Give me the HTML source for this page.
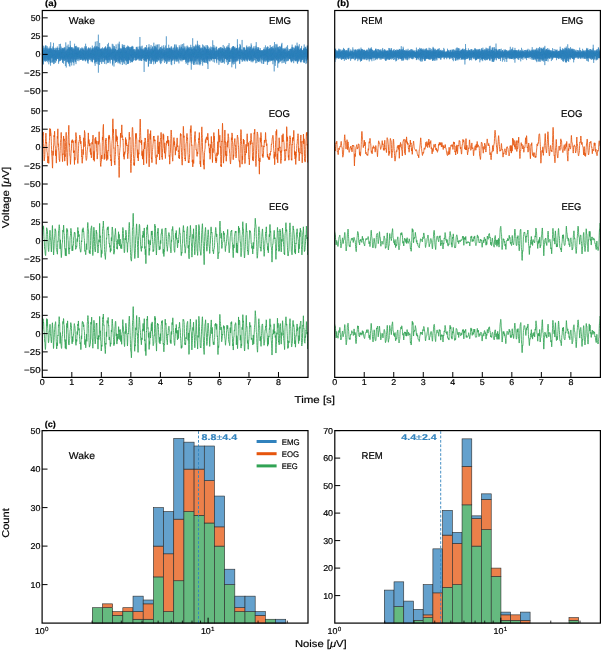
<!DOCTYPE html>
<html><head><meta charset="utf-8"><style>
html,body{margin:0;padding:0;background:#fff;}
svg{display:block;}
text{font-family:"Liberation Sans", sans-serif;stroke-width:0.18px;}
svg{text-rendering:geometricPrecision;}
</style></head><body>
<div style="will-change:transform"><svg width="602" height="650" viewBox="0 0 602 650">
<defs>
<clipPath id="clipA"><rect x="42.3" y="10.5" width="265.7" height="366.9"/></clipPath>
<clipPath id="clipB"><rect x="334.7" y="10.5" width="265.7" height="366.9"/></clipPath>
</defs>
<rect width="602" height="650" fill="#fff"/>
<g clip-path="url(#clipA)">
<path transform="translate(42.30 54.40) scale(0.02883 0.07312)" d="M0-57l1 38 1-39 1 51 1 91 1-10 1-8 1-29 1 37 1 43 1-112 1-59 1 15 1 15 1 47 1-84 1-65 1 164 1 100 1-51 1-16 1-64 1-82 1 64 1 28 1-52 1 37 1 9 1-43 1 6 1 0 1-15 1-23 1 26 1 51 1-24 1 71 1 75 1-124 1-53 1 31 1-48 1 39 1 96 1-25 1-41 1 32 1-40 1-56 1 64 1-32 1-91 1 97 1 45 1-115 1 7 1 132 1 18 1-125 1-30 1 83 1-5 1 2 1 100 1-34 1-104 1 83 1 27 1-125 1 62 1 82 1-68 1-3 1-25 1-35 1 17 1-33 1 27 1 6 1-34 1 96 1 19 1-67 1-4 1 1 1 43 1 30 1-9 1-41 1-70 1 74 1 59 1-45 1 54 1-4 1-58 1 23 1-52 1-79 1-9 1 30 1 39 1 12 1 53 1 62 1-19 1-52 1-82 1-63 1 98 1 118 1-84 1-48 1 104 1-42 1-61 1 36 1-35 1 38 1 3 1-92 1 50 1 18 1-4 1-103 1 115 1 28 1-47 1-89 1 113 1-16 1-66 1 132 1-14 1-94 1 58 1 51 1-10 1 15 1-13 1-70 1 23 1 30 1-48 1 84 1 30 1-124 1 41 1 83 1-35 1-12 1-2 1-22 1-15 1-2 1-2 1 5 1 18 1-27 1-18 1-5 1 2 1 61 1-40 1-64 1 79 1-18 1-81 1 33 1 29 1 50 1 46 1-118 1-61 1 184 1 34 1-167 1 46 1 52 1-98 1 38 1 30 1-8 1 15 1-34 1 42 1 45 1-42 1-47 1-50 1 96 1 50 1-124 1 21 1 9 1-28 1 64 1-79 1 25 1 128 1-88 1-15 1 67 1-33 1 11 1 6 1-33 1-47 1-35 1 36 1 3 1 18 1 72 1 27 1-76 1-6 1 46 1 32 1-83 1-39 1 39 1 1 1 10 1 4 1 52 1 75 1-103 1-82 1 43 1-72 1-2 1 120 1-63 1-70 1 116 1 51 1-77 1-33 1-2 1 24 1 98 1-41 1-117 1 104 1 39 1-91 1 53 1-36 1-33 1 101 1-85 1-54 1 75 1 2 1 26 1-60 1-14 1 104 1-105 1-24 1 121 1-92 1-31 1 146 1 35 1-112 1-57 1 70 1-7 1-15 1 4 1-101 1 76 1 111 1-111 1 7 1 71 1-41 1 16 1 65 1-34 1-103 1 71 1 71 1-173 1 111 1 129 1-70 1 32 1-68 1-214 1 36 1 126 1 39 1 36 1-22 1-84 1-19 1 26 1-37 1 68 1 106 1-118 1-37 1 7 1-20 1 83 1 16 1-77 1 30 1-42 1-19 1 95 1 18 1-18 1-24 1 16 1 29 1-98 1-29 1 39 1-34 1 53 1 47 1-30 1 33 1 13 1 14 1-4 1-113 1 3 1 95 1-10 1-26 1-54 1-34 1 102 1 18 1-64 1 29 1 11 1 27 1 74 1-30 1 4 1 28 1-63 1-108 1 23 1 61 1-28 1-25 1 13 1-20 1 2 1-13 1-20 1 101 1 17 1-81 1 49 1-42 1-86 1 110 1 26 1-33 1 99 1-2 1-111 1-40 1 17 1 27 1 39 1 29 1-68 1-31 1 58 1-74 1-6 1 114 1-47 1-14 1 24 1-16 1 88 1-30 1-31 1 50 1-174 1-54 1 106 1-36 1 44 1 32 1 29 1 76 1-141 1 24 1 157 1-125 1-18 1 68 1-15 1 62 1-80 1-27 1 131 1-87 1-72 1 33 1-73 1-18 1 125 1 1 1 34 1-106 1-1 1 67 1-25 1 41 1-7 1-94 1-6 1-3 1 18 1 39 1-49 1 21 1 50 1-53 1-21 1-2 1 25 1 71 1-29 1 6 1 97 1-36 1-73 1 35 1 19 1-21 1 4 1-40 1-61 1 43 1 17 1-49 1 42 1 5 1-70 1 5 1 76 1 68 1-60 1-34 1 90 1-47 1-22 1 62 1-106 1 20 1 136 1-66 1-82 1-20 1 7 1 66 1-17 1-94 1 40 1 128 1-47 1-68 1 66 1-43 1-5 1 70 1-79 1-5 1 29 1-21 1 53 1-60 1-23 1 122 1-152 1 37 1 83 1-12 1 59 1-22 1-26 1 60 1-65 1-77 1 31 1 66 1-22 1-72 1-4 1 60 1 4 1-21 1 7 1 19 1-55 1-12 1 78 1-29 1-15 1 56 1-29 1 1 1 45 1-12 1-9 1-2 1-11 1-10 1-57 1-57 1-7 1 114 1-16 1 35 1-50 1-58 1 92 1-29 1-66 1 49 1 16 1 66 1 14 1-60 1 22 1-57 1-5 1 96 1-38 1-1 1 37 1-41 1-13 1 65 1-120 1 10 1 34 1 14 1-60 1 33 1 83 1-19 1-15 1-33 1-39 1 19 1 37 1 26 1-49 1 14 1 54 1-74 1 52 1 96 1-101 1-50 1 17 1 7 1 21 1-52 1 23 1 112 1-34 1-71 1 23 1-45 1-37 1 93 1-25 1-66 1 106 1-27 1-111 1 50 1 36 1 5 1-57 1-87 1 116 1 70 1-118 1-17 1 85 1 39 1-13 1-10 1-17 1-15 1 29 1-35 1 10 1 106 1-70 1-71 1 90 1-11 1-48 1 16 1 7 1 18 1-11 1 24 1 57 1-66 1-64 1 53 1 44 1-23 1-37 1 40 1 52 1-88 1-28 1 99 1-54 1-65 1 73 1-3 1-33 1-48 1-86 1 103 1 106 1-106 1-33 1 68 1-29 1-30 1 86 1 52 1-64 1-30 1 38 1 41 1-8 1-51 1 29 1 25 1-56 1-25 1-65 1-12 1 137 1 14 1-45 1 58 1-25 1-68 1 8 1 5 1 29 1 37 1-52 1-45 1-6 1-22 1 70 1 56 1-50 1 26 1 30 1 15 1 13 1-102 1 9 1 50 1-89 1 35 1 24 1-61 1 46 1 37 1 31 1-95 1 19 1 1 1-32 1 77 1 39 1-150 1 57 1 68 1-67 1 26 1-61 1 9 1 97 1-54 1 45 1 79 1-94 1-75 1 79 1 75 1-106 1-5 1 63 1-138 1 18 1 138 1-30 1-72 1-60 1 68 1 37 1-81 1 65 1-23 1-47 1 112 1-14 1 9 1-16 1-106 1 110 1 25 1-120 1 36 1 14 1-12 1 21 1-55 1 60 1 65 1-29 1-35 1 133 1-99 1 13 1 41 1-58 1-89 1 65 1 70 1-23 1-18 1 16 1-30 1-39 1 56 1-13 1-72 1 24 1 3 1 13 1-21 1-60 1 101 1 30 1-40 1 61 1-51 1-10 1 92 1-15 1-59 1-65 1 4 1 24 1 3 1 85 1-23 1-32 1 32 1-120 1-8 1 46 1-42 1 93 1-23 1-91 1 56 1 9 1 34 1-13 1-47 1 130 1 20 1-78 1 3 1-27 1 29 1 27 1-11 1 13 1-69 1 18 1 80 1-48 1 23 1 112 1-190 1 8 1 64 1-7 1-44 1-31 1 51 1 20 1-14 1 60 1-83 1-157 1 74 1 70 1-3 1 96 1-24 1-91 1 19 1-18 1 7 1 29 1-28 1 19 1-20 1-19 1 73 1 5 1 154 1-158 1-63 1 58 1-53 1 91 1-30 1 6 1 7 1-16 1-51 1-26 1 22 1 84 1 58 1-66 1-76 1 2 1 55 1 29 1-70 1-60 1 28 1 43 1 12 1-28 1-51 1-44 1 36 1 126 1 24 1-36 1 35 1-40 1-31 1 26 1-74 1 8 1 64 1-38 1 16 1 5 1 28 1 70 1-125 1-41 1 101 1-25 1 43 1 3 1-89 1 29 1-42 1-30 1 42 1-20 1 63 1-20 1-51 1 110 1-24 1-18 1 52 1-32 1 72 1-87 1-147 1 155 1 3 1-56 1 148 1-56 1-89 1 67 1-58 1-80 1 164 1 65 1-136 1-66 1 58 1-47 1-21 1 85 1 25 1-32 1-53 1 15 1 53 1-33 1 1 1 11 1-32 1-2 1-22 1 65 1 107 1-28 1-28 1-77 1-61 1 116 1-2 1-44 1 81 1-40 1 15 1 120 1-68 1-95 1 61 1-49 1 28 1-42 1-22 1 13 1-79 1 23 1 115 1-8 1-11 1-17 1-98 1 7 1 67 1 24 1 162 1-120 1-126 1 73 1 23 1-113 1 97 1 24 1-82 1 170 1-54 1-244 1 154 1 140 1-87 1-18 1-42 1 31 1 83 1-196 1 66 1 83 1 21 1 38 1 2 1-118 1-30 1 90 1-51 1-59 1 125 1-5 1-62 1 113 1-37 1-145 1 23 1 64 1 16 1-6 1 15 1-20 1-64 1 19 1-24 1 8 1 118 1-76 1-64 1 81 1-12 1 29 1-1 1-28 1 71 1-20 1 9 1-34 1-114 1 117 1 11 1-30 1 152 1-155 1-87 1 203 1-57 1-121 1-27 1 34 1 84 1-103 1-6 1 109 1-17 1 51 1-42 1-67 1 91 1-59 1-39 1 85 1-21 1-17 1 5 1 40 1 45 1-54 1-22 1-22 1-6 1 53 1-8 1 29 1-14 1-61 1 99 1 28 1-125 1-49 1 58 1 15 1-100 1 55 1 107 1-101 1 4 1 38 1-42 1 56 1-39 1 23 1 103 1-139 1-42 1 78 1-29 1 25 1-39 1-28 1 96 1-17 1-58 1-14 1 54 1 79 1-69 1 29 1 86 1-133 1 3 1 95 1-121 1-45 1 42 1-2 1 94 1-7 1-102 1 121 1 89 1-116 1-18 1 1 1-73 1 32 1 32 1-28 1 12 1-5 1 40 1-26 1-38 1 34 1 10 1-3 1 9 1-6 1 50 1-19 1-49 1 71 1-78 1-129 1 131 1 86 1-83 1-2 1 30 1-28 1-43 1-22 1 23 1 34 1-16 1-31 1 73 1 89 1-74 1-85 1 48 1 63 1-12 1-94 1-52 1 108 1 104 1-161 1 83 1-52 1 14 1 37 1 4 1 8 1-63 1-84 1 98 1 99 1-69 1 17 1 75 1-79 1-58 1 50 1 22 1-12 1-42 1-40 1 54 1 59 1-79 1-83 1 134 1 100 1-158 1-56 1 104 1-19 1-56 1 2 1 42 1 30 1-49 1-24 1 41 1 64 1-2 1-86 1 31 1 17 1-49 1 60 1-73 1-69 1 96 1-27 1 57 1 63 1-118 1 64 1 52 1-53 1 35 1-45 1 4 1 1 1-84 1 61 1 33 1 8 1 1 1-70 1 93 1-24 1-121 1 108 1-23 1-19 1 113 1-92 1-53 1 43 1-6 1 49 1-5 1-34 1 31 1 40 1-24 1-59 1 45 1-41 1-81 1 92 1-8 1-17 1 76 1-21 1 40 1-35 1-105 1 87 1 14 1-35 1 45 1-28 1-9 1-5 1-7 1 10 1-18 1 51 1-45 1-66 1 118 1-14 1-92 1 50 1 51 1 23 1-59 1-75 1 36 1 33 1 20 1-5 1-8 1 67 1 9 1-90 1-80 1 63 1 129 1-48 1-47 1 40 1-45 1 15 1 58 1-35 1-34 1-32 1 0 1 23 1-27 1 19 1 31 1-21 1 13 1 33 1-8 1-40 1-24 1 20 1 25 1 22 1 3 1-57 1-19 1 52 1 1 1-13 1-7 1-38 1 66 1 24 1-99 1 64 1 33 1-76 1 80 1-1 1-28 1 59 1-133 1-4 1 121 1-121 1 11 1 101 1-93 1-16 1 75 1 58 1-29 1-128 1 39 1 101 1-42 1-24 1 12 1-21 1-8 1 1 1-5 1 37 1 35 1-64 1 5 1 87 1-75 1-72 1 46 1 7 1 41 1 47 1-25 1 1 1-2 1-23 1 5 1-8 1-53 1-5 1 62 1 21 1-12 1-26 1-41 1 88 1 29 1-148 1 9 1 105 1 8 1-28 1-91 1-23 1 64 1 6 1 47 1 35 1-61 1-7 1 18 1-32 1 41 1-18 1-1 1-23 1-7 1-9 1 58 1 39 1-93 1 1 1 83 1 0 1-5 1-36 1-1 1 63 1-37 1-49 1-44 1-16 1 118 1 5 1-71 1 30 1-45 1-13 1 64 1-7 1 58 1 19 1-145 1-29 1 138 1 43 1-106 1-9 1 91 1-79 1-57 1 145 1-4 1-151 1 30 1 63 1-76 1 11 1 84 1-26 1-10 1 8 1-33 1 62 1 50 1-34 1 1 1-55 1-55 1 66 1 28 1-39 1-23 1 2 1 33 1 3 1-3 1-8 1-44 1 13 1-1 1-25 1 77 1 39 1-25 1-2 1-60 1-7 1 54 1-45 1 14 1 74 1-49 1-9 1 69 1-25 1-37 1-11 1-46 1 49 1 67 1-123 1 17 1 107 1-39 1-13 1-8 1-27 1 78 1-43 1-126 1 29 1 30 1 29 1 54 1-75 1-42 1 98 1 11 1-70 1 68 1 43 1-110 1 28 1 59 1-87 1 50 1 85 1-66 1-34 1 25 1 38 1-41 1-64 1 94 1 54 1-38 1-41 1-57 1 49 1-43 1-112 1 121 1 42 1-89 1 6 1-12 1 55 1 94 1-1 1-103 1 38 1 43 1 33 1-85 1 33 1-9 1-122 1 63 1 82 1-68 1 4 1 87 1-63 1-116 1 96 1 84 1-73 1-19 1 14 1 28 1 32 1-6 1 22 1-47 1-58 1 42 1-16 1-32 1 12 1 22 1 55 1-2 1-38 1-29 1 5 1 60 1-49 1-53 1 86 1 14 1-39 1-9 1-48 1-12 1 54 1 28 1-32 1-31 1-2 1 44 1 101 1-13 1-93 1-9 1-26 1 48 1 79 1-79 1 30 1 85 1-72 1-27 1-21 1-44 1 40 1 14 1 1 1 23 1-10 1-21 1-30 1-9 1 12 1 30 1 27 1-53 1 38 1 116 1-94 1-112 1 39 1-45 1 87 1 87 1-76 1-4 1 42 1-130 1 15 1 87 1-119 1 40 1 115 1-104 1-2 1 84 1-8 1 6 1-53 1-36 1 90 1 30 1-50 1-17 1-8 1-9 1 26 1 23 1-11 1-1 1-21 1 2 1 13 1-83 1 38 1 87 1-123 1 17 1 117 1-83 1-5 1 13 1-76 1 65 1 67 1-41 1 29 1 38 1-3 1-36 1-25 1-5 1-8 1 15 1-16 1-5 1 52 1-16 1-18 1 41 1-1 1-36 1-56 1-24 1 46 1 38 1 36 1-22 1-103 1-7 1 46 1-29 1-32 1-1 1 58 1 80 1-46 1-48 1 74 1 12 1-18 1 61 1-34 1-67 1 41 1-6 1-39 1 48 1 39 1-12 1-10 1-9 1-31 1-20 1 11 1 4 1 49 1 56 1-76 1-78 1-2 1 0 1 64 1 26 1-50 1 32 1-29 1-66 1 70 1 2 1-24 1 91 1-6 1-51 1 24 1-34 1-24 1 39 1-2 1 17 1 21 1-82 1-8 1 139 1-4 1-123 1 42 1 63 1-81 1-42 1 21 1-26 1-4 1 54 1 17 1-47 1-27 1 81 1 92 1-59 1-52 1 42 1-78 1-79 1 103 1 46 1-101 1 21 1 158 1-45 1-143 1 111 1 62 1-84 1 47 1-61 1-72 1 135 1 1 1-70 1 35 1 3 1 5 1 13 1-3 1-69 1-51 1 133 1 20 1-132 1-4 1 9 1-9 1 8 1 29 1 53 1-29 1 34 1 11 1-97 1 61 1-3 1-69 1 67 1-20 1 33 1 13 1-122 1 69 1 49 1-13 1 55 1-79 1 4 1 35 1-75 1 39 1 5 1-7 1 41 1-11 1 53 1-42 1-52 1 66 1-59 1 4 1 61 1-44 1 11 1-19 1 26 1 31 1-150 1 18 1 153 1-14 1-59 1-27 1-16 1-36 1 31 1 88 1-28 1-20 1-15 1 21 1 122 1-112 1-127 1 87 1-9 1 22 1 49 1-33 1 9 1-110 1 124 1 87 1-149 1-10 1 205 1-162 1-35 1 25 1 55 1-99 1-114 1 180 1 53 1-143 1 20 1 88 1 77 1-32 1-52 1 56 1-64 1 14 1 81 1-155 1-2 1 135 1-48 1-16 1 10 1-7 1 6 1-53 1 34 1 43 1-54 1-33 1-29 1 49 1 25 1-97 1 46 1 38 1-78 1 84 1 62 1-84 1-29 1 52 1 98 1-40 1-166 1 41 1 128 1-52 1-91 1 53 1 97 1-80 1-98 1 135 1 72 1-107 1-4 1 34 1 26 1 79 1-93 1-102 1 118 1-67 1-165 1 125 1 45 1-101 1 86 1 61 1-40 1 67 1 32 1-95 1-21 1 71 1-19 1-68 1-2 1 48 1 62 1-33 1-51 1 69 1-10 1-66 1-4 1-47 1 39 1 83 1-35 1 31 1 36 1-71 1-20 1 17 1-9 1-14 1 10 1 4 1-71 1-24 1 113 1 119 1-41 1-166 1-30 1 43 1-19 1 92 1-285 1 520 1-301 1 38 1-44 1 91 1 45 1-117 1 3 1 104 1-47 1-62 1 85 1 28 1-85 1-42 1 7 1 3 1 20 1 65 1 48 1-28 1-67 1-42 1 48 1 8 1-55 1 111 1 36 1-196 1 44 1 157 1-112 1-52 1 94 1-16 1-23 1 22 1 43 1 83 1-41 1-92 1-10 1-100 1-58 1 87 1 60 1 80 1-41 1-104 1 99 1-37 1-69 1 159 1-46 1-107 1 41 1-29 1 69 1 34 1-91 1 50 1-1 1-59 1 65 1 30 1-17 1 11 1 6 1-57 1-34 1 74 1-3 1 6 1 83 1-71 1-41 1 63 1-41 1-37 1 72 1-85 1-33 1 9 1 63 1-8 1-5 1 44 1-1 1 25 1-58 1-69 1 98 1 8 1 1 1 73 1-80 1-3 1 39 1-134 1-10 1 101 1-15 1-27 1-8 1-37 1 14 1 75 1-12 1-60 1 19 1-21 1-27 1 105 1 103 1-15 1-75 1-15 1 1 1-71 1 8 1 45 1-45 1 45 1 62 1-100 1-54 1 86 1 21 1-76 1 16 1 85 1-34 1-46 1 62 1-21 1-78 1 63 1 29 1-68 1 79 1 26 1-158 1 3 1 83 1-30 1 7 1 7 1 26 1 87 1-29 1-49 1 59 1 35 1-73 1-82 1 50 1 19 1-81 1 35 1 38 1-15 1 48 1-26 1-2 1 93 1-29 1-76 1-38 1 17 1 64 1-56 1-31 1 70 1-35 1-11 1 25 1-45 1 26 1-11 1-55 1 83 1 20 1-59 1 51 1 35 1-32 1 14 1 0 1-76 1-4 1 76 1-41 1-55 1 18 1-2 1 67 1-8 1-93 1 129 1 54 1-164 1-11 1 37 1 17 1 69 1-57 1-42 1 109 1 16 1-86 1 51 1 92 1-118 1-50 1 125 1-83 1-96 1 78 1 29 1 67 1-13 1-101 1 85 1-23 1-92 1 108 1-19 1-83 1 52 1-39 1-53 1 62 1 74 1-9 1-61 1 61 1-58 1 37 1-81 1 26 1 70 1 13 1-61 1 7 1 36 1 32 1 28 1-124 1-67 1 93 1-25 1 8 1 91 1-81 1-72 1 47 1 51 1 61 1-41 1-65 1 59 1 1 1-43 1 59 1 13 1-54 1 42 1 13 1-123 1 48 1 164 1-79 1-72 1 52 1-60 1-33 1-9 1-5 1 32 1 120 1-55 1 6 1-68 1 4 1 89 1-9 1-3 1 28 1-36 1-99 1-6 1 106 1-27 1-48 1 29 1-32 1-8 1-36 1 11 1 155 1-7 1-87 1-22 1-24 1 76 1 10 1-29 1 58 1-47 1 20 1 9 1-134 1 115 1 78 1-235 1 106 1 151 1-145 1-32 1 94 1-23 1 11 1 15 1-132 1 5 1 159 1-31 1-77 1 21 1 9 1 17 1 28 1 27 1-46 1-85 1 56 1 71 1-34 1-74 1 1 1 95 1-45 1-47 1 69 1-34 1 72 1 52 1-134 1 24 1-61 1-103 1 151 1 8 1-12 1 87 1-52 1-63 1 35 1-100 1 104 1 10 1-35 1 55 1-49 1 0 1 52 1-49 1-55 1 44 1 131 1 3 1-104 1 27 1 35 1-79 1-46 1 27 1-16 1-22 1 86 1 22 1-88 1 37 1 92 1-31 1-83 1 21 1 61 1-40 1-1 1 14 1-72 1 44 1 13 1-110 1 66 1 44 1-101 1 67 1 117 1-30 1 16 1-20 1 10 1-6 1-40 1-75 1 31 1 62 1-75 1 36 1 127 1-117 1-96 1 104 1 12 1-16 1 24 1-59 1 12 1 47 1-85 1-22 1 50 1-31 1 12 1 66 1-23 1-56 1 11 1 53 1 26 1 10 1-8 1-68 1-27 1 60 1 26 1 2 1 42 1-5 1-58 1 12 1 28 1-47 1-43 1-26 1-10 1 87 1 48 1-78 1 9 1 69 1-50 1-23 1 25 1-40 1 47 1 55 1-93 1 4 1 76 1-43 1-20 1 12 1-20 1-10 1-10 1 0 1-30 1 11 1 68 1-51 1-2 1 111 1-30 1-53 1 14 1-45 1-29 1 44 1-121 1 134 1-20 1-15 1-33 1 63 1 41 1-33 1 159 1-142 1 12 1 101 1-52 1-12 1 70 1-88 1-95 1 35 1 95 1 9 1-60 1 4 1-48 1-23 1 58 1-40 1 0 1-17 1-94 1 72 1 63 1-6 1 53 1-9 1-33 1-52 1-32 1 52 1-19 1 20 1 50 1-66 1 19 1 41 1-16 1 48 1 17 1-7 1-44 1-79 1 40 1 24 1 11 1 48 1-74 1-8 1 27 1-118 1 95 1 185 1-85 1-46 1 51 1-76 1-88 1 12 1 102 1 38 1-105 1-14 1 90 1-9 1-94 1-53 1 45 1 44 1 15 1 51 1-30 1-50 1 72 1 30 1-38 1-30 1-32 1-19 1 92 1-24 1-80 1 32 1 78 1 28 1-30 1-63 1-7 1-12 1-41 1 79 1 32 1-24 1 81 1-60 1-58 1 90 1-50 1 0 1 21 1-106 1 48 1-8 1-19 1 172 1-74 1-114 1 88 1-56 1-26 1 66 1-6 1 59 1 48 1-38 1-64 1-44 1 46 1 40 1-51 1-49 1 63 1 63 1-97 1-69 1 8 1-47 1 8 1 81 1 90 1 40 1-49 1-23 1-21 1 26 1 83 1-83 1-18 1 107 1-85 1-45 1 46 1-76 1 1 1 80 1 34 1-12 1-82 1 6 1 55 1-56 1-16 1 27 1 12 1 35 1-45 1 10 1 105 1-90 1-66 1 128 1-17 1-54 1 65 1-39 1-64 1 17 1-1 1 20 1 24 1-25 1-18 1 0 1-24 1-6 1 21 1 0 1 36 1 22 1-79 1-8 1 60 1-13 1-7 1 43 1 32 1-65 1-27 1-1 1-21 1 108 1 71 1-148 1 4 1 4 1-129 1 111 1 133 1-27 1-85 1-59 1 110 1-17 1-67 1 133 1-11 1-13 1 32 1-124 1 27 1 33 1-38 1 60 1-56 1-8 1 57 1-33 1 12 1-65 1-38 1 44 1-18 1 79 1 13 1-53 1 40 1-51 1 30 1 94 1-34 1-79 1-121 1 115 1 143 1-146 1 78 1 39 1-266 1 30 1 144 1 7 1 10 1-60 1-28 1 30 1 75 1 21 1-135 1 79 1 111 1-151 1 32 1 79 1-108 1-9 1-13 1-31 1 76 1 11 1 12 1 35 1-65 1 12 1 79 1 1 1 44 1 20 1-111 1-43 1 18 1-15 1 59 1 21 1-113 1 6 1 115 1-45 1-51 1 96 1-13 1-82 1 8 1-19 1 20 1 24 1-90 1 7 1 89 1 23 1 7 1-55 1-62 1 8 1 35 1 28 1-52 1-24 1 69 1 16 1-35 1 8 1 96 1 30 1-133 1-36 1 35 1-8 1 42 1-36 1-32 1 99 1 46 1-42 1-73 1 32 1 77 1-119 1-39 1 129 1 12 1-24 1-42 1-52 1 67 1 65 1-24 1-60 1 20 1 44 1-95 1-5 1 79 1-12 1-17 1 100 1-84 1-53 1-18 1-30 1 133 1 4 1-197 1 94 1 191 1-76 1-92 1-86 1-9 1 144 1-39 1-31 1 88 1-45 1 60 1 23 1-125 1 65 1-3 1-76 1 38 1-27 1 91 1 31 1-175 1 80 1 97 1-71 1 42 1-47 1-85 1 82 1 25 1-38 1 35 1 8 1-50 1 52 1 74 1-121 1-114 1 64 1 69 1 45 1-18 1-118 1 31 1 119 1-88 1-67 1 82 1 0 1 54 1 52 1-137 1-19 1 27 1-59 1 100 1 22 1-65 1 124 1 33 1-92 1 11 1 19 1-63 1-43 1 91 1 89 1-19 1-51 1-49 1 0 1-63 1-47 1 117 1-25 1-43 1 97 1-63 1-38 1 14 1-93 1 49 1 123 1 1 1-102 1-29 1 108 1-39 1-42 1 67 1-28 1 40 1-4 1-49 1 70 1-63 1 12 1 95 1-77 1-5 1 8 1-62 1 145 1-37 1 17 1-1 1-154 1 85 1 53 1-36 1 44 1-101 1 12 1 99 1-67 1-18 1-3 1-47 1-1 1 78 1 67 1-68 1-7 1 18 1-34 1 74 1-55 1-45 1 99 1-137 1-6 1 229 1-59 1-132 1 29 1 40 1-32 1-88 1 48 1 95 1-40 1-27 1-11 1-27 1 76 1 79 1-37 1-56 1-32 1 1 1 41 1-57 1-62 1 55 1 9 1 47 1 55 1-89 1-20 1 7 1 26 1 109 1-63 1-16 1 74 1-127 1 15 1 88 1-110 1 14 1 67 1-41 1-30 1-34 1 33 1 92 1 63 1 12 1-98 1-64 1 43 1-4 1 1 1 46 1-87 1-89 1 78 1-17 1-30 1 167 1 5 1-103 1 46 1-30 1-8 1 18 1-106 1 97 1 134 1-105 1 12 1 33 1-118 1 72 1 107 1-147 1-80 1 48 1-48 1-3 1 19 1-33 1 110 1 120 1-21 1-43 1-58 1-55 1-27 1 55 1 111 1-23 1-71 1-26 1 2 1 95 1-10 1-90 1 56 1 13 1-64 1 12 1 54 1 26 1-35 1-7 1 12 1 4 1 50 1-75 1-75 1 122 1 16 1-72 1 46 1 33 1-16 1-53 1-75 1-31 1 23 1 83 1 1 1-88 1 38 1 50 1-40 1 12 1 25 1-28 1 48 1-43 1-35 1 74 1 54 1-75 1-63 1 55 1 45 1 22 1 37 1-93 1-78 1 83 1-33 1-20 1 165 1-11 1-161 1-46 1 32 1 91 1 71 1-8 1-44 1-55 1 25 1 8 1-51 1 33 1-17 1-55 1 69 1 42 1-52 1 2 1 59 1-20 1-25 1 41 1-88 1-51 1 127 1-20 1-69 1 61 1 12 1-6 1 20 1-6 1-24 1-14 1 25 1-5 1 4 1 7 1-106 1-8 1 161 1 34 1-137 1-66 1 94 1 17 1-49 1 53 1-6 1-7 1 30 1-48 1 44 1 15 1-80 1 21 1 6 1 54 1 64 1-104 1 34 1 76 1-157 1-55 1 118 1-33 1-99 1 124 1 88 1-111 1 62 1 8 1-158 1 137 1 69 1-138 1 91 1 16 1-122 1 32 1 28 1-6 1-26 1-37 1 61 1 28 1-43 1-23 1 22 1 42 1-44 1-9 1 64 1-39 1-25 1-21 1-59 1 103 1 63 1-57 1 54 1-15 1-97 1 27 1 56 1 29 1-52 1-73 1 49 1 22 1-21 1-16 1-33 1 102 1 56 1-100 1 9 1 2 1-29 1 59 1-22 1-6 1 71 1-31 1-60 1-13 1 14 1 10 1 13 1 69 1-1 1-55 1-22 1-68 1 19 1 48 1-69 1 36 1 73 1-33 1 35 1 3 1-80 1 15 1 20 1-31 1 28 1 24 1-15 1-7 1-44 1-4 1 72 1 4 1-17 1-7 1-42 1 43 1 38 1-43 1 33 1 18 1-41 1 1 1-23 1-12 1 29 1-22 1-6 1 45 1 1 1-49 1-34 1 25 1 76 1 14 1-69 1-17 1 14 1-7 1 35 1 11 1 21 1 44 1-69 1-27 1 39 1-45 1 2 1 10 1-5 1 23 1-48 1 55 1 63 1-132 1 11 1 79 1-64 1-52 1 64 1 82 1-38 1-34 1 82 1-112 1-71 1 177 1-27 1-75 1 51 1-42 1 22 1 40 1-54 1-13 1-4 1 17 1-33 1-58 1 90 1 61 1-11 1-18 1-67 1 18 1 21 1-13 1 48 1-19 1 3 1 5 1-68 1 62 1-2 1-99 1 86 1 72 1-18 1-15 1-57 1 26 1 65 1 0 1-14 1-50 1-18 1 16 1-17 1 16 1-3 1-66 1 19 1 84 1-33 1-56 1 56 1 11 1-18 1 33 1-23 1-4 1-23 1-84 1 65 1 103 1-13 1-52 1-5 1 61 1-37 1-35 1 65 1-61 1-15 1 37 1-74 1 79 1 35 1-117 1 62 1 49 1-47 1 3 1-13 1 39 1 46 1-32 1-13 1 11 1-22 1-65 1-2 1 38 1-3 1 25 1-29 1-8 1 74 1-62 1-33 1 43 1-27 1 69 1 54 1-31 1-28 1-77 1 51 1 44 1-96 1 56 1 42 1-67 1-28 1-63 1 66 1 111 1-86 1-10 1 76 1-54 1-24 1 77 1-2 1-62 1 31 1 22 1-42 1-8 1-39 1-10 1-174 1 247 1 7 1 29 1 25 1 13 1-74 1-38 1 7 1-41 1 31 1 49 1 4 1 2 1-8 1 63 1-26 1-127 1 67 1 45 1-78 1 28 1 12 1 13 1 39 1-60 1 1 1-2 1-69 1 63 1 6 1-86 1 75 1 80 1-35 1-1 1 11 1-81 1-65 1 107 1 91 1-58 1-19 1-7 1-66 1 5 1 42 1-10 1-17 1 49 1 48 1-44 1 8 1 74 1-11 1-32 1-57 1-61 1 78 1 53 1-77 1-4 1 71 1-22 1-100 1-5 1 120 1 42 1-62 1-24 1-32 1-26 1 75 1 22 1-44 1 49 1 18 1-68 1-70 1-43 1 85 1 82 1-39 1 3 1-12 1-56 1 27 1 66 1 16 1-87 1-31 1 106 1 5 1-35 1 12 1-62 1-29 1 38 1 52 1 32 1-37 1-27 1-27 1 8 1 53 1-52 1-19 1 69 1 14 1-38 1-64 1 48 1 68 1-78 1 26 1 25 1-14 1 40 1-19 1-20 1-11 1 12 1 67 1-89 1-40 1 102 1-23 1-20 1-6 1-13 1 46 1-48 1-14 1 64 1-43 1-57 1 27 1 45 1-21 1 28 1 32 1-134 1 8 1 96 1-34 1 59 1 197 1-311 1 105 1-29 1-34 1 35 1-42 1 32 1 2 1 29 1 61 1-110 1-28 1 42 1 1 1 49 1-23 1 2 1 36 1-17 1-10 1-90 1 18 1 112 1-59 1-45 1 14 1-22 1-54 1 9 1 172 1-12 1-132 1 97 1 42 1-56 1-29 1-25 1 57 1-8 1-31 1-7 1-70 1 91 1 36 1-138 1 94 1 104 1-121 1-33 1 97 1 21 1-24 1 32 1-57 1-90 1 88 1 41 1-107 1-35 1 45 1 36 1 18 1-8 1-37 1 40 1 77 1-69 1-45 1 41 1 6 1 32 1-34 1-26 1 34 1-37 1 51 1-19 1-86 1 130 1-46 1-100 1 188 1 2 1-170 1-61 1 38 1 118 1-4 1-11 1 73 1-79 1-53 1 48 1-38 1-14 1 66 1-2 1-36 1 43 1-22 1-75 1 83 1 50 1-68 1-13 1 27 1 32 1-38 1-23 1 61 1-25 1 8 1 48 1-56 1-39 1 4 1 74 1 7 1-113 1 49 1 13 1-63 1 67 1-30 1-8 1 66 1-24 1 40 1-30 1-54 1 82 1-16 1-49 1 64 1-72 1 12 1-79 1 34 1 62 1-63 1 34 1-11 1 9 1 40 1-118 1 140 1 131 1-183 1 27 1 2 1-45 1 190 1-46 1-98 1 60 1-101 1-2 1 46 1-41 1 105 1-34 1-138 1 43 1-6 1-25 1 54 1 29 1-23 1-122 1 0 1 131 1-36 1 23 1 106 1-62 1-19 1 26 1-5 1 41 1-62 1-52 1 80 1-70 1 48 1 30 1-27 1 72 1-17 1-56 1 20 1-28 1 12 1-27 1-64 1 87 1 45 1-21 1-8 1-74 1-40 1-11 1-7 1 155 1-45 1 50 1 74 1-114 1 1 1 28 1-76 1 6 1 69 1-99 1 68 1-19 1 38 1 5 1-93 1 30 1 31 1-17 1-12 1-47 1 48 1 49 1-54 1 19 1 23 1-39 1-5 1 11 1 50 1 66 1-30 1-57 1 3 1-23 1-25 1 59 1-46 1-105 1 67 1 28 1 11 1 145 1-47 1-161 1 22 1 107 1 84 1-53 1-91 1 9 1-26 1 19 1 26 1-55 1 53 1 32 1-25 1 22 1-59 1-25 1 42 1 30 1 61 1-55 1-42 1-7 1-55 1 76 1 20 1-101 1 2 1 27 1 83 1 9 1-107 1 92 1 68 1-76 1-43 1-35 1 55 1 4 1-12 1 85 1-137 1-43 1 144 1-133 1-16 1 182 1-7 1-24 1-1 1-3 1 12 1-42 1-38 1-34 1 68 1 48 1-108 1 28 1 42 1-32 1 65 1-20 1-31 1-8 1-52 1 136 1-106 1-24 1 117 1-89 1-54 1 77 1-41 1 64 1 78 1-81 1-53 1 18 1 51 1-3 1-26 1 24 1 46 1 65 1-75 1-91 1 70 1-99 1-101 1 179 1 67 1-88 1 15 1 74 1-22 1-102 1 33 1 88 1-54 1-70 1 8 1-8 1-24 1 45 1 28 1-125 1 15 1 135 1-58 1-45 1 43 1-5 1 7 1 33 1 72 1-49 1-139 1 75 1 85 1-26 1 30 1-34 1-46 1-18 1-52 1 58 1 68 1 9 1 63 1-9 1-61 1 6 1 7 1-34 1-76 1 10 1 102 1-42 1-61 1 67 1-10 1-62 1 5 1 48 1 118 1 15 1-162 1 6 1 147 1-93 1-126 1 123 1 16 1-152 1 21 1 93 1-5 1 72 1-71 1-5 1 114 1-65 1-65 1-55 1-55 1 178 1 51 1-153 1-21 1 33 1 74 1 3 1-85 1 71 1 34 1-69 1-21 1 2 1 53 1-21 1-20 1 67 1-66 1-70 1 102 1-36 1 66 1 58 1-56 1-32 1-39 1 34 1 62 1-25 1-44 1-47 1 18 1 44 1 21 1 49 1-62 1-88 1 100 1 12 1-95 1-78 1 113 1 93 1-1 1 30 1-116 1-44 1 111 1-101 1 3 1 101 1-113 1 33 1 82 1-64 1 31 1 9 1-102 1-71 1 80 1 112 1-62 1-26 1 8 1-40 1 82 1 13 1-19 1 80 1-102 1 1 1 82 1-46 1-75 1 3 1 26 1-20 1-25 1 76 1 35 1 4 1-50 1 30 1-17 1-56 1 25 1 40 1-60 1 42 1 70 1-105 1-32 1 101 1-7 1-48 1 62 1 27 1-72 1-37 1 18 1 43 1 0 1-48 1 32 1-40 1-108 1 105 1 120 1-25 1 7 1-10 1-79 1-39 1 54 1 24 1-39 1 50 1 9 1-107 1 21 1 65 1 4 1 14 1-55 1-61 1 84 1 52 1-97 1-32 1 28 1-11 1 87 1 24 1-82 1 49 1-32 1-49 1 148 1 24 1-49 1-1 1-75 1 20 1 18 1-65 1 40 1-21 1-79 1 51 1 61 1-2 1-41 1-5 1 87 1 29 1-71 1-42 1 2 1 47 1 117 1-77 1-43 1 6 1-30 1 22 1 8 1-79 1 45 1 1 1-84 1 76 1 30 1-26 1-4 1-72 1 47 1 23 1-28 1 112 1-45 1-47 1 152 1-35 1-116 1 17 1 37 1-17 1-73 1 29 1 85 1 5 1-16 1-10 1 29 1-41 1-20 1 45 1-41 1-38 1 126 1 4 1-51 1-63 1-94 1 156 1-42 1-41 1 51 1-36 1 23 1-31 1-37 1 131 1-15 1-87 1 36 1 17 1-29 1-57 1 33 1 46 1-39 1 47 1-12 1-35 1 89 1-48 1-53 1 80 1-21 1-86 1 6 1 105 1 10 1-69 1 45 1 6 1 14 1 57 1-69 1 22 1 23 1-99 1 12 1-33 1-22 1 110 1-16 1-14 1 24 1-49 1 11 1-8 1-3 1 77 1 5 1-46 1-28 1 5 1 16 1-6 1 26 1-28 1 3 1-24 1-110 1 70 1 86 1-57 1 37 1 1 1-26 1 41 1-46 1-12 1-25 1-39 1 92 1-45 1-44 1 139 1-25 1-72 1 42 1 20 1 37 1 1 1 10 1 15 1-95 1 20 1 53 1-116 1 45 1 87 1-105 1 58 1 96 1-150 1-24 1 122 1-34 1-69 1-2 1 75 1-59 1-27 1 28 1 24 1-25 1 22 1 17 1 1 1 12 1 14 1 9 1-82 1 4 1 117 1-67 1-41 1 59 1-57 1 8 1 36 1-29 1 18 1-61 1-78 1 31 1 58 1 40 1-41 1 30 1 96 1-85 1-62 1 61 1 32 1 60 1-33 1-131 1-10 1 28 1 29 1 82 1-9 1-56 1 57 1-3 1-129 1 3 1 72 1-29 1-7 1 42 1 30 1-21 1-261 1 231 1 5 1-20 1 34 1 4 1 5 1 120 1-124 1 13 1 15 1 7 1-25 1-40 1 39 1-4 1-70 1-33 1 20 1 130 1 17 1-102 1 35 1-7 1-22 1 107 1 34 1-73 1-90 1 61 1-28 1-67 1 55 1 28 1-89 1 75 1 36 1-21 1 31 1-81 1 53 1 83 1-144 1 9 1 93 1-71 1-12 1 43 1-34 1-21 1 62 1-48 1-56 1 87 1 65 1-95 1 6 1 45 1 16 1-17 1-103 1 13 1 50 1-26 1 102 1 24 1-133 1 27 1 73 1-31 1-8 1 9 1 7 1 1 1-47 1 4 1 56 1-8 1 40 1 27 1-172 1-60 1 139 1-27 1-57 1 89 1 28 1-30 1-13 1-26 1-19 1 17 1 82 1 19 1-85 1 2 1 34 1-50 1 7 1 54 1-19 1 27 1 38 1-124 1-37 1 94 1-81 1-18 1 136 1-7 1-17 1-42 1-67 1 137 1 47 1-108 1-26 1-8 1 81 1 41 1-89 1 25 1 1 1-30 1 64 1-10 1-24 1-54 1-55 1 122 1 16 1-134 1 23 1 101 1 1 1-75 1-8 1 14 1-36 1 52 1 38 1-15 1 62 1-29 1-73 1 48 1 34 1-26 1 5 1 37 1-45 1-62 1 41 1-27 1-40 1 59 1 11 1 17 1 18 1-2 1 0 1-102 1 13 1 74 1-61 1 125 1 54 1-245 1 15 1 111 1-77 1 92 1 61 1-124 1 60 1 74 1-113 1-51 1-7 1 9 1 64 1-29 1 14 1 11 1-109 1 127 1 127 1-115 1 52 1-9 1-165 1 76 1 69 1-62 1-10 1-36 1 8 1 66 1-8 1-19 1 42 1-19 1-96 1 55 1 106 1-65 1-67 1-7 1 19 1 57 1-16 1-45 1-4 1-2 1 6 1 33 1 56 1 0 1-37 1-40 1-26 1 112 1 12 1-122 1 74 1 65 1-3 1-6 1-143 1 34 1 111 1-82 1 37 1 15 1-90 1 46 1-12 1-45 1 35 1-18 1-1 1 57 1 39 1-16 1-30 1 17 1-9 1-47 1-6 1 38 1-11 1-83 1 14 1 78 1 2 1 17 1 15 1-42 1-47 1-8 1 77 1 45 1-66 1-42 1 21 1-2 1-13 1 48 1-29 1-84 1 83 1 72 1-24 1 6 1-51 1 8 1 92 1-16 1-43 1 45 1 65 1-76 1-75 1 58 1-77 1-5 1 79 1-168 1 42 1 151 1-120 1 30 1 62 1-16 1 39 1-195 1 1 1 202 1-19 1-36 1 20 1-71 1-6 1 73 1 59 1-21 1-33 1 17 1-42 1-40 1 7 1-16 1 1 1 27 1 29 1 26 1-22 1-45 1 5 1 2 1-31 1 57 1 63 1-20 1-26 1-81 1-9 1 75 1-28 1 45 1 12 1-128 1 35 1 29 1-36 1 70 1 30 1 11 1-19 1 0 1 70 1-65 1 13 1 16 1-197 1 69 1 161 1-86 1-17 1-51 1-51 1 137 1 18 1-68 1 46 1 42 1-14 1-60 1-45 1 26 1 12 1-3 1 24 1-11 1 16 1 58 1-75 1-72 1 41 1 2 1 53 1 21 1-76 1 67 1 37 1-52 1 24 1-25 1 17 1 23 1-71 1-79 1 33 1 67 1 60 1-58 1-35 1-16 1 45 1 96 1-77 1-30 1 26 1-74 1 52 1 2 1-58 1 119 1 10 1-52 1 20 1-95 1-33 1 70 1-3 1 20 1 42 1-36 1-50 1 3 1 24 1 8 1-5 1 6 1 53 1 55 1 3 1-30 1-62 1-14 1 56 1 0 1-53 1-30 1 3 1 26 1 16 1-9 1-43 1-4 1 72 1 15 1-72 1-36 1 90 1 102 1-81 1-83 1 76 1-2 1-78 1 27 1 41 1-3 1-10 1-41 1 26 1 75 1-103 1-91 1 116 1 24 1-88 1 22 1 67 1 3 1-35 1 48 1 6 1-137 1 39 1 103 1-38 1 43 1 13 1-93 1 61 1-112 1 54 1 48 1-16 1-48 1 33 1 89 1-41 1-104 1 52 1-10 1-38 1 112 1-2 1-55 1 37 1-5 1-13 1-11 1 10 1 20 1-58 1 6 1 73 1-25 1-40 1 23 1-32 1-58 1 94 1 65 1-85 1-1 1 6 1-3 1 98 1-76 1-25 1 35 1-134 1 63 1 99 1-103 1 76 1 18 1-180 1 20 1 110 1 26 1-8 1-26 1 22 1 30 1-28 1-42 1 18 1 40 1-61 1-66 1 65 1 78 1-11 1-11 1 31 1-35 1-41 1 26 1 15 1 30 1-65 1-75 1 150 1 12 1-100 1 97 1-31 1-43 1 102 1-62 1-49 1 16 1-24 1 29 1-39 1 36 1 70 1-115 1 35 1 20 1-154 1 46 1 128 1-32 1 4 1 17 1-44 1-60 1 34 1 80 1-74 1-23 1 127 1-8 1-77 1 22 1 30 1-17 1-11 1 13 1 6 1 26 1 31 1-46 1-82 1-18 1 57 1 48 1 32 1 13 1-95 1-47 1 81 1 22 1-17 1-49 1-49 1 78 1 21 1-42 1 54 1-27 1-81 1 72 1 64 1-150 1-65 1 214 1 12 1-163 1 91 1 49 1-101 1-18 1 22 1 89 1-112 1 97 1 7 1-44 1 44 1 39 1-187 1 1 1 166 1-14 1-25 1 2 1-7 1 14 1-29 1 18 1 52 1-45 1-57 1 35 1-4 1-80 1 40 1 64 1-8 1 46 1-51 1-65 1 80 1-42 1-76 1 44 1 21 1 48 1 46 1-54 1-63 1 38 1 73 1-74 1-27 1 84 1-60 1-17 1 56 1-44 1 42 1 62 1-41 1-24 1 22 1 31 1-67 1-19 1 121 1-48 1-94 1 48 1-28 1-30 1 55 1 8 1-24 1-15 1 4 1 3 1-58 1 1 1 132 1-19 1-147 1 116 1 122 1-123 1-38 1-11 1-12 1 63 1-59 1 24 1 99 1-66 1-12 1-21 1-11 1 88 1-96 1-11 1 138 1-72 1 11 1 96 1-85 1-22 1 69 1 8 1-71 1-96 1 6 1 33 1-7 1 40 1 62 1 9 1-58 1 1 1 44 1-58 1-7 1 65 1-45 1-25 1-99 1 95 1 20 1 21 1-68 1-18 1 45 1 47 1 20 1-86 1-53 1 46 1-4 1 23 1 43 1 12 1 83 1-40 1-104 1 117 1 68 1-96 1-62 1-37 1 26 1 21 1-69 1 22 1 73 1-54 1-76 1 103 1 79 1-19 1 57 1-51 1-148 1 29 1 19 1-24 1 84 1 7 1-71 1-25 1 56 1 107 1-65 1-123 1 89 1 71 1-95 1-19 1 80 1 9 1 10 1 43 1-67 1-80 1 15 1 50 1 55 1-49 1-104 1 35 1 89 1-1 1-57 1-28 1 1 1-30 1 15 1 80 1 30 1-33 1-31 1 11 1 0 1-13 1 46 1-11 1-98 1 26 1 106 1-34 1-56 1 50 1-17 1-2 1 51 1-97 1-50 1 156 1-77 1 41 1 76 1-91 1 4 1-21 1 3 1 120 1-89 1-91 1 92 1 30 1-52 1-87 1-7 1 66 1 31 1 45 1-37 1-1 1 79 1-90 1-33 1 68 1-51 1 20 1 26 1-58 1 3 1-52 1-53 1 84 1 73 1 29 1 23 1-28 1-71 1-50 1 55 1 100 1-29 1-54 1 74 1 6 1-102 1-39 1-15 1 30 1 45 1 209 1-233 1 4 1-17 1 73 1 59 1-36 1-78 1 17 1 31 1-112 1 32 1 129 1-55 1-66 1-58 1 52 1 135 1-123 1 13 1 153 1-162 1-46 1 87 1-57 1 73 1 84 1-26 1-42 1-87 1 53 1 75 1-83 1-31 1-20 1-16 1 93 1-9 1-55 1 62 1-16 1-10 1 91 1-70 1-79 1 77 1-2 1-48 1-186 1 146 1 82 1 31 1-10 1-31 1-63 1 76 1 14 1-67 1 97 1 14 1-42 1 11 1-86 1 26 1 53 1-103 1 4 1 78 1 34 1 8 1-63 1-16 1 19 1-41 1 34 1 51 1-66 1 35 1 133 1-95 1-131 1 69 1 48 1 1 1-38 1 9 1 145 1-91 1-171 1 107 1 37 1-47 1 6 1-26 1 39 1 34 1-4 1-25 1-104 1-6 1 44 1-13 1 71 1 120 1 3 1-139 1-8 1 107 1-74 1-15 1 37 1-106 1 39 1 79 1-46 1-11 1 51 1-3 1-122 1 28 1 155 1-101 1 6 1 58 1-153 1 133 1 107 1-141 1 36 1-32 1 1 1 85 1-124 1 33 1 41 1-102 1 91 1-52 1-94 1 135 1-22 1-57 1 15 1-32 1 71 1 8 1-66 1 127 1 19 1-51 1-89 1-75 1 128 1 107 1-52 1-37 1-11 1-7 1-1 1 27 1 25 1-60 1 17 1 72 1-63 1-57 1-17 1 6 1 93 1-8 1-48 1 56 1-54 1-39 1 153 1 40 1-107 1-42 1-33 1-21 1 65 1 59 1-11 1-72 1-38 1 37 1 0 1 32 1 41 1-132 1-28 1 145 1-2 1-9 1 36 1-73 1 29 1 75 1-109 1-109 1 48 1 100 1 15 1-26 1 62 1-95 1-29 1-46 1 118 1-16 1 10 1 128 1-157 1-167 1 163 1 79 1-52 1 4 1 24 1 20 1-38 1 19 1 17 1-71 1 55 1-16 1-70 1 113 1-61 1-136 1 115 1 19 1 27 1 4 1 12 1 4 1-86 1 34 1 53 1-51 1-34 1 74 1 18 1-7 1-93 1-69 1 17 1 45 1 48 1-21 1 29 1 43 1-35 1-47 1 27 1 108 1-83 1-120 1 110 1 25 1-11 1-3 1-91 1 72 1 2 1-41 1 183 1-38 1-98 1 70 1-115 1-26 1 93 1-129 1-28 1 117 1-4 1 53 1 90 1-121 1-44 1 8 1-32 1 96 1 57 1-135 1-4 1 81 1 23 1-37 1-119 1 32 1 76 1-14 1 67 1-62 1-122 1 115 1 135 1-6 1-21 1 50 1-71 1-137 1 92 1 9 1-118 1 40 1-20 1 25 1 65 1-106 1-3 1 31 1-7 1 44 1-79 1 9 1 103 1-25 1-14 1-29 1 46 1 59 1-136 1 52 1 153 1-111 1-36 1 74 1-52 1-79 1-5 1 97 1 59 1-79 1-11 1 80 1-19 1-54 1-12 1-17 1 73 1 61 1-82 1-1 1 25 1-104 1-34 1 69 1 50 1-27 1-24 1 64 1-16 1-29 1 47 1-39 1-20 1 27 1 18 1 44 1-76 1-44 1 83 1-34 1-19 1 54 1-63 1-48 1 65 1 22 1-23 1 25 1-26 1-27 1 80 1-38 1-80 1 23 1-31 1 65 1 99 1-82 1-36 1 49 1 82 1-15 1-156 1 64 1 40 1-158 1 118 1 172 1-35 1-64 1-90 1 44 1 69 1-125 1-31 1 94 1 19 1-25 1 0 1 8 1-49 1-6 1 58 1-37 1-43 1 67 1 101 1-20 1-140 1-2 1 80 1-22 1 1 1 10 1-22 1 14 1-13 1-19 1-14 1-23 1 61 1 59 1-72 1-110 1 41 1 158 1-3 1-59 1 90 1-60 1-101 1-1 1-18 1 21 1 130 1-8 1-86 1 19 1 33 1-31 1-51 1-10 1-21 1-16 1 109 1 82 1-96 1-103 1 63 1 154 1-24 1-132 1 24 1 22 1-4 1 61 1-82 1-86 1 119 1 93 1-49 1-84 1 0 1 83 1 2 1-62 1-9 1 10 1 5 1 7 1 36 1 70 1-19 1-100 1 1 1 10 1-86 1 54 1 90 1-108 1-52 1 31 1-19 1 65 1 34 1-43 1 32 1 1 1 1 1 69 1-10 1-58 1-6 1-24 1-25 1 68 1 11 1-97 1 27 1 26 1-47 1 76 1-3 1-18 1 120 1-101 1-140 1 97 1 58 1 10 1 1 1-40 1-38 1-21 1 136 1 38 1-192 1 20 1 72 1-35 1 84 1-58 1-78 1 162 1-5 1-128 1 34 1 34 1-19 1 11 1 55 1-3 1-62 1 17 1-18 1-78 1 3 1 34 1 73 1 15 1-84 1 20 1 8 1-39 1 20 1-24 1 24 1 48 1 21 1 5 1-159 1 46 1 179 1-223 1-21 1 203 1-145 1 39 1 163 1-114 1-33 1 36 1 40 1-24 1-111 1 94 1-4 1-115 1 134 1 11 1-81 1 61 1 173 1-160 1-55 1-95 1 93 1 77 1-16 1-47 1-31 1 75 1-6 1-62 1 62 1 17 1-96 1-30 1 111 1 48 1-58 1 1 1-65 1-36 1 84 1-46 1-20 1 40 1-40 1 82 1 34 1-78 1 32 1-30 1-30 1 95 1-11 1-64 1 43 1 38 1-50 1-28 1 38 1-33 1-48 1 24 1 20 1 16 1 33 1 40 1-40 1-120 1 11 1 84 1 1 1-36 1-11 1 84 1 53 1-56 1-21 1-13 1 4 1 8 1-37 1 50 1 21 1-68 1-2 1-24 1-2 1 73 1 18 1-31 1-22 1 74 1 29 1-129 1 22 1 71 1-116 1-15 1 79 1-43 1-45 1 59 1 58 1-32 1-23 1 39 1-28 1 11 1 52 1-59 1-52 1 49 1-15 1-85 1 71 1 100 1-90 1-42 1 97 1 42 1-24 1-18 1 29 1-13 1-84 1 7 1 33 1-25 1 5 1 25 1 29 1 20 1-21 1-66 1-28 1 109 1 25 1-97 1 55 1 37 1-74 1-20 1-8 1 62 1 55 1-91 1-38 1 23 1-3 1 19 1 9 1 8 1-42 1-71 1 59 1 62 1-34 1-4 1 1 1-35 1-6 1 59 1 61 1-61 1-87 1 70 1 66 1-35 1 37 1-5 1-94 1 46 1 51 1-48 1 34 1 20 1-57 1-12 1 13 1 6 1 12 1 22 1-16 1-216 1 222 1 16 1-63 1-33 1 0 1 21 1 23 1 14 1-30 1-77 1 54 1 119 1 27 1-14 1-110 1-49 1 112 1 17 1-11 1 19 1-18 1 11 1-83 1-62 1 99 1-19 1-82 1 52 1 52 1-23 1-36 1-18 1 26 1 71 1-11 1-49 1 38 1-90 1-51 1 188 1 3 1-71 1 38 1-106 1 8 1 116 1-44 1-11 1 15 1 7 1 37 1-35 1-27 1 14 1 41 1 18 1-39 1 54 1 35 1-70 1-44 1-17 1 33 1-35 1-60 1 93 1-6 1-59 1 47 1-25 1 6 1 61 1 18 1-17 1-123 1-21 1 105 1 20 1 35 1-20 1-88 1 46 1 66 1-61 1-83 1 53 1 61 1-48 1 35 1 17 1-57 1 39 1-29 1-20 1 99 1-31 1-75 1 30 1 25 1-12 1 16 1 29 1-63 1 0 1 69 1-93 1 3 1 91 1-81 1 17 1 45 1-79 1 6 1 6 1 4 1 77 1 20 1-30 1-26 1 34 1 0 1-90 1 46 1 51 1-108 1-48 1 70 1 111 1 20 1-73 1-19 1-49 1 11 1 72 1-112 1-31 1 89 1-49 1 64 1 120 1-68 1-51 1-21 1-27 1 71 1 47 1-37 1-13 1-1 1-39 1 4 1 27 1-49 1-2 1 32 1-35 1 46 1 24 1-68 1 55 1 53 1-28 1-9 1-33 1 9 1-14 1-58 1 68 1 11 1-57 1 54 1-8 1-34 1 34 1-38 1-27 1 42 1 29 1 8 1-8 1 14 1 9 1-29 1-22 1-23 1 16 1 56 1-8 1-14 1 31 1-16 1-36 1 16 1-1 1-53 1-26 1 52 1 87 1 2 1-27 1 43 1-36 1-87 1 2 1 22 1 64 1-7 1-96 1 57 1 42 1-43 1-12 1-74 1 98 1 132 1-173 1-22 1 121 1-105 1-46 1 82 1 16 1-12 1 4 1-21 1-56 1 53 1 48 1-78 1 65 1 72 1-122 1-44 1 62 1 42 1 17 1-14 1-21 1-22 1 22 1-7 1-40 1 78 1 11 1-100 1 17 1 76 1 48 1-57 1-123 1 27 1 57 1-24 1-26 1-44 1 31 1 71 1-11 1-24 1-9 1 58 1 91 1-45 1-74 1 29 1 44 1 4 1-23 1-38 1-21 1 1 1 24 1 37 1-14 1-18 1 5 1-95 1-21 1 140 1-1 1-14 1 56 1-106 1-14 1 56 1-83 1 59 1 29 1-129 1 63 1 42 1-75 1 47 1-7 1-8 1 108 1-14 1-44 1 12 1-67 1-11 1 32 1-16 1 64 1-14 1-89 1 110 1 39 1-26 1-64 1 49 1-53 1 86 1 56 1-85 1-22 1-21 1-26 1 64 1-19 1-93 1 20 1 72 1 41 1-24 1-37 1 45 1 15 1-25 1-9 1-52 1 25 1 34 1-87 1 41 1 136 1-31 1-108 1 21 1 103 1-72 1-112 1 79 1-1 1-68 1 55 1 27 1 6 1 2 1-34 1-22 1-34 1 82 1 103 1-64 1-31 1-28 1-62 1 71 1 36 1-51 1-18 1-89 1 85 1 52 1 12 1-38 1-13 1 109 1 30 1-146 1-33 1 81 1-14 1-17 1 49 1 3 1-8 1 21 1-11 1-5 1-30 1-37 1 89 1 2 1-124 1 40 1 68 1-23 1 3 1-37 1-20 1 36 1-26 1 6 1 67 1-23 1-47 1 34 1 7 1-24 1 17 1-9 1-15 1-8 1 34 1 118 1-72 1-162 1 82 1 22 1-26 1 113 1-77 1-92 1 117 1 29 1-72 1-43 1 49 1 55 1-68 1-6 1 20 1-47 1 34 1 10 1-16 1 17 1-23 1 51 1 35 1-56 1 25 1 18 1-40 1-22 1 0 1-7 1-41 1 42 1 61 1-32 1 35 1 14 1-39 1 48 1-25 1-45 1 49 1-9 1-19 1 4 1-53 1-26 1 51 1-8 1-62 1 59 1 0 1-65 1 136 1 13 1-102 1 84 1-46 1-58 1 89 1-38 1-2 1 23 1 19 1 76 1-151 1-62 1 178 1-59 1-68 1 109 1 6 1-75 1-26 1 51 1 16 1-25 1 1 1-59 1 10 1 55 1-54 1 35 1 72 1-28 1 11 1 11 1-58 1-18 1 31 1-62 1-8 1 139 1-50 1-60 1 101 1-102 1-75 1 104 1 53 1 28 1-99 1-70 1 58 1-9 1 74 1 27 1-69 1 41 1-53 1-27 1 195 1-111 1-12 1-66 1 25 1 51 1-116 1 69 1 63 1-84 1 73 1 8 1-33 1-40 1-100 1 112 1 9 1-63 1 122 1-11 1 0 1-143 1 114 1 44 1-63 1-62 1 105 1-65 1-52 1 149 1 61 1-99 1-37 1 60 1-41 1-34 1-6 1-56 1 82 1 39 1-1 1 66 1-149 1-45 1 146 1-40 1-80 1-89 1 34 1 153 1-79 1 16 1 133 1-64 1-52 1-26 1 28 1 30 1-109 1 55 1 125 1-60 1-48 1 29 1 1 1-28 1 69 1 1 1-122 1 112 1 52 1-136 1 108 1 36 1-129 1 17 1-19 1-23 1 47 1-21 1 35 1 51 1-45 1-100 1 17 1 76 1-55 1-1 1 55 1-34 1 5 1 36 1 42 1-30 1-85 1 69 1 20 1-67 1 70 1 14 1-38 1 45 1-2 1-54 1-44 1 5 1 36 1-16 1-20 1 28 1 12 1-34 1 49 1 82 1-59 1-35 1 12 1-37 1 62 1 21 1-111 1-18 1 27 1-12 1 31 1 65 1-10 1-43 1 1 1-75 1-12 1 116 1-17 1 7 1 45 1-70 1-9 1-42 1-8 1 97 1-47 1 71 1 128 1-158 1-45 1 76 1-86 1-1 1 76 1-22 1-9 1 23 1-13 1-21 1-43 1 9 1 108 1-36 1-102 1 38 1 36 1 62 1-44 1-112 1 212 1-58 1-131 1 131 1-89 1-88 1 206 1-27 1-123 1-25 1-14 1 74 1 44 1 37 1-4 1-66 1 31 1 27 1-9 1-85 1-51 1 98 1-71 1 27 1 140 1-167 1 56 1 152 1-164 1 11 1 45 1-74 1-20 1-44 1 96 1 49 1-153 1 215 1-132 1-79 1 159 1 2 1-29 1 7 1-28 1 11 1 28 1 19 1-89 1 1 1 96 1-151 1 8 1 47 1-60 1 81 1 63 1-21 1-31 1-103 1 65 1 139 1 29 1-52 1-140 1 67 1 100 1-151 1-1 1 117 1-15 1-70 1-50 1 78 1 10 1-99 1 62 1 47 1-69 1-17 1 11 1 15 1 40 1 38 1-52 1-45 1 99 1 33 1-96 1-97 1 5 1 168 1 18 1-167 1 27 1 90 1-61 1-56 1 65 1 87 1-39 1-71 1-23 1-7 1 40 1 14 1 24 1 38 1-44 1 53 1 138 1-133 1-90 1 32 1-13 1-65 1 44 1 49 1-79 1 49 1 117 1-60 1-32 1 4 1-42 1 20 1-3 1 18 1 30 1-49 1 45 1 56 1-68 1-17 1 13 1-57 1-21 1 90 1 46 1-60 1-12 1-27 1-66 1 31 1 11 1-31 1-5 1-1 1 65 1 33 1-46 1 30 1 26 1-73 1-29 1 92 1 53 1-48 1 4 1 1 1-4 1 72 1-47 1-92 1 51 1 64 1 10 1-88 1-82 1 82 1 50 1-29 1 2 1-222 1 231 1-106 1-49 1 143 1 41 1-65 1-12 1-13 1 40 1 28 1-43 1 17 1-8 1-56 1 71 1 64 1-88 1 6 1 98 1-54 1-39 1 60 1-23 1-49 1-28 1-9 1 34 1-5 1-13 1 0 1 1 1 46 1 11 1-10 1-27 1-53 1 54 1 52 1-22 1-14 1 5 1-15 1 27 1 0 1 39 1-37 1-10 1-2 1-53 1 104 1-25 1-128 1 119 1 13 1-70 1 18 1-41 1 56 1 12 1-50 1 50 1-54 1 13 1 40 1-96 1 69 1 30 1-80 1-3 1-33 1 94 1 66 1-51 1 57 1-81 1-4 1 147 1-101 1 0 1 96 1-77 1-14 1-7 1-12 1-48 1-110 1 113 1 90 1-81 1 35 1 33 1-55 1-27 1 27 1 0 1-14 1 83 1-42 1-92 1 93 1-6 1-9 1 56 1-95 1-14 1-12 1-70 1 123 1 73 1-179 1 140 1 13 1-23 1-50 1 26 1 22 1-28 1 84 1-14 1-128 1 4 1 35 1 9 1-26 1 12 1 76 1-65 1-29 1 84 1-14 1 8 1-4 1-51 1 43 1 11 1-29 1 23 1 15 1-17 1-18 1 31 1 19 1 1 1 5 1-76 1-38 1 65 1 55 1 17 1-50 1-22 1 9 1-43 1 31 1-5 1-64 1 77 1 32 1-61 1 67 1 53 1-162 1-135 1 138 1 128 1-58 1-35 1-23 1 1 1 69 1-14 1-29 1 16 1-21 1-9 1 13 1 15 1 3 1-5 1 65 1 40 1-95 1-58 1 69 1 12 1-39 1 51 1 10 1-50 1 4 1-30 1-33 1 61 1 66 1-6 1-53 1 20 1 18 1-75 1 12 1 35 1-53 1 24 1 67 1-10 1-37 1-14 1 2 1-22 1 0 1 32 1-3 1-4 1 54 1 22 1-120 1-46 1 134 1-6 1-120 1-9 1 50 1 36 1-18 1 27 1 70 1-49 1-53 1 5 1 52 1 53 1-72 1-35 1-10 1 6 1 115 1-99 1-83 1 191 1-48 1-131 1 103 1 53 1-40 1-27 1 29 1 3 1-51 1 11 1-30 1-3 1 44 1-45 1 51 1 46 1-61 1-6 1-55 1-18 1 92 1 48 1-15 1-43 1 79 1 19 1-146 1 56 1 47 1-85 1 22 1-49 1-1 1 64 1-33 1 27 1 10 1-4 1 36 1-83 1 0 1 70 1-25 1 17 1-40 1-43 1 71 1-22 1-39 1 42 1-6 1 31 1 32 1-98 1 6 1 120 1-60 1-72 1 66 1 24 1 0 1-23 1-27 1 64 1 29 1-43 1-29 1 43 1 15 1-77 1 70 1 6 1-166 1 91 1 74 1-65 1 65 1-70 1-51 1 65 1-35 1 13 1-83 1-20 1 214 1-39 1-100 1 41 1-36 1 62 1 11 1-84 1 48 1-4 1-64 1-13 1 46 1 93 1-53 1-64 1 75 1 9 1-4 1 57 1-48 1-83 1 71 1 84 1-31 1-9 1-2 1-62 1-33 1 56 1 69 1-108 1-79 1 134 1-19 1-59 1 100 1-22 1-41 1-3 1-33 1 60 1 1 1-29 1 41 1-18 1 1 1-34 1-67 1 72 1 46 1-20 1-5 1-68 1 13 1 106 1-25 1-57 1 64 1 23 1-49 1 16 1-11 1-59 1-32 1-31 1 56 1 61 1-27 1 40 1 14 1-36 1 74 1 0 1-114 1 13 1 58 1-45 1-15 1 17 1-36 1 61 1 43 1-134 1-7 1 110 1 28 1 28 1-46 1-48 1 37 1-45 1 4 1 103 1-26 1-97 1-21 1 19 1 34 1 60 1-64 1-101 1 142 1 52 1-165 1 41 1 102 1 5 1 9 1-109 1-42 1 96 1 8 1-23 1-23 1 11 1 28 1-60 1 44 1 59 1-98 1 6 1 14 1-91 1 53 1 51 1-35 1 83 1 12 1-127 1-10 1 30 1 12 1 91 1-24 1-127 1 70 1 107 1-30 1 10 1-15 1-72 1 8 1-3 1 15 1 78 1-8 1-41 1-48 1-13 1 70 1-104 1-80 1 210 1 46 1-138 1 29 1 73 1 19 1-54 1-77 1 36 1 55 1 16 1-13 1-68 1-85 1-23 1 106 1 40 1-67 1 68 1 8 1-86 1 38 1-17 1-20 1 82 1-38 1-51 1 82 1 9 1-80 1 46 1 68 1-67 1-27 1-19 1-25 1 120 1 6 1-89 1 67 1 40 1-15 1-17 1-24 1 10 1-19 1 64 1 23 1-164 1-8 1 75 1-45 1-11 1 27 1 54 1-5 1-6 1 99 1-43 1-74 1 14 1-37 1 34 1-11 1-19 1 109 1-70 1-107 1 38 1 10 1 55 1-10 1-78 1 48 1 3 1-37 1 63 1 62 1 7 1-7 1 19 1 15 1-17 1-76 1-76 1 73 1 21 1-62 1 73 1-8 1-43 1 23 1-80 1 55 1 69 1-98 1 100 1 27 1-186 1 24 1 54 1-5 1 78 1-15 1-20 1 49 1-31 1-46 1 2 1 19 1 13 1 3 1 19 1-10 1-14 1 13 1-15 1 11 1 25 1-29 1-29 1-16 1 39 1 71 1-37 1-34 1 19 1-67 1-33 1 54 1 4 1-8 1 42 1-2 1-67 1 39 1 98 1-49 1-26 1 3 1-104 1 41 1 79 1-68 1 34 1 9 1-57 1 94 1-2 1-93 1 58 1 40 1-53 1-26 1 47 1 32 1-50 1 62 1 65 1-147 1-31 1 83 1-104 1-40 1 109 1 13 1-51 1-27 1 29 1 64 1 13 1-1 1 10 1 10 1-9 1-69 1-141 1 227 1 3 1-22 1-16 1-42 1 9 1 6 1 0 1 67 1-9 1-98 1 31 1 75 1-76 1-46 1 46 1-25 1 45 1 108 1-51 1-55 1-11 1-77 1-11 1 64 1 20 1-39 1 3 1 75 1-63 1-71 1 120 1 20 1-84 1-7 1-1 1 67 1 69 1-28 1-20 1-38 1-18 1 3 1-50 1 71 1 86 1-121 1-42 1 90 1-37 1-7 1 102 1-17 1-38 1 38 1-40 1-33 1 25 1-34 1-19 1 13 1 27 1 65 1-23 1-42 1 66 1 35 1-26 1-79 1-61 1 110 1 61 1-131 1-68 1 45 1 46 1 7 1-7 1 28 1-55 1-49 1 94 1-21 1-42 1 82 1-79 1-46 1 134 1-33 1-64 1 93 1 63 1-47 1-113 1 3 1 108 1-11 1-42 1 19 1 2 1-23 1-48 1-8 1 31 1 2 1-1 1-18 1 131 1-60 1 15 1-16 1-2 1 2 1 11 1-6 1-17 1-2 1-22 1-42 1 60 1 78 1-89 1-31 1 59 1-38 1 65 1 37 1-133 1 37 1 74 1-14 1 57 1-34 1-85 1-26 1 8 1 74 1-27 1-77 1 2 1-28 1 38 1 46 1-39 1 12 1 8 1 20 1 12 1-51 1 65 1 18 1-91 1 56 1 18 1-54 1 65 1 7 1-94 1-3 1 88 1-2 1-81 1 2 1-4 1 12 1 70 1-58 1-8 1 76 1-72 1 9 1 61 1-73 1 14 1 48 1-9 1 16 1-14 1 38 1 9 1-88 1 68 1 74 1-121 1-58 1 88 1 35 1-63 1-14 1 20 1-42 1-3 1 1 1-17 1 76 1 29 1-29 1-2 1-34 1 0 1-6 1-25 1 51 1-10 1-39 1 12 1-23 1 30 1 34 1-32 1 1 1-26 1 2 1 89 1-18 1-86 1 23 1 39 1-25 1 43 1 59 1-68 1-48 1 43 1 18 1-7 1-37 1-36 1 38 1 41 1-33 1-30 1 75 1 31 1-82 1-11 1 21 1 50 1 84 1-76 1-80 1 19 1-9 1 30 1-8 1-36 1 45 1-21 1-30 1 17 1-28 1-19 1-3 1 43 1 53 1-18 1-13 1 134 1-92 1 18 1-73 1-4 1 39 1 48 1 39 1-120 1-54 1 48 1-44 1 62 1 59 1-101 1 39 1 92 1-114 1-69 1 139 1 14 1-126 1 66 1 78 1-58 1-7 1-29 1-20 1 46 1-31 1-31 1 27 1 29 1 4 1-46 1 21 1 64 1-46 1-55 1 64 1 87 1-51 1-91 1 52 1 50 1-53 1-32 1 25 1 24 1-8 1-14 1 1 1 8 1-8 1 13 1 69 1-25 1-99 1 46 1 48 1-92 1-80 1 21 1 85 1 40 1-2 1-34 1-52 1 94 1 71 1-83 1-13 1 42 1-67 1 19 1 26 1 3 1 9 1-48 1 7 1-32 1-28 1 38 1 60 1 41 1-79 1-59 1 55 1 6 1 44 1 52 1-79 1-23 1 14 1-54 1 35 1 41 1-79 1-5 1 77 1 5 1 5 1-1 1-34 1-17 1-76 1 6 1 110 1-28 1 8 1 17 1-93 1 84 1 73 1-56 1 52 1-64 1-99 1 103 1 43 1-65 1 41 1-62 1 106 1-40 1-59 1 11 1-35 1 81 1 107 1-124 1-127 1 74 1 92 1-2 1-46 1-81 1 36 1 133 1-68 1-105 1 39 1 35 1 101 1-24 1-181 1 95 1 120 1-120 1-81 1-8 1 75 1 61 1-89 1-10 1 67 1 24 1-17 1-49 1 99 1 42 1-173 1 23 1 104 1-71 1-32 1 0 1 50 1 52 1-79 1 46 1 55 1-16 1-95 1 67 1-15 1 20 1-38 1-19 1 48 1-34 1-21 1 16 1-63 1 93 1-44 1-42 1 38 1 40 1-6 1-58 1-18 1 46 1 0 1 1 1 62 1 42 1-50 1-47 1 68 1 13 1-57 1 24 1-45 1-60 1 70 1 12 1-22 1 5 1-24 1 68 1 41 1-73 1-39 1-53 1 42 1 145 1-82 1-105 1 98 1 28 1-34 1 10 1 3 1 62 1 7 1-149 1-66 1 75 1 13 1-25 1 78 1 59 1-59 1-27 1 34 1 3 1-17 1-5 1 22 1 11 1-28 1-17 1-3 1-13 1-21 1 3 1-16 1-12 1 99 1 4 1-82 1 89 1-48 1-82 1 172 1-42 1-79 1 125 1-71 1-27 1 38 1-59 1 119 1-27 1-160 1 61 1 44 1 66 1-19 1-112 1 127 1-30 1-103 1 121 1-62 1-89 1 183 1-130 1 51 1 64 1-110 1 58 1 32 1-73 1-40 1 13 1 107 1-43 1-87 1 102 1 16 1-68 1-21 1-25 1 41 1 46 1 13 1 47 1-17 1-107 1-11 1 80 1-32 1 9 1 85 1-134 1-30 1 160 1-100 1-90 1 53 1-31 1 76 1 72 1-60 1-35 1-16 1 115 1 70 1-168 1-36 1 74 1-20 1 36 1 25 1-33 1 23 1-8 1-60 1 27 1 79 1-40 1-43 1 77 1-15 1-74 1 26 1-11 1-18 1 28 1-2 1 67 1 14 1-154 1 50 1 18 1-86 1 43 1 54 1-57 1 89 1 16 1-50 1 29 1-113 1 37 1 116 1-181 1-14 1 112 1-34 1 90 1-3 1-43 1 232 1-185 1-102 1 23 1-28 1 79 1 75 1-40 1-69 1-105 1-50 1 196 1-43 1 24 1-21 1 17 1-29 1-27 1-11 1 25 1 47 1 43 1-22 1-35 1-11 1-6 1 12 1 9 1 18 1 29 1 4 1-18 1-48 1-37 1 59 1 77 1 74 1-135 1 1 1-34 1 35 1 86 1-13 1-64 1-79 1-46 1 42 1 51 1 46 1-38 1-130 1-18 1 114 1 86 1-47 1-58 1 99 1-55 1-72 1 117 1-34 1-63 1 74 1-49 1-20 1 83 1-54 1-74 1 64 1 46 1-29 1 31 1 22 1-34 1 16 1 16 1 29 1 8 1-68 1 2 1-24 1-22 1 79 1-59 1-12 1 105 1-61 1-28 1 26 1 42 1-54 1-130 1 28 1 62 1-107 1 18 1 76 1 44 1 92 1-14 1-44 1-21 1-22 1 38 1-34 1-5 1 74 1-44 1 12 1 65 1-92 1-30 1 98 1-8 1-47 1 39 1-24 1-90 1-30 1 10 1 130 1 135 1-107 1-97 1 45 1-47 1-65 1 96 1-15 1-47 1 33 1 21 1 17 1 44 1-70 1-91 1 59 1 38 1-34 1 25 1-11 1-81 1 41 1 102 1-36 1-21 1 27 1-61 1 46 1 89 1-66 1-55 1-14 1 62 1 110 1-70 1-115 1-15 1 86 1 118 1-71 1-82 1 42 1-35 1-47 1 47 1 109 1 13 1-52 1 57 1-87 1-92 1 113 1-55 1-31 1 93 1-31 1 42 1-33 1-72 1 93 1-26 1-23 1-29 1-77 1 153 1 17 1-104 1 58 1-53 1-24 1 31 1-12 1 100 1-30 1-64 1 36 1-58 1 67 1 55 1-118 1 7 1 26 1-8 1 39 1 0 1 24 1-8 1 7 1 46 1-105 1-80 1 51 1 29 1 45 1 38 1-54 1-99 1 36 1 162 1-36 1-85 1 100 1-20 1-91 1 76 1 5 1-126 1 33 1 118 1-82 1-50 1 147 1-7 1-85 1 33 1-13 1-44 1 24 1 56 1 26 1-95 1-10 1 59 1-76 1 33 1 59 1-66 1 49 1-37 1-117 1 119 1 22 1-157 1 40 1 121 1-14 1-31 1 36 1 12 1-22 1 10 1-3 1-42 1-34 1 64 1 89 1-114 1-131 1 136 1 143 1-36 1-48 1-21 1-44 1 28 1 76 1-71 1-80 1 68 1 24 1-20 1-6 1-30 1 60 1 34 1-79 1-11 1 56 1 32 1-24 1-37 1-18 1-23 1 67 1 59 1-76 1-46 1 9 1 36 1 33 1-13 1 35 1-49 1-91 1 81 1 32 1-3 1 28 1-96 1 25 1 69 1-132 1 39 1 157 1-81 1-89 1 36 1 21 1 2 1-32 1 0 1 71 1-53 1-32 1 101 1-70 1-49 1 106 1-68 1-34 1 69 1-38 1 1 1-22 1-2 1 102 1-6 1-1 1-31 1-75 1 99 1 0 1-114 1 78 1-47 1 3 1 131 1-32 1-127 1 89 1 70 1-58 1-58 1 51 1-8 1-17 1 40 1-73 1 15 1 128 1-53 1-87 1 14 1 31 1 20 1-53 1-53 1 26 1-18 1-21 1 107 1 62 1-90 1-17 1 80 1-27 1-57 1 37 1-10 1-94 1 3 1 79 1 3 1-41 1-19 1 51 1 72 1-10 1 2 1-6 1-58 1 10 1 14 1 30 1 94 1-145 1 32 1 47 1-105 1 5 1 24 1 3 1 52 1-61 1 13 1 26 1-96 1 92 1 50 1-93 1 2 1 38 1-5 1 27 1-71 1-25 1 47 1-9 1 13 1 37 1 0 1-14 1-17 1-29 1 18 1 33 1-67 1 24 1 117 1-96 1-104 1 89 1 48 1-25 1-15 1-6 1-6 1 9 1 58 1-29 1-43 1 62 1-39 1-39 1 54 1-28 1 39 1 69 1-58 1-35 1-10 1 16 1 30 1-45 1 8 1 12 1-26 1 47 1-3 1-10 1 12 1-106 1-50 1 56 1 58 1 69 1-26 1-43 1 39 1-89 1 52 1 93 1-85 1-81 1 58 1 41 1-32 1-5 1 10 1-10 1 17 1 3 1-1 1 1 1-38 1 66 1 63 1-63 1 18 1-9 1-34 1 72 1-47 1-61 1 53 1-63 1 56 1 28 1-82 1 28 1 20 1-5 1 10 1-52 1 28 1 31 1-65 1 14 1 45 1-25 1-3 1 73 1-9 1-96 1 55 1 30 1-107 1 32 1 40 1-38 1 42 1-3 1-40 1 10 1 16 1 39 1 20 1 11 1-10 1-92 1 1 1 87 1-43 1-73 1 58 1 74 1-28 1-53 1-15 1 8 1 19 1-8 1-4 1 25 1-4 1-15 1 29 1 49 1-32 1-60 1 47 1 17 1-12 1 3 1-35 1 47 1 32 1-135 1 31 1 50 1-55 1 96 1-40 1-89 1 97 1-48 1-49 1 65 1-8 1 10 1-27 1 0 1 31 1-81 1 59 1 73 1-79 1 1 1-22 1 36 1 105 1-98 1-24 1 97 1-47 1-80 1-14 1 106 1 51 1-99 1 8 1 25 1 30 1 55 1-113 1 17 1 103 1-95 1-2 1-6 1-82 1 75 1 3 1-58 1 18 1-11 1 53 1 17 1-40 1 66 1-6 1-34 1 29 1-61 1 13 1 99 1-84 1-107 1 49 1 29 1-13 1-96 1 143 1-33 1 51 1 19 1-37 1-5 1-61 1-40 1 85 1 9 1-82 1 25 1 68 1 6 1 2 1-5 1 12 1 14 1-76 1 10 1 125 1-40 1-60 1 94 1-72 1 1 1 56 1-63 1-51 1 23 1 72 1-36 1-12 1 21 1 26 1-65 1 24 1 49 1-131 1-23 1 129 1-39 1-59 1 51 1 7 1 16 1 26 1-58 1-23 1 69 1 9 1-52 1 135 1-104 1-67 1 58 1 3 1-104 1 5 1 11 1 40 1 80 1-22 1 46 1 11 1-94 1 33 1-33 1-46 1 88 1-26 1 6 1 52 1-65 1 20 1 13 1-41 1 39 1-27 1-18 1 9 1-69 1 38 1 81 1-45 1-34 1 53 1 24 1-54 1-24 1 40 1 42 1 24 1 13 1-26 1 24 1-102 1 60 1 61 1-56 1-65 1-41 1 22 1 35 1-79 1 50 1 130 1-29 1-112 1-57 1 44 1-5 1-53 1 81 1 78 1-2 1 5 1 4 1 25 1-22 1-108 1-42 1 88 1 107 1-8 1-55 1-7 1-9 1-19 1-37 1-7 1 45 1-23 1 10 1 77 1-46 1-42 1 112 1 15 1-156 1 10 1 133 1-57 1-66 1 28 1-42 1 4 1 39 1 1 1 44 1 19 1-40 1-89 1-37 1 70 1 21 1 56 1 48 1-86 1 29 1 46 1-36 1 30 1-74 1-66 1 70 1 8 1-15 1-27 1-12 1-110 1 126 1 28 1 72 1-51 1-103 1 31 1 117 1-24 1-22 1 107 1-55 1-125 1-27 1 56 1 112 1-102 1-32 1 179 1-132 1-107 1 113 1-2 1 83 1-29 1-144 1 96 1-17 1-109 1 120 1-21 1 43 1 80 1-28 1-37 1-122 1-12 1 103 1-54 1 4 1 80 1 9 1 22 1-94 1-79 1 129 1 6 1-94 1 62 1 30 1-25 1-3 1-69 1 24 1 112 1-61 1-80 1 67 1 72 1 31 1-32 1-58 1 58 1 30 1-112 1-6 1 62 1-72 1-2 1 65 1-42 1 8 1 31 1 0 1 44 1-27 1-59 1-77 1-44 1 164 1 44 1-134 1 40 1 46 1-44 1-32 1-2 1 89 1 25 1-34 1-13 1-42 1 39 1-19 1-50 1 106 1-19 1-61 1 75 1 18 1-7 1-59 1-22 1 95 1-56 1-41 1 82 1-43 1-67 1 4 1 52 1 27 1-75 1-5 1 49 1-15 1-3 1 44 1 29 1-69 1-61 1 33 1 65 1 93 1-33 1-85 1 53 1-52 1-59 1 105 1 46 1 23 1-41 1-138 1 4 1 54 1-20 1-33 1 5 1 114 1 58 1-88 1 3 1 60 1-106 1-68 1 139 1 13 1-71 1 89 1-44 1-97 1 62 1-35 1-32 1 27 1-76 1 56 1 75 1-26 1 49 1-6 1-19 1 68 1-51 1-95 1 13 1 25 1 28 1 38 1-7 1-17 1-21 1-35 1 48 1 57 1-69 1-23 1 40 1-51 1-18 1 26 1 0 1 62 1 4 1-73 1 60 1 51 1-79 1-24 1 8 1-26 1 46 1 47 1-37 1-11 1 1 1-56 1 27 1 105 1-32 1-38 1 50 1-70 1-32 1 96 1-9 1-21 1 2 1-16 1 43 1-43 1-8 1 54 1-80 1 9 1 125 1-55 1-23 1-46 1-13 1 79 1-101 1-13 1 97 1-65 1 20 1 11 1-69 1 48 1-12 1-13 1 13 1-45 1 76 1 15 1-38 1 93 1-56 1-25 1 132 1-108 1-94 1 106 1 2 1-18 1-63 1-75 1 181 1 70 1-186 1 41 1 139 1-43 1-40 1-25 1-47 1 25 1 47 1 20 1 5 1-48 1-66 1 37 1 78 1-18 1-5 1 40 1-55 1-21 1 103 1-11 1-110 1 7 1 9 1-27 1 61 1-29 1-64 1 71 1-47 1-61 1 100 1-17 1-50 1 57 1 34 1 12 1-124 1 58 1 18 1 16 1 35 1-49 1-27 1 108 1-18 1-69 1 32 1 18 1-21 1-47 1 29 1 0 1-89 1 82 1 53 1-22 1 118 1-72 1-126 1 86 1-37 1-57 1 20 1-23 1 87 1 23 1-100 1 42 1 70 1 30 1 15 1-91 1-36 1 50 1-38 1-8 1 88 1 23 1-43 1-52 1-56 1 37 1 127 1 25 1-93 1-33 1 12 1-55 1 36 1 69 1 15 1-33 1-95 1-18 1 61 1 8 1 20 1-47 1-83 1 73 1 77 1 35 1 6 1-74 1 7 1 45 1-6 1-34 1-53 1 70 1-2 1-143 1 52 1 79 1-21 1 13 1-34 1-5 1 26 1-5 1 17 1-26 1-2 1 31 1-1 1 20 1-53" fill="none" stroke="#3182bd" stroke-width="0.5" stroke-linejoin="round" vector-effect="non-scaling-stroke"/>
<path transform="translate(42.30 147.47) scale(0.11537 0.07312)" d="M0-76l1-45 1-52 1-27 1 16 1 19 1-19 1-28 1 22 1 72 1 63 1 21 1 13 1 46 1 72 1 59 1 26 1 2 1-8 1-14 1-16 1-19 1-30 1-46 1-52 1-36 1-14 1-6 1-21 1-41 1-48 1-29 1 12 1 50 1 55 1 23 1-10 1-6 1 27 1 49 1 40 1 14 1 3 1 13 1 32 1 45 1 41 1 20 1-9 1-32 1-33 1-16 1 1 1 1 1 40 1 27 1 27 1-73 1-77 1-87 1-36 1-22 1-15 1-39 1-71 1-59 1 4 1 57 1 43 1-19 1-52 1-24 1 17 1 24 1 8 1 6 1 27 1 44 1 49 1 51 1 56 1 48 1 28 1 13 1 16 1 27 1 37 1 44 1 38 1 2 1-46 1-110 1-63 1-18 1 63 1-17 1-53 1-62 1 2 1 0 1-50 1-67 1-28 1 17 1 7 1-32 1-45 1-4 1 51 1 75 1 52 1 16 1 7 1 33 1 59 1 43 1-7 1-41 1-23 1 29 1 69 1 62 1 12 1-51 1-84 1-65 1-15 1 1 1-34 1-71 1-47 1 10 1 17 1-41 1-74 1-15 1 79 1 100 1 38 1-12 1 6 1 44 1 40 1 13 1 12 1 40 1 45 1 19 1-3 1 8 1 18 1 1 1-29 1-40 1-39 1-42 1-54 1-54 1-31 1-6 1-1 1-17 1-38 1-39 1-9 1 27 1 36 1 21 1 15 1 44 1 77 1 69 1 29 1 12 1 31 1 39 1-1 1-52 1-51 1-6 1 15 1-24 1-81 1-95 1-55 1 0 1 33 1 30 1 1 1-22 1-3 1 53 1 92 1 117 1 42 1-3 1-76 1-12 1 12 1 18 1-51 1-85 1-62 1-22 1-9 1-33 1-51 1-20 1 44 1 83 1 73 1 42 1 35 1 48 1 46 1 28 1 21 1 25 1 8 1-35 1-71 1-71 1-56 1-58 1-64 1-46 1-11 1-7 1-44 1-65 1-21 1 60 1 106 1 80 1 20 1-15 1 4 1 48 1 69 1 44 1 4 1-1 1 32 1 54 1 29 1-16 1-34 1-26 1-28 1-43 1-38 1-7 1 2 1-32 1-62 1-39 1 7 1 17 1-12 1-24 1-2 1 13 1-2 1-9 1 13 1 25 1-1 1-23 1 12 1 70 1 71 1 10 1-23 1 12 1-12 1 16 1-24 1 107 1 47 1 37 1-70 1-30 1 15 1 25 1-50 1-125 1-98 1-1 1 41 1-12 1-73 1-59 1 3 1 31 1 15 1-2 1 6 1 25 1 39 1 55 1 70 1 62 1 32 1 11 1 13 1 23 1 21 1 12 1 7 1-5 1-31 1-52 1-48 1-32 1-32 1-44 1-38 1-12 1 4 1-5 1-18 1-7 1 5 1-10 1-35 1-28 1 9 1 25 1 6 1-7 1 15 1 43 1 28 1-14 1-23 1 11 1 35 1 21 1 5 1 30 1 62 1 49 1 2 1-11 1 26 1 53 1 20 1-32 1-38 1-3 1 6 1-32 1-62 1-29 1 30 1 42 1-14 1-76 1-89 1-48 1-4 1 67 1 42 1 13 1-106 1-75 1-40 1 24 1 4 1-2 1 22 1 48 1 42 1 18 1 16 1 44 1 68 1 58 1 29 1 13 1 12 1 12 1 1 1-8 1-7 1-7 1-15 1-28 1-35 1-27 1-12 1-1 1-7 1-23 1-20 1-26 1-15 1-57 1-44 1-44 1 35 1 65 1 45 1-20 1-35 1 17 1 52 1 22 1-19 1-12 1 18 1 8 1-24 1-11 1 45 1 65 1 13 1-35 1-14 1 39 1 43 1-3 1-25 1 5 1 35 1 29 1 5 1-7 1-27 1-63 1-78 1-41 1 11 1 16 1-19 1-33 1-8 1 6 1-21 1-41 1-9 1 102 1 127 1 112 1-15 1-30 1-54 1-21 1 3 1 56 1 69 1 10 1-54 1-59 1-26 1-27 1-64 1-68 1-15 1 38 1 28 1-23 1-46 1-14 1 29 1 42 1 23 1 2 1-39 1-8 1 16 1 88 1 39 1 14 1 2 1 49 1 43 1-10 1-38 1-14 1 3 1-35 1-85 1-68 1 2 1 36 1 9 1-22 1-4 1 15 1-18 1-72 1-70 1-3 1 55 1 56 1 28 1 9 1 9 1 17 1 37 1 61 1 57 1 64 1 27 1 47 1-5 1 13 1-26 1-17 1-20 1-1 1-5 1-32 1-41 1-14 1 24 1 28 1-18 1-86 1-118 1-78 1 2 1 39 1-3 1-69 1-74 1-23 1-17 1-15 1-12 1 91 1 106 1 83 1 27 1 52 1 79 1 43 1-30 1-48 1 4 1 45 1 17 1-29 1-30 1-11 1-32 1-73 1-66 1-13 1 13 1-13 1-28 1 4 1 41 1 30 1 62 1 72 1 99 1-26 1-53 1-45 1 45 1 37 1-9 1-23 1 18 1 40 1-12 1-67 1-47 1 10 1 1 1-69 1-95 1-33 1 26 1 10 1-34 1-24 1 19 1 25 1-8 1-16 1 18 1 40 1 26 1 22 1 53 1 70 1 38 1-5 1 2 1 37 1 35 1-4 1-20 1 12 1 47 1 32 1-17 1-63 1-84 1-83 1-62 1-30 1-12 1-18 1-27 1-63 1-116 1-58 1-11 1 44 1 107 1 42 1-48 1-6 1 87 1 120 1 58 1-8 1 13 1 78 1 85 1 24 1-17 1 6 1 35 1 13 1-32 1-44 1-24 1-16 1-28 1-38 1-100 1-103 1-106 1 36 1 63 1 69 1-20 1-40 1-20 1 19 1 32 1 8 1-22 1-23 1 8 1 46 1 53 1 21 1-12 1-1 1 44 1 64 1 37 1 6 1 17 1 34 1 4 1 6 1 79 1 112 1 40 1-32 1-117 1-150 1-44 1-9 1-18 1-25 1-11 1-11 1-39 1-91 1-48 1-13 1 57 1 6 1 5 1-10 1-4 1-37 1-43 1-44 1-9 1-32 1 28 1 39 1 74 1 28 1-6 1-16 1 13 1 31 1 13 1-10 1 4 1 42 1 67 1 65 1 47 1 13 1-18 1-15 1 23 1 43 1 6 1-49 1-50 1 1 1 28 1 2 1-26 1-11 1 9 1-12 1-93 1-75 1-22 1 80 1 19 1-28 1-45 1 21 1 38 1 5 1-16 1 5 1 25 1 12 1-9 1-6 1 18 1 39 1 47 1 48 1 35 1 2 1-30 1-31 1-9 1 0 1-25 1-54 1-54 1-31 1-15 1-22 1-36 1-39 1-17 1 18 1 46 1 36 1-5 1-27 1 14 1 89 1 121 1 73 1 5 1 3 1 58 1 87 1 35 1-27 1-57 1-39 1-31 1-49 1-53 1-33 1-26 1-64 1-103 1-92 1-40 1-3 1-2 1 0 1 25 1 45 1 36 1 17 1 65 1 88 1 98 1 18 1 34 1 42 1 50 1-8 1-26 1 7 1 31 1-1 1-47 1-50 1-22 1-20 1-48 1-58 1-41 1-36 1-57 1-55 1-3 1 43 1 23 1-29 1-39 1 4 1 34 1 19 1 6 1 29 1 58 1 52 1 29 1 26 1 39 1 39 1-26 1-40 1-46 1 42 1 41 1 57 1 15 1-15 1-55 1-44 1 7 1 14 1-47 1-94 1-55 1 14 1 17 1-33 1-46 1-53 1-49 1-92 1-36 1-7 1 27 1 92 1 61 1 48 1 41 1 55 1 2 1-25 1 25 1 26 1-1 1-63 1 40 1 88 1 85 1-22 1-38 1 22 1 65 1 21 1-45 1-34 1 25 1 28 1-34 1-63 1-11 1 100 1 87 1 26 1-100 1-81 1-71 1-32 1-26 1 9 1 59 1 23 1-21 1-86 1-36 1-7 1 16 1-7 1-1 1 26 1 40 1 30 1 14 1 14 1 31 1 58 1 72 1 52 1 3 1-41 1-51 1-37 1-31 1-43 1-50 1-35 1-21 1-36 1-63 1-54 1-4 1 43 1 43 1 21 1 24 1 52 1 70 1 71 1 76 1 77 1 36 1-40 1-74 1-64 1 0 1-37 1-70 1-124 1-44 1 31 1 46 1-28 1-70 1-22 1 44 1 54 1 38 1 54 1 91 1 81 1 25 1-15 1 0 1 33 1 34 1-3 1-41 1-58 1-50 1-25 1-4 1-5 1-24 1-31 1-17 1-10 1-28 1-43 1-23 1 8 1 11 1-11 1-11 1 22 1 38 1 10 1-18 1 4 1-1 1 14 1-17 1 65 1 64 1 77 1 18 1 11 1 7 1 0 1-4 1 9 1 39 1 43 1 6 1-36 1-34 1-12 1-25 1-6 1-18 1 31 1-48 1-54 1-90 1-34 1-12 1-8 1-25 1-21 1 75 1 97 1 80 1-63 1-39 1-2 1 57 1 15 1-74 1-49 1-11 1 119 1 86 1 42 1-46 1-50 1-40 1-33 1-39 1-49 1-36 1-4 1 8 1-20 1-48 1-17 1-3 1 29 1-1 1 73 1 83 1 110 1 43 1 0 1-10 1 20 1 24 1-27 1-71 1-52 1-5 1-14 1-73 1-88 1-23 1 45 1 32 1-27 1-35 1 26 1 76 1 61 1 19 1 8 1 29 1 32 1-38 1-54 1-50 1 51 1 50 1 60 1 30 1 24 1-12 1-39 1-32 1-12 1-17 1-33 1-25 1-2 1-4 1-30 1-32 1 3 1 27 1 3 1-28 1-12 1 20 1 6 1-41 1-48 1 8 1 47 1 18 1-19 1 14 1 35 1 34 1-55 1-21 1 20 1 105 1 76 1 20 1-17 1 13 1 58 1 49 1-5 1-45 1-46 1-28 1-20 1-22 1-28 1-39 1-54 1-65 1-60 1-41 1-14 1 8 1 24 1 29 1 28 1 35 1 54 1 71 1 67 1 39 1 12 1 10 1 25 1 25 1-5 1-42 1-58 1-46 1-31 1-26 1-27 1-28 1-29 1-26 1-5 1 32 1 50 1 22 1-23 1-28 1 13 1 40 1 21 1-3 1 15 1 53 1 48 1-8 1-49 1-36 1-6 1-2 1-9 1 8 1 29 1 10 1-32 1-43 1-15 1 1 1-25 1-45 1-14 1 40 1 56 1 27 1-4 1-11 1-2 1 8 1 24 1 34 1 19 1-10 1-9 1 28 1 52 1 24 1-19 1-20 1 18 1 33 1-5 1-58 1-73 1-46 1-14 1-13 1-35 1-54 1-43 1-8 1 19 1 10 1-14 1-5 1 43 1 77 1 63 1 33 1 31 1 50 1 50 1 29 1 20 1 23 1 5 1-35 1-52 1-31 1-19 1-52 1-84 1-111 1-73 1-71 1-3 1 20 1 78 1 52 1 4 1-25 1 22 1 86 1 75 1 12 1-8 1 36 1 64 1 30 1-11 1-2 1 26 1 16 1-22 1-36 1-29 1-38 1-60 1-51 1-13 1 1 1-21 1-39 1-26 1-8 1-16 1-20 1 11 1 41 1 25 1-12 1-6 1 52 1 88 1 63 1 23 1 23 1 49 1 42 1 3 1-22 1-4 1 17 1 10 1-18 1-26 1-10 1 0 1-19 1-58 1-75 1-52 1-20 1-24 1-61 1-73 1-29 1 26 1 22 1-31 1-54 1-9 1 48 1 61 1 43 1 44 1 52 1 26 1-10 1 8 1 75 1 104 1 49 1-17 1-11 1 44 1 50 1-7 1-54 1-37 1 7 1 19 1-3 1 20 1 8 1-9 1-107 1-85 1-51 1 1 1-30 1-54 1-41 1-13 1-5 1-19 1-24 1 1 1 40 1 58 1 40 1 10 1 0 1 20 1 41 1 35 1 7 1-6 1 6 1 21 1 16 1 10 1 18 1 22 1 1 1-29 1-31 1-1 1 21 1 8 1-19 1-34 1-37 1-32 1-18 1-2 1-8 1-32 1-33 1 1 1 24 1-7 1-55 1-42 1 31 1 79 1 62 1 38 1 64 1 96 1 62 1-11 1-31 1 17 1 53 1 10 1-61 1-91 1-74 1-54 1-53 1-51 1-49 1-54 1-50 1-11 1 38 1 49 1 18 1 41 1 66 1 102 1 23 1 6 1-1 1 49 1 46 1 35 1 28 1 22 1-3 1-33 1-36 1 43 1 52 1 35 1-91 1-76 1-56 1-8 1-23 1-18 1-4 1-14 1-44 1-51 1-21 1 14 1 23 1 8 1-10 1-22 1-26 1-12 1 9 1 12 1-8 1-20 1-7 1 9 1 5 1-3 1 12 1 23 1-4 1-45 1-44 1 4 1 38 1 20 1-1 1 21 1 52 1 35 1-9 1-17 1 15 1 32 1 15 1 11 1 39 1 16 1-16 1-54 1 29 1 64 1 61 1-10 1-32 1-30 1-38 1-57 1-36 1 17 1 32 1-29 1-82 1-47 1 33 1 52 1 5 1-16 1 31 1 74 1 48 1 43 1 34 1 53 1-51 1-76 1-66 1 25 1 34 1-17 1-61 1-51 1-15 1-46 1-50 1-36 1 62 1 38 1-6 1-44 1 17 1 74 1 74 1 40 1 19 1 13 1 4 1 5 1 28 1 46 1 19 1-23 1-22 1 25 1 45 1 3 1-41 1-23 1 23 1 16 1-40 1-62 1-14 1 32 1 13 1-43 1-59 1-33 1-22 1-39 1 22 1 62 1 91 1-64 1-122 1-135 1-25 1 26 1 38 1 21 1 41 1 28 1 24 1-41 1-20 1-18 1-4 1-12 1 25 1 73 1 63 1 6 1-16 1 36 1 103 1 100 1 32 1-17 1-3 1 25 1 7 1-49 1-122 1-109 1-76 1 12 1-8 1-38 1-92 1-79 1-37 1 24 1 80 1 100 1 83 1 61 1 61 1 74 1 59 1 4 1-43 1-36 1 0 1-1 1-59 1-100 1-61 1 5 1 1 1-69 1-88 1-3 1 92 1 80 1 1 1-14 1 57 1 98 1 36 1-41 1-21 1 62 1 77 1 0 1-61 1-32 1 19 1 3 1-54 1-113 1-22 1 2 1 66 1-52 1-19 1-17 1 27 1-26 1-60 1-37 1 6 1 22 1 10 1 5 1 25 1 52 1 52 1 28 1 2 1 2 1 19 1 27 1 20 1 16 1 25 1 35 1 25 1 12 1 12 1 17 1 1 1-24 1-28 1-16 1-32 1-82 1-110 1-66 1 7 1 25 1-17 1-50 1-31 1 4 1 10 1 6 1 27 1 56 1 51 1 28 1 35 1 68 1 67 1 14 1-37 1-30 1 8 1 14 1-24 1-57 1-55 1-35 1-16 1-5 1-4 1-15 1-26 1-7 1 29 1 45 1 22 1-6 1 1 1 33 1 50 1 41 1 28 1 19 1 3 1-22 1-34 1-26 1-22 1-33 1-45 1-36 1-21 1-20 1-30 1-24 1 2 1 18 1 11 1-1 1 5 1 25 1 36 1 31 1 19 1 20 1 37 1 58 1 57 1 33 1 4 1 1 1 10 1 5 1-22 1 19 1 30 1 43 1-84 1-106 1-104 1-27 1-31 1-60 1-67 1-36 1-1 1 6 1 14 1 50 1 77 1 51 1 8 1 24 1 94 1 115 1 34 1-57 1-55 1 15 1 39 1-17 1-74 1-64 1-29 1-29 1-47 1-26 1 25 1 40 1 2 1-35 1-18 1 29 1 52 1 41 1 20 1 4 1 44 1 53 1 79 1-1 1-24 1-66 1-33 1-8 1 13 1-11 1-51 1-59 1-23 1 47 1 45 1 26 1-51 1-36 1-39 1-27 1-51 1-46 1-12 1 24 1 46 1 44 1 28 1 7 1 3 1 20 1-9 1-10 1-32 1 58 1 68 1 79 1 14 1-6 1 1 1 33 1 46 1 11 1-34 1-44 1-28 1-35 1-69 1-80 1-37 1 19 1 31 1-3 1-36 1-45 1-40 1-28 1-2 1 35 1 47 1 23 1-4 1 1 1 22 1 17 1-8 1-4 1 44 1 90 1 79 1 23 1-23 1-22 1 8 1 31 1 20 1-17 1-53 1-63 1-47 1-36 1-49 1-65 1-51 1-8 1 19 1 1 1-32 1-36 1 4 1 60 1 99 1 106 1 86 1 50 1 19 1 16 1 28 1 31 1 13 1-15 1-36 1-50 1-60 1-61 1-46 1-37 1-42 1-56 1-49 1-21 1 3 1 10 1 7 1 8 1 14 1 22 1 35 1 56 1 68 1 60 1 46 1 37 1 25 1 3 1-9 1 13 1 103 1 67 1 9 1-117 1-81 1-24 1 55 1-103 1-131 1-98 1 24 1 38 1-7 1-54 1-54 1-18 1 10 1 15 1 15 1 32 1 51 1 49 1 20 1-9 1-4 1 33 1 62 1 47 1 5 1-21 1-7 1 21 1 23 1 2 1-12 1-5 1-3 1-24 1-50 1-50 1-18 1 10 1 8 1-21 1-42 1-32 1-1 1 20 1 16 1 0 1-6 1 0 1-6 1-35 1-56 1-37 1 16 1 52 1 38 1 3 1-8 1 16 1 37 1 27 1 1 1-17 1-13 1 8 1 37 1 60 1 56 1 22 1-18 1-22 1 6 1 28 1 15 1-8 1-7 1 16 1 23 1 2 1-20 1-13 1 7 1 10 1-6 1-11 1 7 1 22 1 7 1-27 1-42 1-21 1 10 1 18 1 1 1-19 1-23 1-12 1 2 1 6 1-1 1-21 1-37 1-34 1-16 1 3 1 4 1-7 1-15 1-18 1-21 1-20 1-9 1 3 1 0 1-15 1-20 1-4 1 11 1 10 1 10 1 35 1 63 1 52 1 18 1 11 1 43 1 57 1 8 1-42 1-15 1 64 1 78 1-11 1-95 1-69 1 20 1 44 1-28 1-94 1-76 1-23 1-15 1-49 1-53 1-10 1 28 1 29 1-17 1-62 1 17 1 98 1 207 1 77 1 10 1-74 1-4 1 46 1 68 1 11 1-75 1-93 1-37 1 15 1 7 1-20 1 19 1 21 1 0 1-97 1-67 1-17 1 31 1 6 1 6 1 42 1 50 1 8 1-18 1 12 1 44 1 20 1-21 1 4 1 71 1 81 1 16 1-36 1-18 1 6 1-25 1-64 1-40 1 10 1-8 1-82 1-102 1-28 1 50 1 43 1-8 1-21 1-2 1-9 1-39 1-34 1 19 1 54 1 31 1-4 1-7 1 8 1 11 1 11 1 33 1 52 1 29 1-9 1-6 1 41 1 70 1 41 1-6 1-19 1-2 1 8 1-3 1-25 1-43 1-47 1-26 1 7 1 18 1-14 1-104 1-116 1-98 1 14 1 31 1 64 1 49 1 36 1-17 1-38 1 10 1 66 1 63 1 18 1 8 1 42 1 55 1 19 1-20 1-7 1 31 1 34 1-2 1-38 1-52 1-52 1-47 1-35 1-26 1-29 1-36 1-17 1 15 1 23 1 2 1-7 1 21 1 44 1 27 1 2 1 23 1 70 1 78 1 31 1-10 1-3 1 19 1 1 1-74 1-85 1-62 1 10 1-19 1-39 1-40 1 14 1 30 1-4 1-33 1-16 1 16 1 9 1-37 1-60 1-20 1 46 1 70 1 49 1 38 1 58 1 63 1 15 1-37 1-19 1 46 1 63 1-5 1-63 1-27 1 62 1 86 1 21 1-46 1-44 1-8 1 2 1-19 1-32 1-33 1-38 1-39 1-21 1-1 1-8 1-29 1-26 1-1 1 5 1-20 1-37 1-24 1 0 1 20 1 51 1 89 1 82 1 11 1-46 1-10 1 76 1 89 1 9 1-57 1-40 1 5 1 2 1-23 1-9 1 16 1-12 1-73 1-84 1-32 1-1 1-20 1-27 1 19 1 57 1 28 1-13 1 13 1 72 1 70 1 9 1-9 1 41 1 71 1 23 1-39 1-36 1-7 1-33 1-89 1-83 1-13 1 21 1-26 1-77 1-11 1 51 1 84 1-16 1-28 1-26 1 27 1 43 1 77 1 92 1 55 1 1 1-12 1 15 1 20 1-9 1-24 1-6 1-11 1-63 1-102 1-70 1-12 1-10 1-49 1-44 1 9 1 27 1-14 1-31 1 29 1 88 1 61 1-9 1-5 1 73 1 115 1 62 1-9 1-21" fill="none" stroke="#e6550d" stroke-width="0.85" stroke-linejoin="round" vector-effect="non-scaling-stroke"/>
<path transform="translate(42.30 240.54) scale(0.11537 0.07312)" d="M0-71l1-21 1 4 1-5 1-36 1-49 1-25 1 13 1 28 1 6 1-20 1-17 1 21 1 57 1 57 1 30 1 8 1 15 1 38 1 48 1 32 1 9 1 1 1 12 1 23 1 20 1 11 1 6 1 9 1 2 1-23 1-54 1-71 1-64 1-45 1-35 1-35 1-34 1-20 1 2 1 15 1 12 1 1 1-3 1 8 1 23 1 33 1 34 1 34 1 37 1 39 1 35 1 26 1 16 1 10 1 4 1-6 1-24 1-42 1-47 1-34 1-16 1-6 1-14 1-33 1-42 1-28 1 5 1 36 1 45 1 34 1 15 1 6 1 9 1 19 1 26 1 33 1 35 1 28 1 6 1-27 1-54 1-56 1-40 1-29 1-36 1-54 1-52 1-14 1 40 1 71 1 60 1 24 1 4 1 19 1 53 1 68 1 50 1 14 1-16 1-26 1-30 1-38 1-49 1-49 1-31 1-9 1 0 1-13 1-32 1-40 1-25 1 0 1 16 1 14 1 1 1-6 1 9 1 38 1 64 1 70 1 51 1 26 1 9 1 6 1 9 1 5 1-1 1 1 1 12 1 19 1 5 1-29 1-59 1-60 1-33 1 0 1 5 1-18 1-45 1-50 1-30 1-7 1-3 1-16 1-28 1-23 1-7 1 8 1 17 1 24 1 34 1 91 1 87 1 69 1-46 1-46 1-32 1 33 1 38 1 30 1 25 1 30 1 37 1 34 1 16 1-9 1-25 1-30 1-31 1-32 1-32 1-23 1-9 1-2 1-15 1-42 1-59 1-50 1-17 1 13 1 14 1-10 1-36 1-39 1-10 1 27 1 45 1 34 1 11 1 3 1 22 1 51 1 66 1 51 1 21 1 2 1 9 1 28 1 35 1 12 1-21 1-40 1-31 1-7 1 54 1 39 1 12 1-111 1-107 1-94 1-31 1-24 1-11 1 9 1 20 1 13 1-6 1-16 1 0 1 29 1 45 1 37 1 20 1 17 1 32 1 44 1 39 1 20 1 9 1 13 1 19 1 8 1-19 1-37 1-27 1 0 1 11 1-8 1-44 1-61 1-45 1-14 1 0 1-11 1-30 1-37 1-25 1-6 1 6 1 10 1 10 1 15 1 25 1 39 1 51 1 54 1 64 1 31 1 4 1-49 1-19 1 13 1 42 1 9 1-27 1-35 1-16 1 4 1-1 1-25 1-41 1-32 1-11 1 1 1-8 1-23 1-26 1-12 1 4 1 10 1 2 1-6 1-4 1 11 1 34 1 55 1 61 1 46 1 21 1-3 1-8 1-1 1 2 1-4 1-14 1-11 1 3 1 6 1-13 1-41 1-46 1-17 1 20 1 22 1-22 1-70 1-74 1-28 1 27 1 41 1 12 1-18 1-13 1 17 1 38 1 24 1-7 1-21 1-4 1 26 1 43 1 41 1 31 1 25 1 21 1 12 1 4 1 0 1 8 1 14 1 12 1 5 1 0 1-1 1-11 1-30 1-48 1-45 1-21 1 5 1 12 1-4 1-29 1-41 1-40 1-33 1-21 1-5 1 13 1 19 1 5 1-18 1-29 1-12 1 15 1 28 1 15 1-2 1-3 1 17 1 32 1 29 1 11 1 7 1 24 1 49 1 55 1 37 1 9 1-7 1-7 1 3 1 11 1 17 1 18 1 11 1-6 1-25 1-29 1-44 1-25 1-22 1 20 1 34 1 25 1 3 1-62 1-65 1-74 1-45 1-43 1-37 1-30 1-16 1 6 1 28 1 34 1 20 1 3 1 3 1 22 1 48 1 60 1 57 1 51 1 45 1 32 1 9 1-15 1-19 1-1 1 22 1 24 1 1 1-22 1-27 1-15 1-52 1-70 1-101 1-32 1-24 1 4 1-17 1-9 1-11 1-8 1 7 1 28 1 49 1 60 1 57 1 49 1 39 1 35 1 37 1 31 1 14 1-15 1-41 1-52 1-54 1-57 1-62 1-58 1-38 1-10 1 11 1 15 1 14 1 28 1 55 1 75 1 66 1 37 1 11 1 5 1 11 1 10 1-4 1-21 1-26 1-27 1-38 1-58 1-68 1-48 1-9 1 23 1 21 1 0 1-9 1 10 1 42 1 55 1 38 1 9 1-2 1 13 1 38 1 46 1 30 1-1 1-26 1-33 1-26 1-21 1 5 1-17 1-31 1-33 1 3 1 32 1-42 1-78 1-104 1-33 1 28 1 76 1 70 1 20 1-19 1-6 1 40 1 67 1 49 1 14 1 6 1 34 1 54 1 32 1-18 1-49 1-30 1 14 1 31 1 1 1-50 1-79 1-75 1-58 1-46 1-36 1-18 1 0 1 1 1-21 1-39 1-25 1 16 1 46 1 41 1 14 1 0 1 21 1 52 1 66 1 54 1 40 1 38 1 43 1 33 1 12 1 1 1 10 1 23 1 14 1-18 1-42 1-35 1-9 1 0 1-28 1-62 1-66 1-33 1 3 1 4 1-25 1-48 1-42 1-19 1-6 1-7 1-6 1 7 1 20 1 9 1-17 1-26 1-1 1 39 1 51 1 25 1-8 1-7 1 26 1 54 1 43 1 9 1-8 1 6 1 28 1 23 1-6 1-21 1 2 1 37 1 44 1 12 1-25 1-26 1 6 1 26 1 1 1-49 1-77 1-54 1-3 1 30 1 18 1-22 1-53 1-58 1-41 1-18 1 1 1 13 1 17 1 17 1 19 1 29 1 42 1 45 1 34 1 19 1 20 1 35 1 46 1 33 1 2 1-20 1-15 1 3 1 5 1-51 1-82 1-91 1-17 1-1 1 0 1-40 1-34 1-9 1 21 1 33 1 26 1 22 1 26 1 32 1 20 1 1 1-4 1 15 1 38 1 37 1 11 1-13 1-8 1 12 1 15 1-17 1-54 1-53 1-10 1 34 1 30 1-20 1-67 1-65 1-17 1 33 1 42 1 14 1-21 1-32 1 24 1 52 1 77 1 5 1-2 1-28 1-20 1-31 1-12 1 26 1 49 1 39 1 12 1-7 1-6 1 1 1-6 1-18 1-16 1 7 1 29 1 21 1-19 1-28 1-30 1 0 1-34 1-35 1-59 1-43 1-34 1-9 1 4 1 6 1 7 1 23 1 44 1 50 1 38 1 24 1 26 1 39 1 44 1 31 1 10 1-3 1-5 1-13 1-37 1-59 1-56 1-25 1 9 1 14 1-15 1-45 1-49 1-25 1 3 1 12 1 7 1 9 1 27 1 46 1 45 1 22 1-2 1-1 1 23 1 47 1 47 1 18 1-19 1-42 1-42 1-25 1-7 1-1 1-7 1-21 1-35 1-41 1-38 1-34 1-30 1-30 1-26 1-11 1 11 1 32 1 41 1 43 1 42 1 45 1 47 1 43 1 36 1 33 1 37 1 42 1 37 1 21 1 5 1 0 1 7 1 8 1-4 1-25 1-37 1-36 1-31 1-43 1-70 1-91 1-79 1-42 1-8 1-4 1-26 1-92 1-51 1-15 1 40 1 81 1 60 1 6 1 33 1 71 1 86 1 69 1 41 1 26 1 32 1 39 1 29 1 5 1-14 1-20 1-21 1-31 1-51 1-67 1-61 1-38 1-14 1-6 1-18 1-37 1-45 1-36 1-15 1 8 1 31 1 51 1 67 1 36 1 29 1 6 1 57 1 37 1 40 1 23 1 45 1 36 1-7 1-60 1-91 1-83 1-48 1-21 1-19 1-32 1-44 1-35 1-18 1-2 1 5 1 11 1 23 1 39 1 45 1 38 1 23 1 19 1 28 1 39 1 38 1 22 1 7 1 3 1 12 1 16 1 2 1-20 1-31 1-17 1 8 1 15 1-9 1-50 1-69 1-46 1-2 1 23 1 9 1-26 1-41 1-21 1 15 1 27 1 9 1-9 1-6 1 20 1 31 1-30 1-53 1-47 1 82 1 107 1 91 1-1 1-25 1-2 1 43 1 56 1 16 1-34 1-40 1 44 1 84 1 67 1-80 1-128 1-120 1-32 1-5 1-21 1-51 1-49 1-11 1 20 1 9 1-26 1-36 1-1 1 44 1 55 1 26 1 1 1 12 1 49 1 57 1 20 1-28 1-31 1 23 1 80 1 84 1 26 1-39 1-51 1-10 1 34 1 1 1-40 1-80 1-16 1 14 1 40 1 5 1-16 1-30 1-23 1-9 1-7 1-24 1-40 1-35 1-7 1 24 1 28 1 5 1-23 1-29 1-7 1 23 1 40 1 33 1 23 1 26 1 44 1 52 1 38 1 7 1-14 1-12 1 4 1 9 1-6 1-29 1-35 1-23 1-12 1-21 1-54 1-80 1-72 1-33 1 9 1 24 1 9 1-11 1-4 1 28 1 65 1 77 1 61 1 38 1 30 1 37 1 39 1 20 1-15 1-42 1-46 1-33 1-26 1-38 1-51 1-46 1-19 1 8 1 10 1-13 1-31 1-25 1 7 1 39 1 49 1 40 1 29 1 27 1 31 1 31 1 25 1 15 1 6 1-7 1-19 1-21 1-3 1 19 1 22 1-4 1-42 1-52 1-24 1 16 1 27 1-4 1-44 1-55 1-30 1-1 1 4 1-13 1-28 1-21 1-5 1 1 1-4 1-3 1 13 1 33 1 37 1 26 1 24 1 44 1 70 1 67 1 25 1-22 1-36 1-2 1 38 1 47 1 15 1-22 1-32 1-16 1 4 1 0 1-24 1-52 1-67 1-67 1-57 1-37 1-13 1 5 1 5 1-4 1-11 1 1 1 20 1 33 1 31 1 27 1 31 1 40 1 41 1 25 1 6 1 4 1 17 1 26 1 15 1-13 1-30 1-26 1-11 1-11 1-28 1-44 1-39 1-17 1 0 1-4 1-16 1-17 1 1 1 19 1 22 1 7 1-5 1-4 1 9 1 24 1 31 1 33 1 33 1 27 1 11 1-2 1 3 1 20 1 32 1 16 1-21 1-44 1-65 1-31 1-17 1 23 1-26 1-52 1-66 1-21 1 10 1 4 1-17 1-26 1-11 1 11 1 21 1 22 1 25 1 32 1 36 1 26 1 10 1 7 1 24 1 43 1 45 1 25 1 5 1 1 1 9 1 11 1-6 1-26 1-39 1-38 1-37 1-45 1-45 1-25 1 12 1 35 1 21 1-22 1-50 1-33 1 14 1 51 1 45 1 11 1-14 1-5 1 21 1 38 1 32 1 21 1 22 1-14 1-23 1-56 1-2 1-9 1 18 1 8 1 13 1-10 1-38 1-41 1-21 1-4 1-9 1-29 1-38 1-20 1 12 1 32 1 27 1 9 1-3 1 5 1 28 1 44 1 43 1 32 1 22 1 25 1 36 1 42 1 28 1 1 1-21 1-23 1-6 1 11 1 5 1-19 1-40 1-40 1-22 1-11 1-21 1-43 1-54 1-45 1-28 1-18 1-21 1-16 1 6 1 32 1 36 1 14 1-10 1-6 1 30 1 67 1 72 1 43 1 10 1 1 1 17 1 33 1 27 1 6 1-13 1-18 1-16 1-17 1-20 1-19 1-13 1-10 1-21 1-38 1-46 1-38 1-21 1-12 1-13 1-17 1-15 1-11 1-7 1 1 1 25 1 63 1 90 1 82 1 35 1-14 1-25 1 7 1 51 1 60 1 28 1 28 1 5 1 6 1-74 1-83 1-93 1-42 1-16 1 6 1-4 1-35 1-58 1-47 1-10 1 23 1 34 1 29 1 28 1 35 1 39 1 30 1 16 1 18 1 39 1 62 1 58 1 22 1-21 1-42 1-34 1-18 1-20 1-43 1-65 1-67 1-3 1 22 1 35 1-52 1-47 1-33 1 32 1 46 1 45 1 33 1 21 1 19 1 29 1 42 1 45 1 35 1 9 1-19 1-40 1-46 1-37 1-24 1-19 1-29 1-46 1-60 1-55 1-31 1 2 1 24 1 32 1 32 1 39 1 58 1 70 1 61 1 34 1 8 1 6 1 22 1 26 1-1 1-51 1-55 1-48 1-9 1-36 1-39 1-67 1-57 1-44 1-14 1 8 1 7 1 3 1 14 1 45 1 74 1 78 1 61 1 36 1 20 1 13 1 8 1 2 1 3 1 13 1 20 1 15 1-5 1-28 1-40 1-43 1-45 1-50 1-53 1-47 1-30 1-17 1-16 1-24 1-26 1-8 1 25 1 53 1 65 1 53 1 33 1 19 1 20 1 31 1 43 1 43 1 28 1 9 1 48 1 44 1 46 1-64 1-82 1-105 1-68 1-64 1-42 1-19 1-7 1-11 1-21 1-21 1-5 1 23 1 46 1 50 1 36 1 21 1 17 1 27 1 38 1 38 1 23 1 6 1-2 1-8 1-19 1-36 1-50 1-47 1-30 1-17 1-19 1-29 1-28 1-8 1 17 1 27 1 22 1 17 1 25 1 43 1 46 1 28 1 4 1 3 1 24 1 40 1 28 1-12 1-45 1-44 1-21 1-3 1-15 1-43 1-62 1-56 1-36 1-19 1-8 1 6 1 23 1 32 1 23 1 2 1-11 1-2 1 19 1 29 1 22 1 10 1 17 1 40 1 57 1 47 1 19 1-6 1-5 1 12 1 22 1 13 1-8 1-24 1-24 1-12 1-2 1 0 1-4 1-12 1-26 1-39 1-44 1-34 1-17 1-6 1-10 1-26 1-35 1-28 1-10 1 6 1 13 1 20 1 30 1 34 1 25 1-1 1-21 1-17 1 11 1 39 1 42 1 21 1 2 1 7 1 28 1 42 1 67 1 46 1 36 1-22 1-16 1-23 1-9 1-14 1-3 1 9 1 0 1-36 1-70 1-74 1-51 1-32 1-39 1-57 1-57 1-23 1 25 1 49 1 37 1 11 1 1 1 14 1 33 1 37 1 28 1-30 1-23 1-16 1 86 1 67 1 52 1-3 1 3 1 1 1-13 1-26 1-26 1-14 1-2 1 1 1-4 1-11 1-22 1-34 1-42 1-34 1-8 1 18 1 26 1 8 1-12 1-15 1 9 1 35 1 44 1 28 1 9 1 3 1 14 1 32 1 38 1 31 1 11 1-12 1-26 1-26 1-13 1-1 1 2 1-11 1-24 1-30 1-22 1-14 1-14 1-18 1-15 1-4 1 1 1-10 1-28 1-30 1-7 1 30 1 51 1 45 1 24 1 9 1 9 1 15 1 17 1 15 1 22 1 31 1 34 1 18 1-7 1-21 1-20 1-12 1-16 1-30 1-44 1-40 1-24 1-9 1-5 1-11 1-16 1-17 1-15 1-10 1-2 1 5 1 2 1-8 1-12 1 3 1 33 1 53 1 47 1 21 1 2 1 10 1 32 1 43 1 33 1 22 1 25 1 34 1 20 1-22 1-64 1-67 1-25 1 20 1 27 1-7 1-49 1-57 1-35 1-11 1-6 1-14 1-17 1-10 1-7 1-9 1-10 1 1 1 13 1 9 1-8 1-16 1 8 1 88 1 110 1 88 1-32 1-56 1-42 1 21 1 21 1-2 1-13 1 8 1 43 1 49 1 11 1-42 1-64 1-45 1-14 1-3 1-63 1-72 1-66 1 40 1 34 1 17 1-41 1-26 1 1 1 16 1 9 1 1 1 6 1 28 1 43 1 43 1 30 1 22 1-6 1 1 1 5 1 68 1 65 1 56 1 6 1-15 1-26 1-19 1-9 1-16 1-42 1-66 1-63 1-33 1-7 1-10 1-42 1-65 1-54 1-11 1 30 1 42 1 24 1 2 1-1 1 17 1 42 1 59 1 64 1 61 1 54 1 45 1 34 1 19 1 3 1-14 1-26 1-31 1-28 1-26 1-28 1-33 1-36 1-33 1-29 1-31 1-42 1-52 1-47 1-18 1 20 1 44 1 39 1 13 1-7 1 0 1 35 1 73 1 84 1 60 1 20 1-7 1-5 1 16 1 27 1 19 1 0 1-12 1-12 1-13 1-25 1-43 1-50 1-38 1-21 1-16 1-28 1-40 1-31 1-7 1 13 1 15 1 1 1-11 1-6 1 5 1 10 1 9 1 14 1 29 1 44 1 41 1 22 1 0 1-2 1 13 1 28 1 22 1 1 1-17 1-17 1 1 1 24 1 37 1 33 1 15 1-17 1-47 1-57 1-37 1 3 1 36 1 39 1 9 1-22 1-35 1-25 1-16 1-24 1-46 1-57 1-44 1-17 1-4 1-17 1-40 1-46 1-23 1 15 1 36 1 28 1 7 1 0 1 19 1 45 1 57 1 43 1 23 1 17 1 35 1 60 1 68 1 55 1 29 1 9 1-4 1-11 1-19 1-26 1-27 1-26 1-29 1-41 1-56 1-59 1-52 1-37 1-24 1-16 1-4 1 9 1 18 1 16 1 8 1 6 1 19 1 41 1 58 1 58 1 40 1 15 1-3 1-8 1 0 1 15 1 25 1 19 1-3 1-24 1-33 1-28 1-20 1-23 1-34 1-41 1-33 1-19 1-14 1-17 1-17 1 1 1 28 1 41 1 31 1 12 1 12 1 33 1 53 1 49 1 23 1 2 1 6 1 27 1 37 1 20 1-9 1-28 1-32 1-32 1-37 1-40 1-30 1-13 1-5 1-16 1-34 1-37 1-16 1 6 1 6 1-17 1-38 1-31 1 0 1 35 1 55 1 55 1 44 1 27 1 9 1-2 1 4 1 24 1 39 1 29 1-3 1-28 1-18 1 18 1 42 1 25 1-21 1-53 1-47 1-16 1-1 1-21 1-57 1-32 1-5 1 35 1-22 1-42 1-71 1-34 1-1 1 38 1 49 1 23 1-9 1-13 1 17 1 57 1 71 1 52 1 19 1 2 1 7 1 21 1 22 1 59 1 49 1 51 1-40 1-46 1-67 1-38 1-37 1-16 1 2 1-1 1-19 1-29 1-22 1-6 1 3 1-6 1-20 1-30 1-30 1-23 1-9 1 12 1 34 1 43 1 28 1 0 1-13 1-3 1 22 1 32 1 22 1 8 1 10 1 69 1 73 1 59 1-52 1-53 1-36 1 17 1-4 1-40 1-57 1-41 1-14 1-13 1-39 1-60 1-44 1 0 1 31 1 25 1 0 1-7 1 18 1 52 1 65 1 54 1 37 1 28 1 20 1 4 1-12 1-12 1 3 1 9 1-21 1-72 1-99 1-77 1-21 1 19 1 19 1-4 1-10 1 19 1 57 1 72 1 59 1 39 1 25 1 14 1-12 1-48 1-65 1-45 1-4 1 22 1 9 1-33 1-64 1-61 1-25 1 13 1 31 1 24 1 8 1 2 1 14 1 38 1 51 1 46 1 24 1 7 1 12 1 30 1 36 1 18 1-15 1 8 1 20 1-5 1-87 1-114 1-57 1-27 1-3 1-18 1-8 1-26 1-46 1-41 1-8 1 31 1 46 1 34 1 7 1-13 1-10 1 10 1 36 1 51 1 49 1 37 1 29 1 30 1 38 1 40 1 28 1 12 1 1 1-1 1-2 1-10 1-20 1-20 1-11 1-6 1-19 1-47 1-70 1-68 1-47 1-31 1-30 1-37 1-31 1-4 1 27 1 41 1 33 1 14 1 6 1 13 1 27 1 41 1 51 1 55 1 50 1 34 1 14 1 2 1 4 1 12 1 13 1-2 1-23 1-39 1-43 1-43 1-42 1-40 1-66 1-53 1-44 1 23 1 18 1 15 1-11 1 4 1 16 1 19 1 15 1 14 1 25 1 47 1 68 1 69 1 42 1 0 1-28 1-22 1 10 1 37 1 24 1-18 1-56 1-55 1-21 1 9 1 1 1-35 1-59 1-47 1-10 1 11 1-2 1-29 1-33 1-2 1 35 1 47 1 28 1 4 1-2 1 8 1 15 1 8 1 6 1 26 1 57 1 66 1 32 1-26 1-58 1-35 1 18 1 45 1-28 1-79 1-112 1-3 1 25 1 34 1-34 1-50 1-36 1 3 1 27 1 19 1-7 1-9 1 20 1 59 1 68 1 43 1 15 1 16 1 37 1 48 1 28 1-8 1-31 1-31 1-28 1-42 1-63 1-63 1-38 1-8 1-1 1-21 1-35 1-16 1 23 1 47 1 39 1 19 1 19 1 44 1 67 1 58 1 23 1-6 1-11 1 1 1 2 1-12 1-28 1-25 1-13 1-14 1-34 1-58 1-25 1-2 1 19 1-43 1-51 1-48 1 13 1 47 1 61 1 43 1 11 1-13 1-10 1 13 1 47 1 70 1 70 1 41 1-3 1-29" fill="none" stroke="#31a354" stroke-width="0.85" stroke-linejoin="round" vector-effect="non-scaling-stroke"/>
<path transform="translate(42.30 333.61) scale(0.11537 0.07312)" d="M0-91l1-8 1 28 1 12 1-35 1-64 1-46 1 3 1 34 1 25 1-2 1-9 1 15 1 42 1 44 1 21 1 2 1 11 1 35 1 48 1 36 1 14 1 3 1 12 1 25 1 30 1 22 1 10 1-8 1-29 1-49 1-54 1-41 1-24 1-26 1-49 1-71 1-59 1-12 1 39 1 49 1 15 1-30 1-45 1-18 1 27 1 52 1 46 1 26 1 21 1 33 1 46 1 44 1 24 1 1 1-9 1-11 1-15 1-26 1-39 1-39 1-23 1-1 1 4 1-12 1-33 1-36 1-12 1 25 1 49 1 47 1 27 1 10 1 6 1 12 1 19 1 19 1 19 1 15 1 5 1-12 1-32 1-41 1-40 1-36 1-38 1-40 1-30 1-5 1 23 1 34 1 23 1 11 1 20 1 52 1 80 1 74 1 35 1-11 1-35 1-33 1-21 1-20 1-29 1-36 1-32 1-22 1-18 1-21 1-25 1-19 1-10 1-4 1-8 1-13 1-10 1 11 1 38 1 61 1 65 1 55 1 41 1 35 1 34 1 27 1 6 1-22 1-37 1-25 1 5 1 24 1 11 1-27 1-55 1-47 1-14 1 10 1-2 1-38 1-61 1-46 1-7 1 15 1 0 1-36 1-55 1-35 1 5 1 31 1 31 1 19 1 17 1 81 1 95 1 88 1-32 1-57 1-60 1 7 1 32 1 44 1 40 1 30 1 20 1 15 1 14 1 11 1 4 1-11 1-33 1-48 1-46 1-27 1-3 1 1 1-21 1-54 1-67 1-49 1-11 1 16 1 13 1-12 1-32 1-25 1 5 1 31 1 33 1 16 1 2 1 13 1 42 1 68 1 65 1 36 1 4 1-3 1 18 1 39 1 36 1 1 1-39 1-50 1-29 1 4 1 65 1 47 1 15 1-103 1-101 1-89 1-31 1-23 1-6 1 18 1 30 1 12 1-24 1-44 1-26 1 17 1 53 1 54 1 35 1 20 1 27 1 41 1 42 1 26 1 8 1 2 1 4 1 1 1-14 1-26 1-24 1-14 1-11 1-24 1-38 1-37 1-18 1-2 1-6 1-25 1-35 1-27 1-5 1 7 1 7 1 2 1 6 1 20 1 37 1 46 1 47 1 42 1 52 1 24 1-1 1-60 1-37 1-1 1 42 1 29 1-1 1-22 1-23 1-15 1-12 1-18 1-20 1-17 1-13 1-18 1-29 1-34 1-23 1-4 1 11 1 12 1 7 1 5 1 11 1 22 1 36 1 46 1 48 1 42 1 27 1 14 1 9 1 7 1-4 1-23 1-33 1-20 1 6 1 21 1-1 1-41 1-60 1-34 1 12 1 30 1-1 1-47 1-63 1-32 1 9 1 16 1-12 1-36 1-20 1 25 1 55 1 44 1 5 1-19 1-7 1 23 1 44 1 40 1 26 1 17 1 19 1 22 1 17 1 4 1-8 1-11 1-1 1 21 1 40 1 35 1 1 1-48 1-75 1-57 1-10 1 25 1 17 1-25 1-62 1-68 1-46 1-23 1-11 1-4 1 5 1 14 1 11 1-4 1-11 1 1 1 22 1 27 1 9 1-14 1-15 1 8 1 30 1 28 1 9 1 0 1 20 1 54 1 70 1 49 1 6 1-28 1-32 1-10 1 19 1 38 1 36 1 20 1-3 1-19 1-21 1-45 1-43 1-52 1-5 1 32 1 44 1 24 1-54 1-75 1-84 1-37 1-15 1-7 1-20 1-33 1-27 1 0 1 24 1 28 1 18 1 17 1 35 1 58 1 65 1 53 1 39 1 33 1 33 1 24 1 4 1-10 1-12 1-2 1 3 1-4 1-10 1-9 1-2 1-53 1-81 1-113 1-37 1-12 1 25 1 3 1-7 1-33 1-42 1-14 1 39 1 85 1 95 1 66 1 20 1-4 1 7 1 38 1 52 1 27 1-25 1-65 1-66 1-40 1-21 1-27 1-46 1-53 1-34 1-5 1 15 1 22 1 29 1 45 1 58 1 57 1 38 1 20 1 15 1 17 1 8 1-11 1-29 1-31 1-25 1-26 1-43 1-55 1-46 1-16 1 9 1 7 1-9 1-10 1 17 1 58 1 74 1 53 1 13 1-12 1 0 1 35 1 60 1 50 1 7 1-43 1-68 1-54 1-20 1 33 1 22 1-7 1-31 1-15 1 13 1-53 1-81 1-107 1-36 1 28 1 85 1 85 1 33 1-18 1-17 1 25 1 57 1 46 1 14 1 5 1 32 1 56 1 42 1-7 1-42 1-34 1 2 1 19 1-4 1-47 1-74 1-76 1-67 1-59 1-47 1-21 1 6 1 11 1-11 1-32 1-22 1 20 1 57 1 55 1 21 1-5 1 1 1 34 1 61 1 66 1 55 1 44 1 31 1 20 1 12 1 16 1 28 1 24 1-7 1-48 1-59 1-30 1 9 1 9 1-34 1-73 1-61 1-3 1 41 1 25 1-34 1-83 1-75 1-29 1 11 1 18 1 7 1 0 1-4 1-14 1-30 1-29 1 0 1 40 1 49 1 22 1-7 1 2 1 44 1 78 1 64 1 15 1-23 1-18 1 8 1 22 1 15 1 4 1 15 1 33 1 31 1 2 1-25 1-24 1 3 1 16 1-6 1-52 1-74 1-54 1-10 1 18 1 10 1-19 1-45 1-52 1-41 1-20 1 4 1 25 1 30 1 25 1 18 1 22 1 36 1 41 1 30 1 12 1 9 1 27 1 45 1 36 1 4 1-25 1-22 1 4 1 22 1-22 1-60 1-90 1-37 1-25 1-11 1-32 1-23 1-10 1-3 1 3 1 12 1 36 1 61 1 62 1 29 1-12 1-21 1 16 1 58 1 58 1 10 1-42 1-47 1-8 1 28 1 20 1-21 1-45 1-22 1 22 1 38 1 5 1-47 1-72 1-47 1 1 1 34 1 31 1 3 1-25 1 8 1 28 1 65 1 15 1 16 1-22 1-30 1-55 1-31 1 19 1 56 1 56 1 29 1 6 1-2 1-10 1-25 1-33 1-13 1 30 1 58 1 32 1-38 1-65 1-59 1 1 1-2 1 0 1-46 1-59 1-55 1-14 1 27 1 35 1 20 1 7 1 12 1 27 1 35 1 35 1 33 1 32 1 30 1 25 1 21 1 18 1 11 1-12 1-45 1-69 1-59 1-21 1 14 1 15 1-16 1-48 1-52 1-26 1 4 1 17 1 13 1 13 1 24 1 35 1 33 1 17 1 3 1 9 1 30 1 47 1 46 1 21 1-12 1-39 1-50 1-44 1-27 1-6 1 7 1 3 1-15 1-35 1-45 1-41 1-35 1-29 1-25 1-16 1 5 1 28 1 43 1 43 1 37 1 31 1 35 1 45 1 53 1 57 1 52 1 37 1 17 1 1 1 1 1 18 1 36 1 31 1-6 1-51 1-78 1-67 1-38 1-22 1-35 1-59 1-70 1-54 1-28 1-16 1-22 1-78 1-56 1-20 1 26 1 65 1 68 1 30 1 52 1 68 1 61 1 44 1 34 1 45 1 58 1 49 1 11 1-27 1-37 1-17 1 8 1 2 1-38 1-77 1-84 1-50 1-3 1 22 1 9 1-25 1-56 1-63 1-44 1-9 1 33 1 68 1 87 1 47 1 23 1-11 1 41 1 37 1 58 1 46 1 52 1 23 1-30 1-76 1-88 1-65 1-35 1-24 1-38 1-53 1-49 1-24 1 5 1 16 1 14 1 12 1 22 1 33 1 35 1 22 1 9 1 12 1 30 1 45 1 41 1 19 1 1 1 3 1 21 1 28 1 9 1-23 1-43 1-28 1 3 1 21 1 2 1-37 1-59 1-41 1-5 1 15 1-2 1-34 1-44 1-16 1 24 1 40 1 23 1 2 1-2 1 9 1 10 1-55 1-68 1-48 1 89 1 118 1 96 1 1 1-19 1 12 1 62 1 70 1 17 1-46 1-59 1 29 1 73 1 62 1-79 1-124 1-109 1-18 1 8 1-19 1-63 1-68 1-29 1 11 1 7 1-24 1-33 1 8 1 58 1 70 1 32 1-7 1-3 1 39 1 62 1 32 1-22 1-37 1 9 1 76 1 94 1 44 1-29 1-57 1-22 1 29 1 9 1-32 1-88 1-42 1-11 1 37 1 31 1 18 1-13 1-34 1-36 1-31 1-30 1-31 1-21 1 6 1 37 1 44 1 15 1-30 1-56 1-39 1 8 1 51 1 62 1 47 1 30 1 30 1 39 1 38 1 20 1-3 1-12 1-4 1 0 1-13 1-35 1-44 1-26 1 1 1 3 1-30 1-76 1-94 1-63 1-8 1 29 1 22 1-9 1-19 1 14 1 74 1 111 1 96 1 46 1 4 1 4 1 33 1 49 1 24 1-34 1-80 1-88 1-61 1-33 1-23 1-26 1-25 1-12 1 7 1 12 1 5 1-5 1-6 1 7 1 26 1 41 1 46 1 39 1 28 1 20 1 18 1 19 1 9 1-14 1-33 1-27 1 8 1 43 1 41 1-5 1-56 1-64 1-16 1 42 1 51 1 4 1-58 1-82 1-56 1-17 1-4 1-16 1-23 1-9 1 12 1 12 1-8 1-22 1-6 1 27 1 50 1 48 1 37 1 38 1 50 1 51 1 25 1-5 1-11 1 16 1 47 1 46 1 10 1-31 1-44 1-25 1 0 1 5 1-17 1-51 1-80 1-90 1-75 1-39 1 4 1 33 1 31 1 7 1-13 1-8 1 14 1 35 1 39 1 32 1 30 1 33 1 31 1 18 1 5 1 8 1 22 1 26 1 3 1-34 1-56 1-43 1-11 1 9 1 1 1-23 1-35 1-26 1-12 1-6 1-8 1-9 1 1 1 13 1 18 1 16 1 10 1 8 1 5 1 4 1 10 1 28 1 47 1 46 1 18 1-14 1-23 1 0 1 28 1 24 1-12 1-45 1-72 1-33 1-5 1 42 1-11 1-50 1-75 1-28 1 13 1 17 1-9 1-35 1-35 1-16 1 10 1 30 1 44 1 50 1 42 1 21 1 4 1 4 1 23 1 41 1 42 1 25 1 11 1 8 1 14 1 9 1-10 1-29 1-32 1-25 1-24 1-38 1-47 1-31 1 6 1 34 1 22 1-22 1-53 1-38 1 13 1 52 1 47 1 9 1-21 1-12 1 19 1 40 1 36 1 19 1 9 1-33 1-40 1-61 1 5 1 11 1 43 1 30 1 26 1-11 1-51 1-58 1-31 1 0 1 7 1-12 1-33 1-29 1-5 1 22 1 31 1 21 1 7 1 5 1 19 1 37 1 44 1 38 1 25 1 19 1 25 1 32 1 27 1 6 1-16 1-19 1-2 1 16 1 10 1-19 1-48 1-50 1-26 1-3 1-11 1-45 1-74 1-70 1-37 1-3 1 10 1 3 1-5 1-3 1 6 1 9 1 7 1 13 1 31 1 53 1 66 1 64 1 50 1 30 1 11 1-6 1-13 1-5 1 11 1 17 1 0 1-29 1-45 1-28 1 3 1 17 1-1 1-39 1-61 1-52 1-27 1-10 1-9 1-13 1-9 1-3 1-5 1-10 1 2 1 42 1 84 1 90 1 41 1-27 1-56 1-18 1 55 1 100 1 81 1 57 1-4 1-29 1-102 1-85 1-74 1-26 1-16 1-11 1-19 1-36 1-46 1-34 1 0 1 31 1 44 1 40 1 27 1 15 1 8 1 7 1 17 1 42 1 67 1 72 1 48 1 3 1-33 1-42 1-30 1-21 1-28 1-46 1-56 1-52 1 6 1 15 1 20 1-59 1-39 1-14 1 46 1 45 1 29 1 16 1 13 1 23 1 34 1 43 1 44 1 37 1 20 1-8 1-37 1-55 1-53 1-32 1-10 1-1 1-18 1-43 1-58 1-49 1-21 1 11 1 34 1 45 1 53 1 58 1 51 1 32 1 8 1 3 1 23 1 45 1 39 1-10 1-72 1-68 1-36 1 25 1 1 1-22 1-78 1-86 1-73 1-28 1 12 1 25 1 23 1 30 1 50 1 63 1 52 1 27 1 13 1 22 1 40 1 44 1 24 1 1 1-10 1 0 1 10 1 4 1-18 1-44 1-58 1-58 1-49 1-39 1-28 1-21 1-21 1-26 1-30 1-26 1-6 1 23 1 51 1 63 1 57 1 40 1 22 1 18 1 29 1 47 1 55 1 40 1 7 1 26 1 13 1 24 1-60 1-56 1-76 1-55 1-72 1-62 1-33 1-7 1 0 1-13 1-24 1-16 1 13 1 45 1 55 1 38 1 15 1 6 1 22 1 47 1 55 1 40 1 15 1-4 1-9 1-15 1-28 1-48 1-57 1-51 1-37 1-26 1-21 1-11 1 6 1 22 1 28 1 21 1 15 1 20 1 27 1 25 1 13 1 5 1 18 1 44 1 52 1 24 1-22 1-51 1-43 1-12 1 3 1-13 1-43 1-54 1-39 1-17 1-12 1-26 1-28 1-5 1 38 1 65 1 60 1 26 1-12 1-32 1-30 1-13 1 13 1 38 1 51 1 46 1 28 1 12 1 11 1 17 1 17 1 1 1-16 1-18 1 1 1 20 1 17 1-6 1-28 1-28 1-11 1-4 1-22 1-53 1-68 1-49 1-13 1 11 1 10 1-7 1-17 1-11 1 4 1 14 1 19 1 22 1 20 1 7 1-16 1-33 1-23 1 17 1 55 1 63 1 35 1-1 1-9 1 20 1 54 1 92 1 63 1 26 1-53 1-44 1-23 1 17 1 11 1-5 1-21 1-33 1-41 1-44 1-44 1-50 1-62 1-71 1-60 1-26 1 16 1 40 1 31 1 11 1 5 1 21 1 39 1 36 1 13 1 0 1-36 1-1 1 15 1 100 1 56 1 28 1-21 1-4 1-2 1-19 1-31 1-23 1-2 1 10 1 1 1-18 1-25 1-19 1-11 1-15 1-23 1-19 1 0 1 19 1 18 1 1 1-15 1-12 1 13 1 40 1 49 1 40 1 21 1 6 1 8 1 17 1 28 1 26 1 10 1-12 1-25 1-23 1-14 1-10 1-17 1-26 1-28 1-24 1-24 1-29 1-28 1-14 1 12 1 25 1 14 1-11 1-24 1-10 1 18 1 32 1 23 1 7 1 7 1 24 1 41 1 40 1 22 1 9 1 5 1 6 1 4 1 0 1 6 1 16 1 13 1-17 1-61 1-85 1-66 1-16 1 29 1 37 1 7 1-33 1-54 1-44 1-15 1 9 1 14 1-1 1-18 1-14 1 15 1 51 1 63 1 45 1 16 1 10 1 31 1 51 1 42 1 7 1-16 1-3 1 32 1 41 1 4 1-48 1-71 1-48 1-9 1 0 1-20 1-41 1-31 1-3 1 10 1-6 1-31 1-34 1-15 1 4 1 3 1-10 1-16 1-8 1 3 1 5 1 6 1 22 1 87 1 98 1 81 1-30 1-50 1-45 1 10 1 15 1 7 1 11 1 35 1 56 1 44 1-7 1-55 1-66 1-38 1-9 1-9 1-79 1-92 1-79 1 39 1 43 1 27 1-34 1-27 1-6 1 7 1 4 1-2 1 9 1 36 1 63 1 70 1 56 1 33 1-17 1-26 1-23 1 49 1 61 1 58 1 6 1-21 1-28 1-7 1 16 1 6 1-39 1-83 1-87 1-41 1 10 1 21 1-19 1-68 1-78 1-39 1 16 1 44 1 33 1 4 1-11 1 1 1 29 1 55 1 66 1 65 1 59 1 50 1 42 1 30 1 13 1-5 1-23 1-36 1-44 1-46 1-44 1-35 1-19 1-4 1-4 1-22 1-54 1-72 1-60 1-18 1 32 1 60 1 50 1 18 1-6 1 2 1 37 1 72 1 76 1 41 1-4 1-26 1-11 1 27 1 50 1 40 1 5 1-26 1-36 1-27 1-18 1-18 1-22 1-25 1-26 1-33 1-43 1-48 1-35 1-12 1 10 1 19 1 15 1 12 1 8 1 2 1-8 1-14 1 1 1 31 1 59 1 60 1 36 1 5 1-9 1-5 1 4 1 4 1-3 1-5 1 4 1 13 1 18 1 17 1 18 1 16 1 3 1-25 1-50 1-48 1-15 1 31 1 55 1 37 1-4 1-39 1-49 1-40 1-31 1-30 1-30 1-23 1-15 1-18 1-36 1-56 1-55 1-28 1 9 1 30 1 27 1 17 1 19 1 37 1 57 1 56 1 33 1 9 1 8 1 27 1 49 1 55 1 42 1 27 1 23 1 24 1 18 1-5 1-34 1-51 1-51 1-41 1-38 1-46 1-54 1-56 1-45 1-29 1-8 1 11 1 26 1 29 1 19 1 5 1 5 1 20 1 46 1 61 1 55 1 27 1-5 1-26 1-25 1-3 1 29 1 49 1 44 1 11 1-27 1-48 1-43 1-30 1-25 1-34 1-43 1-35 1-15 1-1 1 0 1-4 1 0 1 18 1 35 1 39 1 32 1 27 1 25 1 21 1 10 1 0 1 4 1 22 1 35 1 23 1-4 1-23 1-17 1-1 1-1 1-28 1-55 1-54 1-27 1 0 1 1 1-17 1-27 1-12 1 6 1 6 1-20 1-41 1-35 1 4 1 44 1 60 1 47 1 23 1 5 1 2 1 14 1 37 1 54 1 52 1 19 1-27 1-51 1-33 1 15 1 44 1 28 1-20 1-52 1-42 1-3 1 18 1-2 1-47 1-41 1-27 1 10 1-36 1-38 1-53 1-18 1 9 1 37 1 42 1 19 1-10 1-15 1 11 1 46 1 63 1 51 1 29 1 16 1 20 1 25 1 17 1 48 1 40 1 48 1-35 1-45 1-74 1-55 1-54 1-27 1 2 1 5 1-15 1-30 1-20 1 10 1 30 1 20 1-12 1-44 1-52 1-31 1 6 1 39 1 49 1 32 1 3 1-16 1-8 1 19 1 37 1 26 1-4 1-20 1-3 1 74 1 90 1 76 1-35 1-44 1-41 1-4 1-34 1-61 1-51 1-8 1 22 1-2 1-62 1-96 1-60 1 18 1 66 1 44 1-16 1-42 1-2 1 67 1 101 1 72 1 19 1-13 1-6 1 17 1 26 1 13 1-9 1-31 1-51 1-64 1-61 1-41 1-15 1-2 1-7 1-11 1 4 1 36 1 60 1 62 1 47 1 34 1 26 1 13 1-17 1-49 1-58 1-33 1 7 1 25 1 7 1-32 1-61 1-64 1-39 1-6 1 23 1 37 1 34 1 19 1 6 1 10 1 28 1 44 1 43 1 27 1 12 1 12 1 20 1 22 1 6 1 29 1 22 1-19 1-102 1-122 1-57 1-27 1-10 1-22 1-4 1-9 1-28 1-34 1-14 1 18 1 42 1 39 1 17 1-7 1-12 1 3 1 26 1 39 1 35 1 28 1 32 1 48 1 59 1 49 1 17 1-10 1-15 1 2 1 10 1-5 1-31 1-39 1-16 1 13 1 14 1-25 1-71 1-86 1-61 1-24 1-7 1-17 1-26 1-13 1 17 1 37 1 34 1 14 1 1 1 8 1 26 1 42 1 46 1 41 1 37 1 35 1 29 1 17 1 1 1-12 1-17 1-11 1-4 1-7 1-27 1-55 1-73 1-64 1-61 1-24 1-6 1 47 1 25 1 10 1-19 1-5 1 6 1 10 1 10 1 12 1 24 1 43 1 58 1 60 1 38 1 3 1-26 1-22 1 9 1 42 1 40 1 0 1-47 1-65 1-40 1-5 1 7 1-12 1-36 1-36 1-15 1-2 1-11 1-29 1-26 1 4 1 36 1 39 1 11 1-20 1-21 1 7 1 40 1 50 1 40 1 30 1 28 1 24 1 0 1-34 1-48 1-26 1 21 1 48 1-16 1-62 1-101 1-13 1 5 1 21 1-24 1-28 1-20 1-7 1 0 1-7 1-15 1-2 1 32 1 64 1 72 1 56 1 38 1 31 1 30 1 18 1-2 1-16 1-9 1-2 1-16 1-56 1-84 1-72 1-25 1 11 1 0 1-44 1-66 1-32 1 34 1 74 1 57 1 14 1-5 1 19 1 55 1 65 1 40 1 10 1 2 1 8 1 2 1-21 1-39 1-29 1-2 1 13 1-6 1-42 1-30 1-18 1 7 1-43 1-43 1-42 1 11 1 40 1 57 1 47 1 16 1-13 1-17 1 6 1 45 1 76 1 73 1 32 1-20 1-47" fill="none" stroke="#31a354" stroke-width="0.85" stroke-linejoin="round" vector-effect="non-scaling-stroke"/>
</g>
<g clip-path="url(#clipB)">
<path transform="translate(334.70 54.40) scale(0.02883 0.07312)" d="M0-13l1-40 1 43 1 69 1-48 1-24 1 30 1 21 1-43 1-61 1 55 1 78 1 36 1-50 1-107 1 42 1 42 1-21 1 41 1-79 1-45 1 113 1 2 1-36 1 4 1-16 1 39 1 4 1-74 1-4 1 37 1-58 1-16 1 86 1-23 1-13 1 30 1-52 1 58 1 14 1-67 1 97 1-44 1-66 1 128 1-34 1-47 1 28 1-41 1 43 1-28 1-43 1 99 1-16 1-32 1 45 1-37 1-18 1 32 1 13 1-7 1-17 1 2 1 0 1-14 1-21 1 14 1 32 1-36 1-4 1 22 1-22 1 23 1-7 1-28 1 30 1-30 1-17 1 42 1 9 1 28 1 19 1-23 1 3 1-2 1-45 1-18 1 61 1 9 1-64 1 7 1 18 1-9 1-2 1-20 1-3 1 5 1 20 1 16 1-43 1 42 1 37 1-94 1 19 1 89 1-32 1-45 1 8 1 19 1-15 1 5 1 43 1-15 1-8 1 25 1-22 1-3 1 13 1-23 1 0 1 19 1-19 1-21 1 33 1-6 1-60 1 17 1 22 1-2 1 48 1-20 1-39 1 64 1 3 1-79 1 24 1 36 1-63 1 32 1 53 1-86 1 50 1 53 1-142 1 53 1 84 1-86 1 62 1 4 1-85 1 61 1-15 1-11 1 22 1-84 1 56 1 61 1-50 1 39 1-38 1-40 1 53 1-66 1-2 1 79 1-16 1 8 1-13 1-15 1 66 1-7 1-32 1 4 1 0 1 27 1-35 1-40 1 28 1-38 1-7 1 74 1-14 1-28 1 35 1 11 1-2 1-16 1-14 1 15 1-15 1-3 1 54 1-12 1-55 1 25 1 10 1-45 1 10 1 42 1 17 1 4 1-29 1-36 1 10 1 15 1 14 1 21 1-36 1-19 1 80 1-16 1-115 1 18 1 61 1-18 1-6 1-15 1-19 1 39 1 14 1-37 1-24 1 5 1 31 1 43 1 14 1-39 1-19 1 31 1-19 1-16 1 85 1 12 1-89 1 15 1 39 1-31 1 23 1-1 1-58 1 56 1 48 1-75 1-41 1 42 1 11 1-37 1-13 1 50 1-6 1-48 1 55 1 22 1-64 1 44 1 44 1-87 1-6 1 80 1-16 1-58 1-6 1 30 1 12 1-35 1 27 1 66 1-37 1-44 1 2 1 7 1 40 1-17 1-31 1 44 1-34 1-52 1 51 1 12 1-3 1 45 1-5 1-24 1 2 1-23 1-33 1-2 1 20 1-33 1-17 1 113 1 19 1-120 1 52 1 57 1-103 1 29 1 67 1-31 1 4 1-34 1-14 1 31 1-40 1 26 1-1 1-76 1 85 1 66 1-49 1 0 1 3 1 11 1-25 1-43 1 46 1-1 1-20 1 40 1-10 1-16 1 0 1 29 1 34 1-59 1-4 1 32 1-38 1 36 1 12 1-37 1 34 1-72 1-40 1 162 1 2 1-157 1 27 1 68 1-45 1 4 1 10 1-44 1 16 1 24 1 8 1 31 1-24 1-28 1-7 1-25 1 21 1 0 1-6 1 70 1 10 1-31 1 5 1-35 1 14 1 57 1-26 1-42 1-25 1 10 1 63 1-30 1-46 1 46 1-9 1 2 1 28 1-67 1 31 1 79 1-73 1-20 1 37 1-8 1 26 1 11 1 28 1-10 1-114 1 15 1 87 1-1 1-11 1-42 1-12 1 38 1-13 1-22 1-12 1 38 1 40 1-47 1-2 1-2 1-58 1 15 1 24 1 2 1-5 1 9 1 93 1-15 1-96 1 29 1 21 1-9 1-1 1-28 1 14 1 18 1 24 1-6 1-77 1 22 1 27 1-42 1 39 1-4 1-51 1 17 1 26 1 36 1-1 1-30 1 18 1-3 1-19 1-28 1 9 1 79 1-27 1-38 1 54 1-41 1-15 1 82 1 2 1-15 1-11 1-24 1 17 1-14 1-11 1 38 1-20 1-35 1 4 1-18 1-1 1 34 1-5 1-26 1-29 1 6 1 80 1-19 1-95 1 42 1 38 1-10 1 38 1-29 1 3 1 33 1-49 1 27 1-4 1-58 1 72 1 13 1-55 1-38 1-26 1 123 1 27 1-96 1 81 1 10 1-87 1 16 1-20 1 24 1 71 1-14 1-7 1-9 1-31 1-55 1-39 1 71 1 27 1-31 1 19 1-1 1 17 1-5 1-41 1 36 1 11 1-14 1 10 1-18 1 25 1 3 1-37 1 53 1 13 1-65 1-3 1 10 1-17 1 22 1 35 1-5 1-15 1-24 1-36 1 26 1 30 1-30 1 13 1 33 1-17 1-24 1 6 1 53 1 17 1-58 1-20 1 20 1-4 1 2 1 23 1-7 1-30 1 13 1 21 1-20 1-6 1 22 1-3 1-21 1 27 1 8 1-70 1 41 1 93 1-59 1-29 1 24 1-65 1-27 1 19 1 15 1 50 1-15 1-35 1 41 1-5 1-51 1 11 1 48 1 34 1-12 1-55 1-8 1 35 1 2 1 1 1-10 1-7 1 70 1 5 1-87 1 7 1 36 1-16 1-4 1-8 1 4 1 37 1 24 1-7 1-34 1-25 1 5 1-1 1-26 1-6 1 13 1-30 1 8 1 69 1-27 1-43 1 27 1-7 1-11 1 16 1 28 1 48 1-18 1-48 1 21 1 30 1-20 1-36 1 19 1 7 1-54 1 8 1 57 1 31 1-16 1-48 1 33 1 24 1-56 1 34 1 37 1-20 1 3 1-76 1-63 1 50 1 32 1 38 1 13 1-52 1-5 1 12 1-23 1 2 1 31 1-10 1-60 1 9 1 60 1-3 1-12 1 4 1-5 1-19 1 8 1 73 1-4 1-45 1 39 1-28 1-23 1 78 1-3 1-34 1-15 1-21 1 16 1-20 1 14 1 54 1-48 1-18 1 20 1-28 1 17 1 6 1-25 1-2 1 11 1 42 1-17 1-53 1 22 1 24 1 21 1 17 1-10 1-3 1-51 1-35 1 49 1 4 1-28 1 15 1 5 1-19 1 11 1 11 1-4 1-1 1 23 1-34 1 15 1 12 1-69 1 18 1 41 1-19 1 55 1 52 1-57 1-37 1 20 1-42 1-31 1 95 1 46 1-35 1-13 1-38 1 12 1 34 1-21 1 19 1-25 1-44 1 49 1 2 1 5 1 42 1-29 1-35 1-46 1-17 1 26 1-26 1 36 1 31 1-55 1 54 1 51 1-27 1 11 1-43 1-11 1 53 1-61 1-34 1 50 1-18 1-10 1 41 1 24 1-10 1-32 1 13 1 19 1-29 1 24 1 47 1-31 1-38 1 15 1 31 1-5 1-27 1-5 1-26 1-17 1 21 1-1 1 8 1 6 1 4 1 49 1-17 1-34 1 21 1-38 1 2 1 37 1-38 1 15 1 23 1-6 1 35 1-56 1-51 1 71 1 47 1-30 1-90 1-6 1 82 1-36 1 10 1 69 1-73 1-7 1 32 1-50 1 44 1 19 1-17 1 90 1-7 1-95 1-29 1 11 1 51 1 1 1-19 1 46 1-32 1-58 1 31 1 17 1-6 1-5 1 27 1 10 1-85 1 16 1 95 1-35 1-42 1-3 1 19 1 21 1-77 1-13 1 41 1-22 1 75 1 18 1-79 1 24 1-15 1-16 1 36 1-22 1 30 1 29 1-3 1 4 1-55 1 55 1 11 1-92 1 128 1-7 1-150 1 110 1-12 1-74 1 114 1-55 1-60 1 83 1 8 1 6 1-42 1-59 1 78 1 39 1-75 1-52 1 45 1 45 1-48 1-5 1 35 1-21 1-3 1 28 1 49 1 0 1-69 1 14 1 14 1-30 1 15 1-33 1-2 1 70 1-17 1-28 1 0 1-36 1 23 1 66 1-15 1-58 1 15 1 31 1 10 1 44 1-32 1-30 1 92 1-31 1-117 1 4 1 23 1 21 1 25 1-30 1-30 1 5 1 21 1-14 1-8 1 36 1-30 1-36 1 46 1 21 1-57 1-41 1 65 1 41 1 2 1 74 1-42 1-50 1 79 1-84 1-37 1 81 1-105 1 3 1 77 1-77 1 61 1 70 1-32 1 51 1-28 1-23 1 57 1-84 1-27 1 65 1-38 1 35 1 20 1-136 1 9 1 76 1-37 1 22 1 2 1-9 1 69 1-55 1-66 1 39 1 15 1 50 1-33 1-70 1 113 1 11 1-106 1 4 1-7 1 20 1 31 1-57 1 17 1 41 1-13 1 23 1 19 1-44 1-60 1 32 1 58 1-39 1-11 1 26 1-4 1 29 1-5 1-5 1 62 1-16 1-54 1 19 1-7 1-20 1 36 1-3 1-25 1 44 1 4 1-55 1 3 1-4 1-30 1 23 1 26 1-14 1-7 1 43 1 28 1-77 1-41 1 71 1 8 1-39 1 17 1-35 1-25 1 78 1 2 1-50 1 1 1-16 1 36 1 28 1-29 1 44 1-46 1-53 1 85 1-48 1-3 1 73 1-105 1 39 1 88 1-79 1 62 1 23 1-96 1 18 1 13 1-25 1-43 1 9 1 81 1-49 1-5 1 84 1-63 1-22 1 48 1-17 1-2 1 4 1 12 1-24 1-36 1 62 1-1 1-41 1 43 1-15 1-3 1 55 1-44 1-30 1 71 1-2 1-75 1 6 1 20 1-38 1 29 1 21 1-63 1 25 1 73 1-30 1-21 1 34 1-35 1-49 1 30 1-1 1-12 1 52 1-7 1-24 1 14 1-50 1 6 1 46 1-36 1 47 1 58 1-88 1-31 1 49 1-27 1-33 1 40 1 49 1-13 1-13 1 41 1-32 1-59 1 26 1 1 1 17 1 45 1-53 1-4 1 37 1-29 1 37 1-16 1-68 1 63 1 3 1-12 1 76 1-61 1-77 1 46 1 14 1 6 1 22 1-32 1-68 1 18 1 127 1-5 1-106 1 25 1 38 1-41 1 1 1 6 1-42 1 4 1 74 1 20 1-32 1-4 1-13 1 10 1 47 1-22 1-62 1-12 1 17 1 9 1 14 1 3 1-42 1-23 1 28 1 22 1 2 1-22 1 2 1 44 1-10 1-23 1 19 1-1 1-4 1 19 1 36 1 3 1-63 1-12 1 65 1 19 1-17 1 1 1-1 1-31 1-38 1 4 1 22 1-3 1 4 1-12 1-74 1-8 1 72 1 2 1 15 1 32 1-68 1 6 1 48 1-48 1 33 1 40 1-59 1 40 1 49 1-78 1-28 1 46 1-14 1-51 1 13 1 80 1 56 1-67 1-67 1 66 1-14 1-91 1 54 1 67 1 13 1-16 1-58 1 33 1 9 1-48 1 38 1-29 1-26 1 57 1-41 1-36 1 14 1 53 1 52 1-114 1-11 1 112 1-64 1 10 1 69 1-77 1 0 1 36 1-20 1 16 1-15 1-18 1 30 1-30 1-63 1 34 1 81 1 31 1-4 1-49 1-12 1 37 1-80 1-8 1 97 1-43 1 14 1 17 1-114 1 69 1 77 1-65 1 23 1-2 1-24 1 9 1-36 1 26 1 22 1-11 1 44 1-43 1-72 1 28 1 12 1-48 1 25 1 92 1-56 1-88 1 79 1 28 1-4 1 59 1-35 1-5 1 42 1-60 1-61 1-22 1 34 1 57 1-25 1 28 1 33 1-78 1 35 1 85 1-72 1-43 1 33 1-25 1-3 1 43 1 17 1-9 1-35 1-14 1 9 1-4 1-8 1-43 1 23 1 97 1-61 1-61 1 63 1-14 1 7 1 18 1-42 1 53 1 2 1-51 1 61 1-7 1-54 1 17 1 29 1 28 1-42 1-34 1 59 1 1 1-40 1 6 1 9 1-34 1-31 1 48 1 37 1-14 1 0 1-49 1-8 1 76 1-31 1-37 1 60 1-12 1-43 1 18 1 20 1 46 1 3 1-91 1 19 1 57 1-50 1 23 1 21 1-53 1 27 1-12 1-33 1 44 1 9 1-13 1-50 1 15 1 118 1-49 1-44 1 41 1-83 1 25 1 67 1-65 1 28 1 21 1-50 1 7 1-11 1 1 1 18 1-9 1 16 1 30 1 19 1-51 1-39 1 57 1-22 1-50 1 58 1 14 1-54 1 1 1 53 1 29 1-28 1-35 1-3 1 21 1 7 1-11 1 25 1 22 1-15 1-19 1-9 1-10 1-19 1 24 1 36 1-25 1 7 1 53 1 4 1-57 1-27 1 42 1-29 1-38 1 45 1-82 1 52 1 56 1-90 1 39 1 43 1-93 1 89 1 59 1-117 1 3 1 40 1-26 1 8 1-9 1-39 1 50 1 57 1-92 1-31 1 109 1 13 1-31 1 8 1-12 1 1 1 19 1 24 1-12 1-19 1 26 1-38 1-59 1 11 1 45 1 55 1-38 1-59 1 37 1 12 1-29 1-32 1 13 1 61 1-24 1-31 1 6 1 9 1 59 1-24 1-54 1 31 1-9 1-18 1-6 1 20 1 45 1-40 1-1 1 19 1-13 1 56 1-33 1-25 1 38 1-102 1 41 1 98 1-105 1 18 1 63 1-42 1 0 1-25 1 19 1 39 1-50 1 13 1 27 1-33 1-1 1 6 1-5 1 5 1 39 1-2 1-52 1 49 1 21 1-70 1 15 1-11 1-61 1 26 1 37 1 26 1 7 1-40 1 2 1 33 1-18 1-30 1 17 1 17 1-9 1-17 1-43 1 13 1 65 1-23 1 1 1 51 1-18 1 12 1 4 1-27 1 41 1-13 1-26 1 28 1-48 1 3 1 55 1-40 1-28 1-1 1 29 1 22 1-92 1-1 1 62 1-36 1 38 1 19 1-62 1 59 1 24 1-64 1 12 1 6 1-14 1 18 1 14 1-7 1-27 1-14 1-26 1-8 1 62 1-9 1-36 1 43 1-8 1 3 1 64 1-45 1-63 1 59 1 66 1 3 1-33 1-42 1 1 1 15 1-38 1 5 1 67 1-20 1-42 1 29 1 5 1-5 1 6 1 5 1 9 1-58 1-28 1 44 1-14 1 23 1 53 1-125 1 25 1 78 1-20 1-1 1-22 1-31 1 41 1-15 1-28 1 48 1 8 1-51 1-15 1 29 1 28 1 2 1-7 1 27 1 43 1-32 1-60 1 15 1 16 1-14 1 4 1 6 1 7 1-3 1 15 1 24 1-43 1-27 1 28 1-10 1-12 1 13 1-4 1-20 1 14 1 43 1-35 1-33 1 33 1-35 1 5 1 89 1-26 1-58 1 52 1 27 1-82 1-35 1 75 1 40 1 15 1-16 1-87 1 22 1 58 1-28 1 27 1 5 1-60 1-41 1-30 1 58 1 56 1-36 1-15 1 5 1 21 1 22 1-22 1-13 1 5 1 47 1 2 1-64 1 29 1 0 1-14 1 60 1-75 1-36 1 76 1-48 1-1 1 46 1-22 1 21 1-24 1-2 1 72 1-27 1-38 1 1 1-20 1 9 1 22 1 27 1-20 1-58 1 34 1 20 1-33 1 23 1 4 1 0 1 29 1-22 1-6 1 29 1-25 1-47 1-16 1 46 1 46 1-21 1 3 1 12 1-28 1 6 1-33 1-47 1 76 1 54 1-71 1-55 1 30 1 42 1-37 1 28 1 0 1-3 1 37 1 9 1-33 1-2 1-25 1-22 1 47 1 15 1-46 1 12 1 35 1-37 1 20 1 28 1-65 1 67 1 43 1-130 1 26 1 45 1-56 1 35 1-11 1-10 1 23 1-36 1 54 1 26 1-8 1 51 1-80 1-48 1 51 1-8 1 27 1-26 1-66 1 27 1 16 1 16 1-2 1-11 1 55 1-3 1-35 1 0 1-22 1 9 1 64 1 40 1-71 1-68 1 55 1 18 1-32 1-15 1-12 1 10 1-6 1 58 1 35 1-98 1 15 1 35 1-35 1 43 1-38 1-20 1 56 1-66 1 24 1 97 1-51 1-59 1-13 1-1 1 34 1 44 1 15 1-24 1-11 1-19 1-10 1 4 1 5 1 76 1-15 1-98 1 27 1-6 1-11 1 60 1-2 1 22 1-29 1-66 1 42 1 23 1 34 1 3 1-47 1 63 1-31 1-64 1 78 1-34 1-65 1 19 1-9 1 11 1 21 1 20 1-16 1-31 1 45 1 0 1-14 1 34 1-24 1-10 1-3 1-22 1 10 1-16 1 42 1 63 1-60 1-37 1 29 1-8 1 10 1 40 1-20 1-36 1 10 1-20 1-1 1 23 1-34 1 19 1 0 1-26 1 107 1-25 1-128 1 67 1 18 1-51 1 84 1 42 1-61 1-15 1 28 1-19 1-10 1 35 1-15 1-34 1 66 1-54 1 12 1-13 1-58 1 78 1 16 1-43 1 81 1 11 1-61 1 8 1-10 1 4 1 43 1-45 1-77 1-20 1-5 1 33 1 29 1-31 1 12 1 36 1 2 1 18 1-3 1-15 1 2 1-12 1 36 1 30 1-42 1-2 1-5 1-50 1 20 1 16 1-50 1 47 1 79 1-36 1-16 1 1 1-32 1 43 1 17 1-23 1 12 1-37 1 3 1 5 1-54 1 44 1 26 1-30 1 25 1 1 1 16 1 29 1-5 1-23 1-45 1 47 1 6 1-80 1 24 1-50 1-12 1 151 1-54 1-75 1 82 1-26 1-48 1 30 1 47 1-21 1-58 1 53 1-22 1-63 1 99 1 11 1-50 1 59 1-5 1-51 1 9 1 16 1-5 1 19 1 32 1-21 1 1 1 23 1-25 1-13 1-35 1-29 1 28 1 3 1 13 1-4 1-31 1 27 1 5 1 13 1 13 1-51 1 40 1 58 1-49 1-43 1-1 1 31 1-3 1-54 1 20 1 68 1 11 1-49 1-4 1 54 1-40 1-47 1 50 1-5 1-33 1 29 1 24 1 3 1-21 1-48 1 1 1 72 1 15 1-44 1 24 1 19 1-32 1-26 1-19 1 34 1 23 1-39 1 10 1-12 1-45 1 48 1 70 1 20 1-65 1-59 1 72 1 20 1-55 1 12 1-25 1-28 1 43 1-1 1-21 1-14 1 2 1 62 1-14 1-80 1 40 1 59 1-47 1-25 1 39 1 13 1-2 1 28 1-1 1-22 1 26 1-7 1-56 1 27 1 70 1-10 1-38 1 12 1 2 1-36 1 1 1 24 1-2 1-9 1-34 1-12 1 26 1-14 1 8 1 38 1-14 1-34 1-19 1 35 1 22 1-58 1-10 1 26 1 29 1 69 1-16 1-64 1-11 1 9 1 28 1 23 1-2 1-53 1-27 1 80 1-24 1-74 1 48 1-12 1-24 1 35 1 11 1 16 1-66 1 10 1 138 1-35 1-53 1 27 1-45 1-2 1 14 1 17 1 21 1-67 1-5 1 23 1-39 1 37 1 38 1-15 1-18 1-18 1 12 1-14 1 9 1 31 1-34 1 21 1 41 1-34 1 30 1 52 1-50 1-62 1 25 1 46 1-20 1-56 1-26 1 61 1 70 1-28 1-27 1-38 1-54 1 52 1 26 1-28 1 13 1-31 1 4 1 41 1-45 1 1 1 57 1-41 1-38 1 63 1 24 1-36 1 3 1-5 1 13 1 47 1-15 1-2 1-20 1-49 1 58 1-8 1-75 1 56 1 26 1-37 1 4 1 4 1-8 1-9 1 37 1 13 1-23 1 50 1-24 1-56 1 53 1-20 1-32 1 42 1 1 1 18 1-4 1-65 1-13 1 55 1 37 1-74 1-28 1 91 1-38 1-55 1 60 1-26 1 10 1 88 1-61 1-36 1 84 1-16 1-31 1 22 1-52 1-2 1 77 1-30 1-64 1 19 1 51 1-8 1-69 1 0 1 8 1-39 1 64 1 51 1-55 1-12 1 22 1 18 1-9 1-26 1 33 1-12 1-31 1 61 1-14 1-43 1 62 1-32 1-49 1 107 1-21 1-111 1 95 1 21 1-113 1 56 1 41 1-60 1 21 1 32 1 1 1-4 1 7 1 17 1-11 1 20 1-27 1-77 1 45 1 20 1-34 1 24 1-33 1 2 1 60 1-42 1-30 1 62 1 10 1-61 1 14 1 15 1-64 1 65 1 65 1-75 1-4 1-1 1 16 1 54 1-63 1 13 1 26 1-69 1 39 1-6 1-11 1 78 1-33 1-10 1-12 1-33 1 85 1-67 1-105 1 117 1 55 1-57 1-31 1-17 1-5 1 7 1-7 1-13 1 89 1 25 1-114 1 82 1 67 1-104 1 53 1 10 1-63 1 65 1-24 1-24 1 54 1-62 1-41 1 63 1-11 1-70 1 74 1 76 1-106 1 15 1 61 1-97 1 42 1 53 1-79 1 24 1 24 1 9 1 28 1-53 1 14 1 30 1-50 1-24 1-26 1 43 1 58 1-83 1-34 1 49 1-23 1-8 1 49 1 32 1-9 1-40 1-7 1 25 1 0 1 16 1 60 1 14 1-99 1-94 1 71 1 112 1-45 1-72 1 30 1 34 1-11 1 0 1 23 1-45 1-73 1 59 1 47 1-51 1 19 1 3 1-39 1 23 1 5 1 4 1-2 1-35 1 68 1 54 1-67 1 8 1 41 1-40 1 8 1 26 1-41 1 13 1 18 1-54 1 11 1 29 1-12 1-9 1-59 1 11 1 77 1-31 1-9 1 0 1-47 1 52 1 7 1-51 1 50 1 17 1-18 1-11 1-47 1 15 1 31 1 8 1 38 1-25 1-22 1 58 1-10 1-73 1 10 1 52 1-24 1-53 1 28 1 30 1-44 1-13 1 54 1 20 1-37 1-28 1 23 1 21 1-15 1 35 1 34 1-52 1-7 1 25 1-21 1 31 1 11 1-57 1-13 1 32 1 41 1-36 1-64 1 78 1 46 1-61 1-9 1-46 1-23 1 82 1-12 1-46 1 55 1 30 1-18 1-13 1-26 1 3 1 31 1-15 1-43 1 2 1 28 1-10 1-22 1 30 1 27 1-43 1-20 1 59 1-1 1-54 1 49 1 48 1-59 1-7 1 52 1-2 1-53 1-50 1 64 1 58 1-73 1 33 1 60 1-89 1-20 1 3 1-18 1 59 1-18 1-20 1 39 1-28 1 16 1 29 1-10 1 22 1-42 1-40 1 30 1-10 1-2 1 31 1 2 1-32 1 18 1 82 1-19 1-59 1 18 1-39 1-35 1 50 1-5 1-20 1 58 1 34 1-37 1 20 1-93 1-30 1 73 1 26 1-25 1 22 1-39 1-15 1 31 1-4 1 50 1-23 1-65 1 48 1-8 1-18 1 47 1 8 1-2 1-50 1-25 1 41 1 0 1 27 1-17 1-47 1 72 1 6 1-50 1 21 1-18 1-8 1 18 1 7 1 14 1-39 1-18 1 60 1 46 1-12 1-43 1-31 1-35 1 7 1 66 1-11 1-14 1 20 1-66 1-7 1 67 1-14 1-19 1 8 1 19 1 43 1-16 1-22 1 32 1-21 1-37 1 32 1-1 1-28 1 20 1 9 1 4 1 27 1-10 1-43 1-21 1 41 1 15 1-76 1-9 1 47 1-16 1 11 1 7 1-27 1 13 1-19 1 4 1 76 1-4 1-23 1 15 1-46 1-11 1 52 1 8 1-13 1-57 1-25 1 93 1 5 1-66 1 25 1 10 1 23 1 16 1-64 1 16 1 35 1-7 1 35 1-58 1-70 1 75 1 42 1-40 1-13 1 20 1-1 1-5 1 7 1-25 1 19 1 14 1-63 1 34 1 23 1-43 1 41 1-6 1-19 1 5 1-48 1 81 1 33 1-57 1 15 1-24 1-24 1 15 1-57 1 84 1 10 1-41 1 21 1-16 1-2 1-6 1-8 1 95 1-13 1-100 1 48 1 43 1-54 1-25 1 39 1 23 1-5 1 17 1-20 1-39 1 17 1 12 1-38 1-24 1 65 1 21 1-77 1 40 1 72 1 0 1-74 1 17 1-6 1-14 1 30 1 31 1-73 1-39 1 39 1 9 1 38 1-1 1-39 1 31 1-2 1-15 1 19 1-15 1-40 1-9 1 57 1-12 1-41 1 79 1-21 1-59 1 64 1-26 1-15 1 40 1-24 1 43 1 2 1-42 1 60 1-25 1-51 1 30 1-32 1 3 1 45 1-50 1-9 1 51 1-26 1-29 1 32 1 17 1 5 1 16 1-11 1-46 1-34 1 34 1 20 1-38 1 18 1 16 1-32 1 28 1 35 1 10 1 2 1-42 1-5 1 11 1-22 1 35 1 24 1-43 1 3 1 22 1-35 1-16 1 29 1 11 1 10 1 4 1-31 1 8 1 11 1-49 1 12 1 51 1-26 1-2 1 47 1-21 1-28 1 6 1-24 1 16 1 23 1-44 1 14 1 26 1-22 1 28 1-4 1-11 1 45 1-38 1-39 1 35 1 0 1-16 1-6 1-12 1 1 1 50 1 27 1-88 1-21 1 76 1 10 1-5 1-32 1-7 1 48 1-60 1-19 1 52 1 4 1 70 1-51 1-120 1 115 1 36 1-108 1 27 1 40 1-20 1-4 1 2 1-12 1 1 1 23 1-42 1 7 1 105 1-40 1-58 1 52 1-32 1-44 1 7 1 19 1 59 1-33 1-36 1 58 1-33 1-21 1 55 1-42 1-23 1 54 1 25 1 0 1-18 1 21 1-2 1-85 1 31 1 56 1-70 1-1 1 31 1-32 1 22 1 19 1-39 1-32 1 19 1 38 1-10 1 20 1 49 1-22 1-35 1-23 1 15 1 22 1-51 1 17 1 48 1-67 1-39 1 18 1 37 1 60 1 20 1-39 1-88 1 7 1 101 1-13 1-32 1 2 1-23 1 26 1 1 1 9 1 17 1-87 1 13 1 76 1-20 1 17 1-11 1-30 1 16 1-24 1 53 1 46 1-71 1 13 1 13 1-51 1 9 1 8 1 17 1 12 1-20 1 33 1-28 1-69 1 52 1 26 1-44 1 23 1 13 1-24 1 31 1-4 1-90 1-17 1 50 1 0 1 31 1 54 1-52 1-44 1 61 1 29 1-45 1-7 1 29 1-27 1-5 1 46 1-20 1-20 1 11 1-18 1 52 1 53 1-22 1-28 1-95 1-18 1 103 1-37 1-4 1 79 1-66 1-11 1 29 1-90 1 20 1 74 1-54 1-26 1 44 1 0 1-20 1 37 1 19 1-37 1 21 1 32 1 19 1 31 1-94 1-80 1 125 1 63 1-109 1-62 1 54 1 84 1-9 1-84 1 14 1 51 1-51 1-18 1 48 1 0 1-37 1-45 1 13 1 66 1 8 1 6 1-19 1-71 1 49 1 28 1-76 1 52 1 45 1-62 1 48 1 21 1-125 1 5 1 126 1-5 1-48 1 1 1-41 1-3 1 30 1-35 1 2 1 60 1 45 1-9 1-46 1 20 1-6 1-67 1 29 1 29 1-14 1 69 1 32 1-101 1-61 1 92 1 9 1-55 1 28 1-9 1-10 1 78 1-71 1-61 1 67 1-47 1-4 1 81 1 6 1 19 1-39 1-51 1 67 1 4 1-41 1 2 1-12 1 52 1 27 1-96 1-23 1 47 1-1 1 16 1-15 1-44 1 59 1 11 1-57 1 65 1 2 1-70 1 38 1-38 1-37 1 96 1-6 1-36 1 39 1-1 1 1 1-41 1-23 1 77 1-34 1-39 1 78 1-21 1-16 1 72 1-29 1-54 1 19 1 2 1-47 1 16 1 80 1-31 1-41 1 24 1-43 1 62 1 55 1-148 1 38 1 120 1-88 1 10 1 39 1-67 1 18 1-7 1-40 1 37 1 15 1-15 1-26 1-28 1 26 1 21 1-20 1 18 1 55 1-17 1-10 1 45 1-42 1 8 1 65 1-91 1-15 1 89 1-62 1-65 1 14 1 20 1-6 1-49 1 31 1 40 1-30 1 45 1 35 1-57 1-17 1 42 1 7 1-45 1 27 1 48 1-40 1 12 1 15 1-62 1 9 1 12 1-11 1 69 1-22 1-107 1 42 1 55 1-55 1 22 1 64 1-17 1-18 1 17 1 30 1-24 1-56 1 67 1-1 1-134 1 49 1 60 1-85 1 21 1 29 1-38 1 44 1 36 1-2 1-8 1-53 1-9 1 10 1-31 1 59 1 59 1-74 1-3 1 53 1-44 1 13 1 61 1-31 1-55 1-21 1 44 1 37 1-56 1 3 1 43 1-28 1 9 1 36 1 14 1-13 1-82 1-9 1 70 1-49 1-38 1 74 1-2 1-12 1 33 1-57 1-6 1 42 1-63 1 33 1 70 1-56 1 21 1 37 1-53 1-29 1-13 1 50 1 40 1-62 1 5 1 28 1-32 1-12 1-16 1 37 1 71 1-46 1-62 1 29 1 14 1 12 1 52 1-17 1-21 1 39 1-70 1-56 1 56 1-31 1-7 1 55 1 8 1 29 1-73 1-67 1 116 1 37 1-65 1-32 1 7 1 60 1 35 1-88 1 46 1-55 1-22 1 90 1 9 1-49 1-15 1 7 1-12 1-2 1 25 1-32 1 10 1 88 1-31 1-51 1 69 1-13 1-82 1 37 1 0 1-54 1 101 1 31 1-111 1 55 1 27 1-132 1 22 1 78 1-33 1 15 1 32 1-35 1-3 1 34 1-14 1-42 1 1 1 39 1-11 1-18 1 68 1-24 1-84 1 75 1 3 1-52 1 103 1-16 1-79 1 22 1-26 1 52 1 44 1-91 1-3 1 31 1 24 1 25 1-37 1 23 1 10 1-37 1-28 1 5 1 6 1 39 1-61 1-36 1-9 1 8 1 38 1-14 1 6 1 27 1 27 1 39 1-39 1-19 1 33 1-11 1 4 1-6 1-41 1-13 1 49 1 53 1-60 1-59 1 35 1 13 1 15 1-1 1-38 1 10 1 31 1 36 1-4 1-45 1 1 1-31 1-9 1 74 1-2 1-36 1 3 1-13 1-22 1-17 1 65 1 78 1-53 1-72 1-10 1 20 1 18 1-8 1 36 1 27 1-47 1-21 1-23 1 29 1 85 1-53 1-44 1 37 1-13 1 75 1-16 1-160 1 113 1 78 1-177 1 30 1 62 1-80 1 46 1 51 1-20 1-14 1-5 1 32 1 19 1-17 1 59 1-22 1-40 1 34 1 2 1-66 1-36 1 77 1-7 1-79 1 70 1-12 1-79 1 86 1 5 1-53 1 67 1 24 1-35 1-18 1-14 1-13 1 8 1 13 1-30 1 28 1 35 1-64 1 41 1 71 1-58 1-10 1-16 1-41 1 53 1 20 1 1 1 52 1-49 1-89 1 73 1 86 1-83 1-37 1 60 1 0 1 11 1-18 1-44 1 71 1 7 1-55 1 14 1-38 1-18 1 61 1-7 1-38 1 17 1 29 1-30 1-29 1 22 1 5 1 36 1 0 1-74 1 3 1 62 1-30 1 16 1 11 1-89 1 5 1 73 1-34 1-2 1 79 1-12 1-63 1-26 1 42 1 97 1-44 1-91 1 35 1-7 1 17 1 62 1-42 1 6 1 17 1-24 1 54 1-19 1-41 1 21 1-44 1-7 1 20 1-19 1 13 1-34 1-8 1 56 1-15 1 2 1 32 1-9 1 17 1 18 1-40 1-28 1 44 1-7 1-75 1 34 1 59 1 6 1 38 1-47 1-86 1 31 1 18 1-15 1 40 1 13 1-73 1-22 1 95 1 16 1-89 1-21 1 6 1 8 1 54 1 22 1-39 1-18 1 32 1-27 1-53 1 65 1 40 1-43 1 13 1 14 1 13 1 12 1-54 1-3 1 49 1-6 1 0 1 4 1-34 1-4 1 24 1-16 1-12 1 8 1-23 1 25 1 57 1-33 1-25 1 20 1-21 1-9 1 29 1 12 1 4 1 18 1-24 1-62 1 27 1 4 1-69 1 56 1 29 1-74 1 51 1 53 1-13 1-6 1-62 1 10 1 74 1-6 1-3 1-38 1-52 1 51 1 3 1-14 1 60 1-54 1-76 1 68 1 48 1-20 1-18 1 8 1 49 1-38 1-57 1 50 1-18 1-21 1 82 1-14 1-58 1-10 1 14 1 47 1-44 1-31 1 65 1-21 1-3 1 29 1-18 1 43 1-13 1-25 1 50 1-31 1-36 1-15 1-2 1 61 1-32 1-27 1 32 1-48 1 24 1 50 1-26 1 3 1-33 1-15 1 43 1-4 1-16 1-38 1 7 1 75 1 10 1 7 1 26 1-60 1-72 1 33 1 53 1-52 1 10 1 83 1-37 1-18 1 2 1-78 1 13 1 58 1 13 1-12 1-29 1 18 1-15 1-13 1 31 1-32 1 36 1 32 1-57 1 30 1-21 1-26 1 73 1-33 1-26 1-3 1-21 1 90 1-9 1-80 1 37 1 13 1 26 1 16 1-54 1 18 1 19 1-29 1 5 1 11 1-25 1-27 1 45 1 32 1-34 1-8 1-15 1 14 1 36 1-47 1-9 1 46 1 3 1-31 1-37 1 45 1 19 1-81 1 19 1 49 1-9 1 15 1-14 1-25 1 18 1 40 1 6 1-48 1 12 1 34 1-34 1-18 1-3 1 5 1 0 1-27 1 14 1 27 1 11 1-14 1-40 1 32 1 31 1-20 1 11 1-1 1 5 1 1 1-36 1-9 1-2 1 33 1 32 1-25 1 25 1-31 1-61 1 69 1-20 1-83 1 60 1 63 1-4 1-22 1-12 1-4 1 2 1 17 1-24 1 23 1 48 1-62 1 2 1 18 1-39 1 63 1-24 1-38 1 90 1-60 1-32 1 60 1-91 1-14 1 54 1 3 1 42 1-28 1-18 1 41 1-36 1 12 1 27 1-34 1 24 1 23 1-20 1-32 1-26 1 5 1-8 1 16 1 32 1-16 1 23 1 18 1-34 1-8 1-21 1-1 1 48 1 13 1-8 1-28 1-28 1 11 1 2 1 31 1 36 1-39 1-5 1 25 1-26 1 2 1 23 1-18 1-20 1 8 1 5 1-16 1-2 1 3 1-15 1 23 1 47 1 0 1-42 1-37 1 12 1 28 1 9 1 0 1-21 1-4 1 13 1-4 1 15 1-5 1-2 1 47 1-23 1-48 1 29 1-5 1-36 1-2 1 3 1 21 1 15 1-4 1 39 1 27 1-61 1-44 1 39 1 2 1-12 1 43 1-29 1-36 1 53 1-11 1-25 1 25 1-14 1 21 1 2 1-63 1 46 1 41 1-68 1 24 1 34 1-66 1 9 1 49 1-15 1-4 1-30 1-54 1 30 1 51 1 7 1-7 1-18 1-24 1 60 1-33 1-50 1 24 1 30 1-10 1 35 1 34 1-20 1 8 1-3 1-33 1 11 1 15 1 6 1-2 1-32 1-5 1-5 1-7 1 33 1 8 1-20 1-16 1 5 1 39 1-3 1-34 1-11 1 8 1 12 1-17 1 9 1-5 1-45 1 54 1 14 1-61 1 42 1 7 1 2 1 37 1-81 1-19 1 44 1-26 1 24 1 4 1 9 1 49 1-39 1 10 1 23 1-65 1 8 1 12 1-21 1 13 1-11 1 38 1 53 1-50 1-39 1 23 1 6 1-25 1 2 1 21 1 1 1 6 1-22 1-15 1 57 1 7 1-39 1 9 1 7 1-16 1-24 1 38 1 46 1-49 1 1 1 13 1-50 1 44 1 36 1-33 1-25 1-60 1 39 1 66 1-76 1 7 1 54 1-45 1 14 1 15 1-69 1 1 1 67 1 8 1-29 1 13 1-8 1-46 1 19 1 32 1-21 1 12 1 41 1-18 1-34 1 35 1 22 1-52 1 9 1 33 1-50 1 0 1 55 1-13 1-26 1 0 1-2 1 19 1 3 1-11 1 28 1-9 1-33 1 55 1 13 1-84 1-7 1 51 1 24 1 2 1-30 1-21 1-1 1 4 1 4 1-20 1 32 1 37 1-36 1 10 1-9 1-77 1 27 1 54 1-21 1-9 1-15 1 0 1 49 1-18 1-57 1 33 1 21 1-36 1 30 1 1 1-44 1 39 1 16 1 1 1 43 1-21 1 4 1 17 1-16 1 43 1-41 1-65 1 47 1-35 1-22 1 76 1-7 1-19 1-10 1-52 1 15 1 75 1-6 1-97 1-4 1 76 1-11 1-23 1 16 1 15 1-2 1-24 1 68 1 48 1-98 1-18 1 49 1-35 1-8 1 45 1 7 1-46 1 4 1 24 1-45 1 20 1 12 1-71 1 47 1 46 1-33 1 21 1-18 1-13 1 39 1-16 1 5 1 26 1-11 1-9 1-47 1-32 1 53 1 17 1-28 1 31 1 29 1-7 1-63 1 34 1 21 1-19 1-25 1 3 1 13 1 25 1 26 1-32 1-8 1 31 1-30 1-39 1-18 1 14 1 51 1-4 1-26 1-15 1-5 1 40 1-9 1-11 1 25 1-54 1-8 1 34 1-35 1 26 1 42 1 1 1 55 1-2 1-53 1 44 1 24 1-80 1-39 1 18 1 4 1 19 1 3 1-34 1-20 1 12 1 40 1-3 1-4 1 23 1-42 1 106 1-31 1-112 1 40 1 40 1-106 1 70 1 46 1-79 1 16 1 12 1 36 1 55 1-31 1-48 1-42 1 44 1 38 1-68 1-1 1 24 1 20 1 30 1-51 1 4 1 1 1-39 1 62 1-34 1-77 1 85 1 39 1-42 1 31 1 33 1-61 1-13 1 74 1-32 1-30 1 22 1-31 1 55 1-1 1-77 1 54 1-18 1-8 1 61 1-90 1 16 1 67 1-94 1-5 1 52 1 25 1 9 1-45 1 39 1-6 1-109 1 43 1 81 1-43 1-3 1 81 1-20 1-84 1 12 1-18 1 22 1 102 1-57 1-10 1 53 1-78 1 48 1 27 1-103 1 48 1 25 1-39 1-13 1-34 1 63 1-8 1-80 1 44 1 3 1 41 1 18 1-116 1 69 1 63 1-82 1 47 1 3 1-19 1 58 1-60 1-31 1 24 1-12 1 43 1 6 1-9 1 14 1-34 1 38 1 24 1-73 1 7 1 27 1-10 1 10 1-31 1 4 1 25 1-56 1 33 1 68 1-78 1 9 1 80 1-87 1-32 1 64 1-30 1 9 1 41 1-39 1-55 1-22 1 61 1 63 1 4 1 0 1-70 1-12 1 74 1-45 1-2 1 46 1-48 1 17 1-3 1-42 1 46 1-3 1-6 1 16 1-48 1 27 1 45 1-37 1-8 1 12 1-6 1-4 1 15 1-10 1-50 1 24 1 28 1-30 1 24 1 1 1-21 1 60 1 11 1-47 1 8 1 14 1-13 1-1 1 7 1-30 1-46 1 29 1 57 1-25 1-43 1 51 1 68 1-29 1-71 1-40 1 36 1 82 1-22 1-75 1 17 1 7 1-45 1 31 1 76 1 2 1-62 1-7 1 80 1 4 1-98 1 16 1 73 1-57 1-6 1 77 1-63 1-65 1 85 1 33 1-70 1-37 1 37 1 51 1-11 1-36 1-14 1-11 1 22 1 6 1-43 1 36 1 33 1-43 1 49 1 44 1-57 1-17 1-27 1-44 1 31 1 60 1 20 1-69 1-33 1 70 1 27 1 4 1-12 1-7 1 49 1-38 1-5 1 46 1-83 1-8 1 8 1-54 1 106 1 9 1-124 1 55 1 62 1-49 1-8 1 36 1-10 1 8 1 34 1-81 1-3 1 83 1-76 1 30 1 60 1-93 1 50 1 9 1-87 1 50 1-17 1-28 1 75 1 11 1-53 1-32 1 71 1 28 1-76 1-1 1 5 1 42 1 60 1-85 1-22 1 50 1 7 1 28 1-17 1-29 1-35 1-13 1 68 1-20 1-20 1 47 1-38 1-40 1-6 1 42 1 32 1-54 1-16 1-28 1 35 1 92 1-92 1-7 1 114 1-36 1-57 1-27 1 78 1 111 1-108 1-86 1 65 1 39 1-39 1-37 1 62 1-4 1-30 1 28 1-75 1 45 1 77 1-77 1 62 1-17 1-106 1 86 1 16 1-25 1-41 1-115 1 73 1 74 1-19 1 45 1-51 1-66 1 28 1 57 1 52 1-52 1-29 1 48 1 1 1-15 1-53 1-7 1 79 1-7 1-17 1 30 1-9 1 15 1-21 1-48 1 52 1 16 1-48 1 54 1 24 1-70 1-11 1 19 1 18 1 1 1-38 1 43 1 34 1-62 1 4 1 3 1-30 1 47 1 4 1-77 1-7 1 79 1-2 1-73 1 40 1 28 1-46 1 15 1-15 1-17 1 50 1 8 1-24 1-8 1 28 1-18 1-36 1 85 1 0 1-54 1 73 1-25 1-16 1 47 1-94 1 9 1 70 1-72 1 10 1 34 1-51 1 13 1 19 1-20 1 26 1 37 1-15 1-32 1 3 1 35 1 14 1-43 1-26 1 22 1 4 1-18 1-3 1 37 1 6 1-21 1 23 1-58 1-29 1 96 1-62 1-57 1 71 1-21 1 36 1 19 1-63 1 81 1 1 1-64 1 55 1-20 1-34 1-16 1-5 1 99 1-4 1-60 1 8 1-51 1 12 1 63 1 1 1 19 1-29 1-29 1 20 1-51 1-5 1 71 1-1 1-18 1 0 1-22 1-11 1 46 1 61 1-57 1-79 1 88 1 53 1-69 1 7 1-14 1-66 1 45 1 32 1-41 1 2 1 13 1 10 1 9 1-26 1-17 1 17 1 12 1-4 1-4 1-7 1-8 1 44 1-33 1 7 1 63 1-15 1-44 1-33 1-31 1 44 1 66 1-10 1-69 1 25 1 89 1-68 1-58 1 78 1 17 1-10 1-29 1-30 1 37 1-27 1-3 1 49 1-22 1 12 1-20 1-40 1 46 1 4 1-13 1-2 1 2 1 50 1-20 1-36 1 5 1-8 1 15 1-22 1-14 1 8 1-41 1 35 1 25 1 2 1 61 1-42 1-55 1-6 1 25 1 100 1-65 1-86 1 72 1-49 1-23 1 79 1-21 1 9 1 44 1 10 1-15 1-54 1 19 1 35 1-18 1 11 1-2 1-8 1 19 1-26 1-42 1 14 1 23 1-10 1 10 1-15 1-29 1 46 1 1 1-19 1 38 1-19 1 0 1 1 1-55 1 36 1 10 1-53 1 30 1 10 1-35 1 14 1 56 1 25 1-27 1 5 1 0 1-29 1 5 1-3 1 0 1-28 1-35 1 52 1 6 1-9 1 48 1-47 1-42 1 42 1 36 1 41 1-16 1-46 1 1 1 6 1 5 1-35 1-11 1 70 1-6 1-42 1 10 1-37 1-1 1 75 1-20 1-40 1 66 1 5 1-39 1-17 1-53 1 8 1 66 1-2 1-17 1 1 1-3 1-4 1-17 1 8 1 11 1 4 1 41 1 2 1-53 1-7 1 42 1-12 1-33 1 43 1-3 1-23 1 41 1-40 1-6 1 48 1-31 1 53 1-24 1-113 1 100 1 47 1-68 1-12 1-32 1 75 1 9 1-120 1 83 1 32 1-83 1 51 1-26 1-51 1 48 1 18 1 50 1-9 1-86 1 39 1 37 1-39 1 45 1 53 1-58 1-44 1 35 1-6 1 8 1 67 1-32 1-71 1-7 1-2 1 27 1-15 1-31 1 50 1-36 1-35 1 83 1-1 1 11 1 43 1-85 1-31 1 13 1-13 1 92 1 30 1-65 1 1 1 10 1 4 1-22 1-26 1 31 1-12 1-2 1 85 1-60 1-20 1 18 1 0 1 8 1-7 1-46 1-31 1 65 1 55 1-82 1-45 1 60 1 49 1-1 1-51 1-4 1 3 1-40 1 42 1 32 1-8 1 24 1-42 1-23 1 11 1-19 1 41 1 6 1-20 1 40 1-20 1-18 1-2 1-42 1 49 1 67 1-48 1-29 1 62 1-4 1-78 1 16 1 31 1-34 1-2 1 8 1 23 1-10 1-67 1 44 1 56 1-4 1 27 1-66 1-58 1 75 1 30 1-32 1-34 1 22 1 70 1-35 1-21 1 35 1-62 1-18 1 22 1-38 1 54 1 49 1-56 1-12 1 2 1 18 1 35 1-34 1 31 1 8 1-97 1 54 1 47 1-75 1 19 1-15 1-2 1 65 1-65 1 24 1 56 1-102 1 16 1-3 1-38 1 137 1-33 1-99 1 119 1 1 1-78 1 59 1-9 1-57 1 36 1 16 1-35 1 11 1 11 1-26 1-17 1 27 1 98 1 22 1-102 1-14 1 39 1-8 1-16 1-45 1 10 1 26 1-30 1 35 1 20 1-40 1-12 1-35 1 3 1 56 1 32 1 25 1-29 1-39 1 32 1 20 1-32 1-43 1 13 1 38 1-21 1 2 1 51 1-13 1-73 1 23 1 99 1-36 1-77 1 33 1 19 1 1 1-14 1-24 1 12 1-28 1 13 1 33 1-48 1 33 1-5 1-67 1 75 1 14 1-53 1 43 1 2 1-19 1 12 1 28 1 36 1-52 1-38 1 50 1 5 1-67 1-47 1 19 1 115 1-45 1-9 1 62 1-5 1-89 1-11 1 62 1-44 1 19 1 91 1-30 1 10 1 2 1-49 1 34 1-51 1-44 1 31 1-43 1 22 1 12 1 8 1 85 1-68 1-57 1 29 1 1 1 99 1-15 1-113 1 1 1-6 1 83 1 72 1-48 1 8 1-80 1-31 1 112 1-73 1-72 1 96 1 53 1-43 1-50 1 19 1-32 1-11 1 88 1-39 1 0 1 73 1-92 1-5 1 77 1-36 1-14 1 34 1 35 1-26 1-29 1 39 1-49 1-12 1 65 1-53 1-21 1 48 1-28 1-33 1 24 1 13 1-46 1 5 1 43 1-5 1 49 1-1 1-100 1-8 1 37 1 22 1 13 1 19 1 39 1-40 1-5 1 33 1-78 1 8 1 49 1-66 1-20 1 31 1 16 1 1 1 5 1 54 1 24 1-28 1-55 1-43 1 32 1 9 1-27 1 2 1 29 1 72 1-3 1-96 1-38 1 40 1 16 1-59 1 25 1 72 1-55 1 12 1 35 1-77 1 25 1 74 1-19 1-42 1 17 1 53 1-38 1 7 1 65 1-35 1 8 1-13 1-71 1 29 1-14 1-27 1 39 1 7 1-17 1-41 1 27 1 55 1-2 1 19 1-61 1-13 1 69 1-45 1 47 1-2 1-134 1 51 1 23 1 5 1 79 1-65 1-33 1-4 1 3 1 103 1-25 1-29 1-9 1-88 1 61 1 18 1-39 1 68 1-59 1-22 1 78 1-20 1 22 1-9 1-77 1 20 1 41 1 20 1-10 1-42 1 23 1 42 1 29 1 16 1-39 1-42 1-26 1 20 1 80 1-31 1-103 1 70 1 59 1-109 1-1 1 55 1-65 1-15 1 72 1 57 1-85 1-21 1 20 1 7 1-65 1 31 1 53 1 5 1 17 1 3 1-9 1 11 1 27 1-13 1-40 1 5 1-7 1-26 1-4 1 11 1 30 1 4 1 7 1 36 1-17 1-19 1-36 1 31 1-22 1-43 1 18 1-4 1 10 1 49 1-19 1-10 1-25 1-5 1 91 1-19 1-48 1 22 1-69 1-19 1 78 1 44 1 9 1-22 1-18 1-16 1 18 1-6 1-64 1 55 1 6 1-54 1 96 1-34 1-95 1 33 1 3 1 55 1-4 1-11 1 79 1-140 1-46 1 162 1-39 1-17 1 60 1-51 1-40 1 19 1 57 1-3 1 13 1 30 1-120 1-8 1 74 1-44 1 28 1-11 1-4 1 93 1-29 1-24 1-14 1-56 1 38 1 25 1 40 1-17 1-164 1-6 1 94 1 3 1-17 1-29 1 3 1 34 1 42 1 5 1-57 1 23 1 13 1-27 1 46 1-12 1-8 1 25 1-37 1 28 1 27 1-13 1 16 1-44 1 2 1 33 1-39 1 32 1 40 1-49 1-17 1 51 1-4 1-73 1 32 1 24 1-80 1 40 1 21 1-67 1 70 1 15 1-81 1 6 1-7 1-5 1 35 1 6 1 32 1 32 1-15 1-24 1-15 1 9 1 7 1 28 1 27 1-43 1-20 1-7 1-22 1 42 1-26 1-55 1 89 1 78 1-23 1-62 1-2 1 46 1-103 1-47 1 101 1-52 1-51 1 22 1 11 1 107 1-22 1-45 1 109 1-59 1-80 1 28 1-22 1 9 1-17 1 63 1 92 1-116 1 8 1 89 1-66 1 2 1 16 1 5 1 6 1-78 1 8 1-3 1-34 1 71 1-5 1-30 1 45 1 23 1-47 1-92 1 73 1 71 1-76 1 86 1 46 1-128 1 5 1 48 1-27 1-47 1 8 1 52 1-48 1 10 1 55 1-65 1 0 1 30 1 17 1 22 1-68 1 31 1 31 1-79 1 89 1 56 1-90 1 3 1-5 1-43 1-8 1 4 1 47 1 48 1 22 1-47 1-65 1 61 1 44 1-51 1-59 1-55 1 64 1 74 1-87 1-28 1 75 1 5 1-44 1-6 1 64 1 22 1-51 1 13 1 7 1-29 1 36 1 6 1-16 1 6 1-39 1 28 1 51 1-59 1-4 1 51 1-16 1-27 1-27 1 9 1 42 1 0 1-18 1-19 1 19 1 34 1-23 1-7 1-3 1-23 1 34 1 16 1-6 1 23 1-17 1-23 1-34 1-50 1 36 1 14 1-11 1 107 1-37 1-182 1 79 1 119 1-61 1 14 1-28 1-51 1 112 1-21 1-76 1 62 1-25 1-7 1 44 1-5 1 73 1-25 1-108 1 55 1 36 1-22 1 13 1-16 1 3 1 9 1-28 1-8 1 14 1 10 1-2 1 5 1-11 1-8 1 31 1-17 1-17 1-19 1 52 1-66 1-27 1 45 1 32 1-56 1-6 1 45 1-7 1-33 1-3 1 88 1 10 1-90 1 49 1 15 1-47 1 73 1-19 1-74 1 20 1 18 1 39 1-17 1-44 1 34 1-16 1-13 1 37 1 4 1 24 1-8 1-50 1 9 1 10 1-27 1 11 1 64 1 5 1-60 1-7 1-22 1-15 1 67 1-16 1-67 1 23 1 31 1 8 1 2 1-30 1-12 1 54 1 35 1-47 1-68 1 77 1 55 1-43 1-6 1 2 1-25 1-3 1 17 1 50 1 3 1-76 1 0 1 23 1-41 1 0 1 14 1 12 1 47 1-39 1-68 1 33 1 52 1-12 1-20 1 38 1-1 1-23 1 61 1-20 1-53 1 49 1-22 1-42 1 3 1-12 1 50 1 19 1-24 1-25 1-56 1 78 1 29 1-107 1 75 1 43 1-86 1 12 1 1 1 20 1 34 1-16 1 43 1-42 1-62 1 45 1-36 1 8 1 61 1-28 1 11 1-15 1-3 1 99 1-43 1-68 1 81 1-8 1-72 1 6 1 6 1 3 1 1 1-15 1 35 1 13 1-54 1 0 1 12 1-11 1 32 1-15 1-15 1 54 1-17 1-35 1 17 1 10 1 1 1-56 1-31 1 101 1-25 1-43 1 40 1 14 1 28 1-3 1-62 1 13 1 30 1-28 1-12 1 35 1 36 1-15 1-36 1-8 1-9 1-13 1 11 1 12 1 7 1 33 1 8 1-32 1 18 1 15 1-27 1 4 1-25 1-25 1 34 1-5 1 22 1 39 1-58 1-7 1 14 1-61 1 67 1 90 1-98 1-61 1 65 1 1 1-34 1 31 1 17 1-20 1 14 1-9 1-49 1 22 1 20 1-40 1 33 1 36 1-48 1-12 1 8 1 8 1 33 1-2 1 13 1 13 1-49 1-18 1-12 1 13 1 62 1-28 1 4 1 66 1-57 1-27 1 28 1-48 1 3 1 23 1-23 1 21 1 32 1-3 1 3 1 12 1-32 1-37 1 41 1 0 1-48 1 18 1-15 1-4 1 44 1-55 1-22 1 72 1 20 1 13 1 3 1-38 1 1 1 18 1-14 1-28 1 18 1 36 1-51 1-40 1 74 1 25 1-69 1-18 1 29 1 11 1 9 1-15 1 0 1 35 1-30 1 8 1 99 1-39 1-105 1 29 1 36 1-14 1 9 1-7 1-45 1-12 1 50 1 18 1-21 1 7 1-6 1-8 1 0 1-5 1 17 1-37 1-36 1 75 1 52 1-8 1-26 1-29 1 38 1-9 1-75 1 28 1 55 1-9 1-32 1-40 1-10 1 4 1 43 1 68 1-43 1-47 1 48 1 20 1 0 1-6 1-38 1-7 1 20 1 20 1-9 1-18 1 31 1-6 1-39 1 24 1-3 1-60 1 0 1 91 1 33 1-82 1-16 1 32 1-16 1 4 1-31 1-14 1 60 1-8 1 42 1 65 1-90 1-33 1 22 1-47 1 25 1 41 1 11 1-4 1-51 1 3 1 12 1-20 1 50 1 33 1-32 1-21 1-10 1-5 1-14 1 5 1 34 1 9 1-15 1-9 1-11 1-37 1 13 1 50 1-45 1 2 1 60 1-59 1-1 1 70 1-9 1-3 1-38 1-13 1 79 1-2 1-13 1-10 1-70 1 29 1 37 1-36 1 32 1 22 1-39 1-9 1 10 1-6 1-23 1-7 1 32 1-4 1-48 1 17 1 41 1-19 1 11 1 14 1-31 1 26 1 3 1-21 1 48 1-32 1-58 1 36 1 7 1-23 1 1 1 28 1 46 1-11 1-28 1-2 1-31 1-22 1 22 1 60 1 24 1-54 1-22 1 11 1-21 1 18 1 55 1 22 1-7 1-35 1-60 1 3 1 47 1-49 1-15 1 98 1-16 1-54 1 69 1-4 1-64 1 27 1-18 1-51 1 64 1 42 1-54 1-2 1 20 1-2 1 37 1 6 1-32 1-17 1-14 1 3 1-3 1 21 1 50 1-76 1-83 1 77 1 52 1-34 1-10 1 0 1 20 1 11 1-55 1 2 1 53 1-51 1-19 1 61 1-7 1 21 1 34 1-33 1 9 1-28 1-11 1 72 1-66 1-40 1 98 1 2 1-13 1 23 1-24 1-27 1-31 1 13 1 4 1-31 1 43 1-6 1-60 1 0 1 3 1 21 1 3 1 18 1 70 1-41 1-40 1 34 1-10 1 55 1-16 1-107 1 74 1 35 1-80 1 55 1 16 1-52 1 36 1-37 1-56 1 80 1 1 1-85 1 55 1 77 1-33 1-27 1 31 1 39 1-34 1-83 1 8 1 43 1-8 1 11 1-1 1-25 1 21 1-8 1-11 1 50 1-25 1-29 1 62 1-47 1-84 1 67 1 72 1 11 1-13 1-37 1 14 1 37 1-8 1-47 1-22 1 35 1-9 1-1 1 37 1-64 1-28 1 44 1-12 1 27 1 5 1-35 1 28 1 5 1 25 1 2 1-62 1 26 1-10 1-35 1 40 1-20 1 33 1 26 1-75 1 26 1-3 1 0 1 89 1-85 1-38 1 66 1-74 1 35 1 68 1-105 1 59 1 15 1 1 1 36 1-45 1-1 1 13 1-30 1 40 1-19 1-38 1 21 1-41 1 37 1 74 1-55 1-7 1 14 1-51 1 7 1 38 1 16 1-20 1-27 1 45 1 22 1-23 1-15 1-52 1 42 1 118 1-81 1-121 1 83 1 40 1-90 1 13 1 57 1 10 1 20 1-53 1-26 1 96 1-25 1-89 1 33 1 16 1-15 1 9 1-24 1-19 1 40 1 57 1-35 1-50 1 54 1 8 1-42 1 28 1 14 1-7 1-29 1-37 1 54 1 32 1-27 1 21 1-7 1-23 1 31 1 26 1-22 1-44 1 7 1 26 1-22 1 12 1-5 1-67 1 28 1 44 1-51 1 5 1 14 1-29 1 55 1 44 1-40 1-30 1-19 1 17 1 14 1-4 1 60 1-21 1-62 1 71 1 9 1-42 1 35 1-31 1-7 1 42 1-62 1-31 1 56 1 8 1-24 1 22 1 16 1-67 1-17 1 72 1-11 1-34 1 40 1 32 1-15 1-41 1 2 1 14 1-40 1 6 1 36 1-14 1 30 1 44 1-51 1-38 1 32 1-16 1-28 1 46 1 18 1-42 1 2 1 49 1-5 1-61 1 11 1 38 1-15 1 16 1 0 1-30 1 21 1-32 1-33 1 78 1 49 1-37 1-58 1-13 1 22 1-15 1-11 1-25 1 9 1 99 1-23 1-56 1 79 1-13 1-38 1 33 1-43 1 23 1 28 1-99 1 43 1 93 1-53 1 1 1 4 1-31 1 51 1-30 1-65 1 37 1-8 1 0 1 34 1-16 1 16 1-2 1-12 1 17 1-47 1-1 1 36 1-6 1 32 1-29 1-12 1 61 1-62 1-12 1 68 1-24 1 19 1-12 1-62 1 47 1 12 1-39 1 9 1 12 1-3 1-39 1-3 1 28 1-4 1 42 1-4 1-62 1 33 1 33 1 1 1 11 1-37 1-37 1 0 1 28 1 8 1-59 1 1 1 59 1 31 1 10 1-53 1 10 1 97 1-53 1-87 1 33 1 8 1-5 1 19 1-13 1-9 1 27 1 38 1-15 1-43 1 6 1-9 1-17 1 26 1 19 1 7 1-8 1-21 1-13 1 5 1 38 1-30 1-32 1 66 1-52 1-70 1 61 1-13 1 29 1 75 1-53 1-13 1 10 1-22 1 36 1-1 1-29 1-10 1 27 1 40 1-59 1-1 1 35 1-64 1 21 1 28 1-27 1 16 1-9 1 38 1-1 1-50 1 81 1-30 1-73 1 78 1-19 1-5 1 41 1-80 1 3 1 60 1-39 1-32 1 26 1 32 1-7 1-14 1-41 1-21 1 82 1 7 1-18 1 70 1-22 1-38 1-6 1-42 1 35 1 6 1-57 1 20 1 45 1 21 1-20 1-27 1-4 1-11 1 26 1 16 1-6 1 4 1-56 1 12 1 70 1-28 1-24 1-16 1-8 1 61 1-1 1-26 1 27 1-15 1-30 1-2 1-10 1-18 1 24 1 42 1-3 1 3 1 0 1-38 1 1 1 24 1 16 1 3 1-37 1-11 1 33 1 15 1-24 1 8 1 47 1-41 1-40 1 39 1-8 1-1 1 14 1-12 1 23 1-49 1-39 1 83 1 10 1-36 1 7 1-4 1-5 1-22 1 16 1 32 1-42 1-4 1 35 1 4 1 11 1-29 1-34 1 30 1 25 1-38 1-36 1 56 1 59 1-25 1-37 1-45 1-12 1 54 1 3 1 1 1 48 1-2 1-20 1-1 1-32 1-21 1 43 1 33 1-48 1-28 1 32 1-7 1 8 1 35 1-42 1-9 1 56 1-17 1-34 1-6 1-6 1 28 1-12 1-28 1 33 1-18 1-18 1 42 1-39 1-6 1 85 1-25 1-36 1 36 1-16 1 36 1 37 1-108 1-20 1 80 1-26 1-31 1 14 1-22 1 2 1 59 1 22 1-56 1 4 1 47 1-77 1-30 1 82 1 11 1-4 1 10 1-7 1-23 1-63 1 47 1 38 1-84 1 68 1 37 1-104 1 54 1 37 1-43 1 29 1-19 1-12 1 3 1-35 1 29 1 6 1-15 1 31 1 1 1 10 1 1 1-28 1-4 1 10 1 36 1-26 1-86 1 50 1 69 1-40 1 5 1 38 1-28 1-20 1 23 1-1 1-10 1 5 1-34 1-19 1 43 1 4 1-31 1 25 1 21 1-42 1 3 1 56 1-25 1-37 1 14 1-7 1-11 1-11 1 10 1 48 1-5 1-13 1 0 1-21 1 47 1 2 1-67 1 59 1 34 1-92 1 7 1 51 1-57 1-31 1 39 1 30 1 31 1 3 1-30 1-4 1-9 1 7 1 27 1-8 1-2 1 0 1-8 1-7 1-47 1 67 1-12 1-32 1 27 1 29 1-41 1 22 1-15 1-64 1 54 1 48 1-48 1-1 1 26 1-19 1 16 1 17 1-42 1 8 1 9 1-47 1 6 1 26 1 12 1-10 1-37 1 22 1 22 1 6 1 22 1-21 1 12 1-2 1-55 1 45 1 25 1-34 1 17 1-10 1-9 1-2 1-21 1 19 1-2 1 29 1 46 1-41 1-13 1-5 1-41 1 26 1 37 1 5 1-27 1-54 1 8 1 46 1 9 1-41 1-37 1 40 1 53 1 16 1-13 1-37 1 0 1 12 1-10 1 4 1-16 1-13 1 18 1 16 1 4 1-25 1-12 1 33 1-13 1-42 1 30 1 59 1-5 1-8 1 16 1-35 1 13 1 54 1-100 1-75 1 109 1 17 1-55 1 42 1-12 1-8 1 54 1-56 1-39 1 23 1-36 1 12 1 23 1 5 1 47 1-27 1-29 1 30 1 18 1 38 1-25 1-22 1 40 1-44 1-8 1 34 1-8 1 19 1-72 1-19 1 82 1-91 1-9 1 124 1-44 1-48 1 22 1 6 1 27 1 14 1-7 1-38 1-41 1-3 1 13 1 36 1 9 1 3 1 5 1-8 1 69 1-30 1-87 1 108 1 10 1-121 1 8 1 15 1 25 1 32 1-44 1-30 1-25 1 30 1 69 1-21 1-6 1 21 1-27 1-11 1-14 1-12 1 49 1 54 1-11 1-38 1-14 1-18 1-13 1 10 1 19 1 47 1-20 1-90 1 1 1 63 1 17 1-27 1-4 1 14 1-22 1 22 1 31 1-55 1 7 1 45 1-30 1 8 1 19 1-42 1-32 1 11 1 57 1 39 1-78 1-30 1 106 1-42 1-79 1 133 1 11 1-93 1 49 1-58 1-32 1 117 1-62 1-66 1 67 1-6 1-12 1 17 1 18 1 1 1-71 1 10 1 86 1-36 1-56 1 48 1 32 1-42 1-1 1 23 1-57 1 2 1 100 1-17 1-77 1 39 1 4 1-84 1 44 1 72 1-44 1 15 1 24 1-60 1-15 1-8 1 4 1 83 1 51 1-35 1-89 1-55 1 57 1 102 1 36 1-91 1-63 1 66 1-5 1-23 1 58 1-39 1-51 1 66 1 15 1-61 1 4 1 13 1-51 1 24 1 48 1-51 1 38 1 55 1-91 1 6 1 80 1-52 1-29 1 47 1 10 1-13 1-28 1-23 1 31 1 34 1-27 1-26 1 49 1 34 1-48 1-36 1 20 1 38 1-8 1-86 1 3 1 115 1-22 1-93 1-17 1 1 1 57 1-4 1-68 1 112 1 73 1-81 1 4 1-12 1-11 1 55 1-53 1-46 1 40 1 12 1-24 1-24 1 48 1 18 1-49 1 24 1-5 1-4 1 56 1-38 1-2 1 37 1-43 1 49 1 10 1-87 1 72 1 53 1-95 1-24 1 16 1-13 1 24 1-5 1-22 1 65 1 41 1-69 1-52 1 14 1-4 1-57 1-17 1 79 1 44 1 1 1 35 1-42 1-81 1 22 1 42 1-30 1-42 1 19 1 43 1-1 1-4 1 46 1 33 1-60 1-40 1 85 1 57 1-18 1-47 1-66 1 10 1-11 1-63 1 77 1 42 1-44 1 70 1 5 1-79 1 19 1 23 1-22 1-29 1-1 1 22 1-21 1 1 1 13 1-8 1 70 1 37 1-52 1-18 1 14 1 30 1-4 1-57 1-25 1-6 1 13 1 25 1 16 1 48 1-28 1-71 1 30 1-4 1-27 1 44 1-40 1-62 1 73 1 35 1-94 1-3 1 86 1-45 1-37 1 73 1-19 1-13 1 63 1-38 1-36 1 67 1 33 1-20 1-8 1-19 1-27 1 59 1 25 1-98 1 37 1 69 1-114 1-7 1 119 1 21 1-32 1-41 1-21 1 21 1 2 1-41 1-27 1 78 1 48 1-106 1-41 1 64 1-6 1-61 1 31 1 99 1-36 1-95 1 28 1 52 1 33 1-12 1-68 1-21 1 32 1 70 1-28 1-105 1 75 1 28 1-57 1 120 1 11 1-94 1 10 1-18 1 22 1-5 1-35 1 79 1-71 1-52 1 149 1-18 1-53 1 16 1-58 1 42 1 39 1-30 1-5 1-95 1 20 1 74 1-40 1 20 1 117 1-93 1-21 1 91 1-71 1-39 1 83 1-8 1-49 1-8 1-13 1 50 1 40 1-104 1-53 1 88 1 35 1-23 1-13 1-1 1 18 1-32 1-34 1 38 1 6 1 12 1 18 1-54 1 23 1 39 1-39 1 57 1 7 1-69 1 112 1 54 1-169 1-95 1 41 1 61 1 30 1-20 1-6 1 9 1-19 1 3 1 38 1-7 1-30 1 26 1 34 1 17 1-20 1-85 1 37 1 97 1-91 1-61 1 57 1-16 1 16 1 50 1-35 1-30 1-1 1-6 1 15 1-5 1-25 1 40 1 56 1-47 1-45 1 25 1 27 1 11 1-43 1 5 1 38 1-93 1 23 1 86 1-94 1 64 1 81 1-105 1 65 1-5 1-108 1 100 1-42 1-66 1 159 1-25 1-102 1 13 1-50 1 32 1 100 1-22 1-20 1 11 1-25 1 5 1 9 1-9 1 35 1-12 1-59 1 24 1 14 1-21 1 26 1-20 1-34 1 20 1 11 1 25 1-15 1-42 1 51 1 3 1-73 1 46 1 62 1-40 1-7 1 11 1-34 1-5 1-15 1 22 1 80 1-89 1-57 1 154 1-23 1-97 1 60 1-29 1-40 1 59 1 40 1 9 1-18 1 46 1 23 1-96 1-26 1 10 1 0 1 27 1-17 1 32 1-7 1-60 1 76 1-11 1-83 1 71 1 5 1-77 1 20 1 61 1 28 1-31 1-43 1-37 1 0 1 51 1-10 1-2 1 62 1-8 1-20 1 27 1-11 1-22 1 32 1-30 1-85 1 61 1 62 1-55 1 14 1-23 1-42 1 67 1 1 1 3 1 43 1-35 1-26 1-23 1-10 1 13 1 15 1 45 1-56 1-10 1 72 1-98 1 4 1 103 1-55 1 29 1 38 1-65 1-14 1 13 1 38 1-43 1-34 1 104 1-17 1-49 1 22 1-18 1 29 1-20 1-15 1 49 1-51 1 20 1 37 1-35 1 23 1-65 1-13 1 63 1-73 1 16 1 46 1-29 1 19 1-22 1 39 1 17 1-86 1 60 1 12 1-57 1 48 1-38 1-3 1 61 1-35 1 0 1 8 1-7 1 17 1-22 1-5 1-12 1 10 1 51 1-24 1 5 1 15 1-32 1 17 1-30 1 7 1 99 1-25 1-54 1-20 1-44 1 46 1 58 1-27 1-42 1-4 1 30 1-15 1-15 1 17 1-26 1 21 1 34 1-31 1 1 1-21 1-27 1 52 1 12 1-36 1-1 1 27 1 12 1-19 1 23 1-1 1-55 1 42 1 32 1-49 1-4 1 20 1 20 1-13 1-10 1 74 1-38 1-121 1 49 1 87 1-28 1-56 1 41 1 56 1-85 1-22 1 84 1-47 1-29 1 50 1-12 1-2 1 13 1 16 1 12 1-45 1-5 1 12 1-29 1 15 1 0 1-28 1 30 1 24 1-16 1 1 1 6 1-33 1-19 1 50 1 38 1-25 1-41 1-10 1 39 1 32 1-20 1-27 1 9 1 9 1-40 1 5 1 64 1-6 1-33 1 15 1 14 1-16 1-18 1 35 1-11 1-91 1 33 1 70 1-41 1 18 1 42 1-45 1-29 1-17 1 11 1 56 1-26 1-37 1 39 1-8 1-5 1 43 1-15 1-3 1 28 1-15 1-14 1-8 1 17 1 15 1-56 1-9 1 22 1-14 1 22 1-16 1 1 1 56 1-34 1-3 1 28 1-57 1-12 1 17 1 8 1 22 1-5 1 25 1 4 1-16 1 11 1-72 1-23 1 83 1 1 1-36 1-1 1 1 1-17 1-15 1 31 1-4 1 4 1 64 1 5 1-11 1-37 1-50 1 73 1 22 1-65 1 22 1 5 1-29 1 26 1 18 1-19 1-5 1 21 1-9 1-6 1 1 1-9 1 47 1-30 1-60 1 101 1 23 1-79 1-18 1-31 1 29 1 10 1-48 1 63 1 9 1-67 1-3 1 3 1 44 1 30 1-4 1 25 1-66 1-44 1 77 1 34 1-17 1-31 1-2 1 38 1-18 1-24 1 22 1 12 1-32 1-18 1 58 1 9 1-51 1 18 1-1 1-35 1-3 1 22 1 24 1-33 1 18 1 41 1-61 1 32 1 37 1-91 1 21 1 43 1-31 1 1 1-16 1 42 1 35 1-50 1 22 1-16 1-25 1 73 1-49 1-44 1 72 1-46 1-39 1 44 1-19 1-4 1 37 1 17 1-11 1-26 1-3 1-10 1 24 1 65 1-38 1-70 1 7 1 21 1 10 1-31 1-4 1 68 1-18 1-35 1 60 1 5 1-25 1 38 1-15 1-61 1 0 1 2 1-12 1 41 1 23 1-23 1 7 1 3 1-24 1-31 1-5 1 67 1 23 1-43 1 18 1-11 1-36 1 31 1 5 1-34 1-23 1 30 1 51 1-45 1-24 1 54 1-8 1-30 1 13 1 45 1 22 1-52 1-15 1-9 1-51 1 36 1 44 1-5 1-14 1-101 1 111 1 20 1-34 1 34 1-21 1-39 1 67 1 17 1-16 1-18 1-80 1 13 1 82 1-44 1-58 1 74 1 46 1-53 1 16 1 29 1-74 1-16 1 59 1-11 1-35 1-22 1 73 1 25 1-44 1-20 1 44 1-12 1-17 1 47 1-18 1-46 1 60 1 39 1-71 1-54 1 48 1 54 1-30 1 3 1 30 1-71 1-29 1 36 1-24 1 8 1 26 1-17 1 0 1-21 1-10 1 61 1 16 1-57 1-11 1 21 1-40 1-1 1 73 1 11 1 22 1 24 1-65 1 11 1 51 1-15 1-12 1-45 1 4 1 33 1-43 1 22 1-34 1-60 1 153 1 23 1-123 1 45 1-18 1-48 1 58 1-44 1-21 1 62 1-16 1 5 1 10 1-31 1 26 1 7 1-13 1 38 1-20 1-19 1 71 1-24 1-72 1 30 1-31 1-42 1 63 1-2 1-1 1 49 1-54 1-44 1 30 1 24 1 3 1-36 1 46 1 99 1-23 1-33 1-24 1-55 1 52 1 57 1-56 1-18 1 54 1-31 1-86 1 75 1 80 1-118 1-23 1 103 1-25 1-36 1 37 1-1 1-48 1-22 1 21 1-21 1-2 1 51 1-53 1-23 1 88 1-25 1-36 1 27 1-26 1 50 1 43 1-111 1 23 1 99 1-107 1-48 1 85 1 0 1 25 1 23 1-46 1 35 1 13 1-21 1 43 1-41 1-49 1 46 1 17 1-16 1-37 1-3 1 50 1-18 1-19 1 4 1-33 1 4 1 23 1 3 1-20 1-17 1 68 1 0 1-78 1 45 1 42 1 9 1 60 1-43 1-103 1-49 1 11 1 123 1 56 1-116 1-69 1 36 1 51 1-17 1-52 1 36 1 3 1 12 1 127 1-73 1-98 1 166 1-53 1-161 1 105 1 11 1-56 1 46 1-3 1 28 1-42 1-62 1 127 1-19 1-98 1 134 1 31 1-143 1-7 1 81 1-31 1-52 1 60 1 24 1-4 1 47 1-81 1-61 1 84 1-1 1-31 1 5 1-7 1 34 1-2 1-7 1 44 1-30 1-34 1 55 1 51 1-28 1-49 1 12 1-25 1-36 1 54 1-20 1-55 1 67 1 48 1-22 1-81 1-92 1 51 1 48 1-1 1 89 1-13 1-74 1 41 1-7 1 0 1 9 1-84 1 56 1 65 1-74 1 53 1 26 1-65 1 20 1-24 1 12 1 52 1-51 1 41 1 34 1-83 1 41 1 69 1-43 1-80 1-58 1 10 1 38 1 81 1 62 1-55 1-22 1-19 1-76 1 40 1 44 1-2 1 29 1-69 1-23 1 115 1-20 1-76 1 35 1-5 1-24 1 41 1-23 1-48 1 41 1 34 1 9 1 15 1-63 1-47 1 28 1-26 1 15 1 76 1-17 1-8 1-4 1-80 1 36 1 80 1-45 1 3 1 47 1-11 1 16 1 18 1-10 1-2 1-22 1-19 1-7 1-38 1-29 1 29 1 39 1-9 1-16 1 27 1 57 1 10 1-56 1 6 1 5 1-52 1 32 1 4 1-53 1 1 1-58 1 22 1 103 1-19 1 23 1-10 1-70 1 80 1 6 1-29 1 52 1-80 1-35 1 43 1-8 1 54 1-4 1-25 1 40 1-56 1-26 1 34 1-12 1 45 1 8 1-97 1-19 1 74 1 36 1-3 1-6 1-30 1 27 1 23 1-69 1 21 1 6 1-70 1 81 1 31 1-62 1 53 1-7 1-36 1 44 1 9 1-17 1-25 1-1 1 5 1-14 1 18 1-45 1-39 1 36 1-26 1 27 1 31 1-53 1 55 1 31 1-43 1 46 1 14 1-25 1 7 1 12 1 22 1-32 1-21 1 50 1 4 1-44 1-40 1 4 1-1 1-31 1 59 1 2 1-88 1 63 1 38 1-52 1 63 1 30 1-63 1-58 1-15 1 92 1 21 1-87 1 22 1 53 1-14 1-38 1-11 1 57 1-16 1-47 1 20 1-13 1 60 1 23 1-92 1 85 1 14 1-108 1 132 1 29 1-142 1 13 1 12 1 0 1 29 1 7 1 18 1-68 1-5 1 86 1-43 1-40 1-18 1-23 1 55 1-22 1-40 1 20 1 20 1 91 1 16 1-79 1-18 1-9 1 37 1 27 1-46 1 13 1 1 1 5 1 49 1-29 1-31 1-3 1 8 1 31 1-56 1-25 1 83 1-13 1-48 1 56 1 18 1-72 1-14 1 34 1 0 1 25 1-20 1-49 1 62 1 1 1-41 1 78 1-24 1-78 1 49 1 6 1-14 1 12 1-21 1 39 1 15 1-65 1 24 1 32 1-49 1 10 1 46 1-1 1-11 1-28 1-7 1 45 1-12 1-30 1 23 1-12 1 3 1 21 1-69 1-18 1 67 1 23 1 25 1-14 1-78 1 3 1 36 1-3 1-6 1-23 1 12 1 30 1-28 1-9 1 23 1 16 1 9 1-35 1-13 1 40 1 11 1 7 1-11 1-13 1 36 1-26 1-45 1 32 1 19 1 18 1-17 1-53 1 39 1 22 1-26 1 2 1-52 1-11 1 59 1-4 1 11 1 17 1-34 1-15 1 21 1 38 1-28 1-38 1 52 1-4 1-23 1 22 1-40 1 11 1 23 1-37 1 29 1-40 1-22 1 116 1-21 1-44 1 34 1-53 1 16 1 32 1-56 1 13 1 0 1 11 1 59 1-40 1-31 1 18 1-1 1 32 1 12 1-18 1-27 1-19 1 21 1-38 1-11 1 88 1 26 1-11 1-18 1-37 1 0 1-37 1-5 1 69 1-6 1-24 1-3 1 6 1 50 1-14 1-34 1 20 1-15 1-14 1 14 1 14 1 18 1-32 1-35 1 7 1-2 1 18 1 34 1 4 1-12 1-20 1-26 1-3 1 40 1 27 1-47 1-40 1 39 1 46 1-11 1-4 1 3 1-73 1-38 1 66 1 47 1 28 1-4 1-69 1 11 1 44 1-33 1 3 1 15 1-24 1 12 1 12 1-17 1-12 1 7 1 56 1 7 1-76 1 4 1 32 1-45 1 13 1 37 1-52 1 9 1 73 1-40 1-31 1 52 1-48 1-45 1 73 1 10 1-20 1 34 1-30 1-54 1-5 1 17 1 15 1 5 1 53 1 26 1-61 1-9 1 10 1-23 1 9 1-9 1 17 1 43 1-25 1 1 1-6 1-53 1 30 1 17 1-42 1 39 1 33 1-35 1 4 1 10 1-41 1-6 1 37 1-1 1-16 1 4 1 14 1 17 1-14 1-8 1 34 1 13 1-36 1-46 1 6 1 44 1-2 1-21 1-5 1-5 1 34 1 32 1-28 1-24 1 2 1-22 1-23 1 23 1 45 1 9 1-33 1 2 1 36 1-33 1-25 1 35 1-46 1-42 1 46 1 8 1 19 1 42 1-12 1-24 1-15 1 33 1 6 1-67 1 51 1 49 1-69 1 28 1 18 1-63 1 29 1 9 1-48 1 16 1 6 1 1 1 43 1 3 1-51 1-20 1 40 1 29 1-21 1-8 1 26 1-20 1-60 1 9 1 67 1-7 1-54 1 24 1 34 1-6 1 26 1 5 1-27 1-6 1-16 1-2 1-14 1-25 1 32 1-19 1-23 1 52 1-9 1 28 1 43 1-91 1-19 1 59 1-12 1-7 1 4 1 9 1-14 1-11 1 77 1-1 1-79 1 23 1 8 1-30 1 39 1 27 1-22 1 11 1 5 1-57 1 20 1 59 1-55 1-37 1 9 1-10 1 28 1 3 1-5 1 16 1-33 1 8 1 29 1-25 1-5 1 17 1 3 1-20 1 2 1 31 1-6 1 3 1 0 1-8 1 31 1-3 1 17 1 14 1-83 1-11 1 26 1-34 1 31 1 32 1-44 1-40 1 33 1 55 1-19 1-9 1 8 1-15 1 29 1-18 1-50 1 25 1 0 1-16 1 19 1 7 1 12 1 43 1 10 1-64 1 6 1 52 1-31 1 27 1 9 1-116 1-2 1 97 1 55 1-39 1-73 1 68 1-8 1-123 1 71 1 39 1-98 1 45 1 76 1-29 1-4 1 4 1-50 1 27 1 55 1-77 1-18 1 65 1-31 1 17 1 55 1-61 1-52 1 49 1 50 1-44 1-40 1 24 1 24 1 38 1-47 1-50 1 64 1-57 1-21 1 120 1-37 1 2 1 72 1-106 1-68 1 45 1 11 1-7 1 24 1 56 1-4 1-34 1-12 1-8 1 45 1 8 1-21 1 12 1-50 1 2 1 40 1-58 1 24 1 108 1-107 1-49 1 55 1 48 1-29 1-18 1-12 1-44 1 43 1 37 1-49 1 18 1 22 1-24 1 28 1-2 1-65 1 10 1 55 1-17 1-4 1 46 1-15 1-32 1 1 1-21 1 56 1 18 1-19 1 15 1-31 1-14 1-1 1-34 1-2 1 16 1-3 1 47 1 11 1-81 1-22 1 49 1 12 1 21 1 11 1-31 1 19 1-29 1-34 1 94 1-13 1-59 1 84 1 8 1-48 1-11 1-47 1 21 1 58 1 2 1-18 1-28 1 22 1 28 1-58 1-19 1 43 1-14 1-3 1 24 1-75 1-13 1 132 1-18 1-89 1 46 1 9 1-28 1 22 1 16 1 1 1-15 1 39 1 15 1-101 1-26 1 40 1 4 1 59 1 19 1-56 1 9 1 35 1-30 1-37 1 40 1 24 1-51 1-23 1 11 1 49 1 54 1-49 1-46 1 16 1-24 1-33 1 27 1 42 1 4 1 11 1 1 1-42 1 19 1 7 1-45 1 40 1 8 1-47 1 36 1-13 1-51 1 38 1 58 1 29 1-44 1-60 1 17 1 8 1-19 1 23 1 50 1 9 1-36 1 4 1-31 1-27 1 110 1-11 1-106 1 59 1 24 1-20 1 47 1-8 1-1 1-32 1-58 1 62 1 0 1-46 1 13 1-33 1 25 1 17 1-63 1 41 1 13 1-34 1 69 1 29 1-51 1-36 1 21 1-23 1-49 1 127 1-3 1-171 1 99 1 73 1-69 1 61 1-29 1-20 1 94 1-38 1-50 1-17 1 11 1 74 1 1 1 34 1 24 1-114 1-34 1 15 1-7 1 57 1-2 1-60 1-6 1 15 1-10 1-22 1 11 1 9 1 6 1 39 1-11 1-15 1 33 1-33 1-23 1 64 1 10 1-44 1-2 1-11 1-14 1 33 1 25 1 23 1-21 1-74 1 38 1 74 1-15 1-37 1-66 1 30 1 95 1-52 1-29 1 18 1-39 1 28 1 5 1-28 1 21 1-23 1 12 1 27 1-22 1 31 1-19 1-55 1 35 1 21 1-2 1 6 1-6 1 11 1 4 1 4 1 4 1-16 1-5 1-2 1 13 1-5 1-29 1 34 1 13 1-61 1-11 1 29 1 3 1-9 1 27 1 20 1-37 1 16 1 13 1-69 1-4 1 4 1 25 1 109 1-61 1-65 1 102 1-33 1-39 1 38 1-39 1 60 1 25 1-83 1 28 1-25 1-40 1 64 1 11 1 39 1-4 1-105 1 21 1 26 1-65 1 28 1 65 1-31 1-27 1 79 1 20 1-38 1 0 1-92 1-10 1 93 1-70 1 20 1 86 1-90 1-2 1 57 1-44 1-25 1 13 1 32 1-13 1-21 1 9 1-23 1 40 1 19 1-32 1 37 1 2 1 31 1 22 1-78 1 25 1-18 1-72 1 85 1 19 1-52 1 18 1 8 1 6 1-9 1 16 1 27 1-20 1 1 1-15 1 8 1 26 1-44 1-7 1-21 1 0 1 78 1-73 1-77 1 76 1 38 1-15 1-14 1 23 1-37 1-63 1 103 1 37 1-49 1 39 1-58 1-33 1 49 1-41 1 2 1 37 1 29 1 20 1-47 1 17 1 9 1-37 1 45 1-34 1-43 1 65 1-22 1-32 1 8 1 20 1 27 1 26 1-65 1-16 1 43 1-23 1-2 1 14 1-28 1 52 1 29 1-56 1 7 1 8 1-5 1-21 1-43 1 68 1 42 1-37 1 33 1-9 1-42 1 14 1 13 1-22 1-76 1-1 1 80 1 9 1-14 1-5 1 2 1 15 1-17 1-12 1-20 1 4" fill="none" stroke="#3182bd" stroke-width="0.5" stroke-linejoin="round" vector-effect="non-scaling-stroke"/>
<path transform="translate(334.70 147.47) scale(0.11537 0.07312)" d="M0-19l1 17 1 22 1 19 1 10 1-1 1-13 1-21 1-25 1-26 1-20 1-9 1 1 1 8 1 6 1-3 1-13 1-14 1-5 1 14 1 32 1 42 1 36 1 20 1 4 1-4 1-3 1 7 1 14 1 15 1 7 1-7 1-18 1-23 1-23 1-15 1-6 1 3 1 9 1 9 1 4 1-3 1-10 1-14 1-12 1-5 1 0 1 4 1 3 1-2 1-8 1-11 1-13 1-12 1-13 1-11 1-7 1 1 1 12 1 20 1 23 1 17 1 7 1 0 1 0 1 9 1 23 1 33 1 34 1 26 1 11 1-1 1-8 1-7 1-7 1-7 1-15 1-25 1-31 1-33 1-26 1-21 1-19 1-23 1-29 1-31 1-21 1-3 1 14 1 26 1 23 1 14 1 5 1 4 1 14 1 26 1 33 1 26 1 11 1-5 1-14 1-13 1-9 1-9 1-16 1-25 1-25 1-12 1 9 1 41 1 46 1 31 1 9 1-36 1-39 1-26 1-5 1 23 1 26 1 20 1 12 1 11 1 14 1 16 1 14 1 7 1-1 1-5 1-6 1-5 1-7 1-12 1-15 1-13 1-6 1 1 1 4 1-1 1-8 1-10 1-3 1 10 1 18 1 16 1 4 1-9 1-12 1-1 1 16 1 29 1 10 1-6 1-29 1-42 1-13 1-4 1 5 1 11 1-6 1-6 1-2 1 3 1 7 1 4 1-2 1-6 1 4 1 25 1 69 1 76 1 65 1 38 1-36 1-51 1-47 1-30 1 11 1 17 1 9 1-7 1-22 1-31 1-29 1-23 1-13 1-7 1-3 1-3 1-5 1-9 1-8 1-3 1 8 1 17 1 20 1 13 1 2 1-7 1-9 1-3 1 4 1 4 1-3 1-15 1-20 1-17 1-6 1 3 1 5 1-1 1-2 1 4 1 21 1 39 1 45 1 33 1 8 1-14 1-20 1-10 1 9 1 22 1 20 1 6 1-12 1-22 1-23 1-20 1-20 1-25 1-36 1-44 1-45 1-39 1-30 1-17 1-5 1 10 1 24 1 30 1 27 1 18 1 6 1 3 1 11 1 25 1 32 1 27 1 9 1-8 1-14 1-8 1 2 1 5 1-4 1-22 1-30 1-22 1 2 1 25 1 31 1 17 1-8 1-24 1-17 1 9 1 38 1 52 1 42 1 18 1-4 1-13 1-5 1 7 1 13 1 11 1 2 1-2 1-1 1 4 1 7 1 2 1-5 1-6 1-2 1 6 1 9 1 0 1-16 1-30 1-29 1-17 1 2 1 12 1 7 1-12 1-31 1-38 1-28 1-8 1 7 1 12 1 1 1-14 1-24 1-21 1-7 1 7 1 18 1 19 1 14 1 9 1 9 1 16 1 25 1 31 1 29 1 16 1 1 1-10 1-11 1-2 1 12 1 17 1 12 1-4 1-20 1-29 1-24 1-10 1 3 1 7 1 0 1-10 1-14 1-10 1 2 1 12 1 15 1 8 1-1 1-9 1-8 1-3 1 2 1 3 1 4 1 6 1 12 1 17 1 19 1 9 1-6 1-23 1-29 1-23 1-9 1 6 1 13 1 13 1 9 1 4 1 3 1 4 1 4 1 5 1 5 1 7 1 23 1 24 1 20 1 12 1-22 1-29 1-30 1-29 1-15 1-18 1-22 1-25 1-19 1-8 1 4 1 12 1 12 1 5 1-1 1-4 1 0 1 5 1 7 1 8 1 6 1 5 1 9 1 13 1 15 1 13 1 8 1 0 1-5 1-9 1-9 1-7 1-3 1 0 1 2 1-1 1-10 1-20 1-27 1-22 1-8 1 9 1 21 1 20 1 7 1-6 1-9 1 1 1 18 1 30 1 27 1 12 1-7 1-15 1-9 1 6 1 15 1 13 1-3 1-35 1-43 1-36 1-21 1 26 1 29 1 25 1 20 1 3 1 5 1 7 1 5 1-2 1-4 1-1 1 11 1 21 1 20 1 3 1-20 1-38 1-56 1-45 1-28 1-17 1 11 1 5 1 1 1 5 1 3 1 13 1 16 1 13 1 12 1 17 1 31 1 43 1 44 1 28 1 3 1-20 1-26 1-15 1 4 1 16 1 12 1-8 1-32 1-50 1-53 1-39 1-21 1-3 1 7 1 11 1 7 1 3 1 0 1 5 1 18 1 35 1 52 1 58 1 47 1 23 1-6 1-26 1-31 1-20 1-5 1 4 1 1 1-13 1-30 1-39 1-38 1-29 1-18 1-7 1 4 1 14 1 23 1 30 1 31 1 29 1 24 1 22 1 24 1 28 1 29 1 25 1 15 1 4 1-5 1-11 1-12 1-14 1-14 1-17 1-18 1-17 1-16 1-12 1-7 1-1 1 4 1 7 1 4 1-6 1-16 1-22 1-19 1-8 1 3 1 8 1 2 1-9 1-14 1-8 1 9 1 21 1 22 1 5 1-17 1-26 1-15 1 30 1 54 1 59 1 37 1-33 1-57 1-57 1-37 1 7 1 17 1 8 1-12 1-25 1-22 1-6 1 10 1 14 1 8 1-3 1-3 1 7 1 20 1 26 1 21 1 9 1 3 1 9 1 20 1 27 1 17 1-7 1-33 1-49 1-47 1-34 1-18 1-10 1-7 1-5 1-1 1 3 1 2 1-5 1-12 1-9 1 9 1 34 1 54 1 53 1 33 1 9 1-5 1-1 1 13 1 17 1 1 1-32 1-60 1-65 1-43 1-8 1 16 1 18 1-2 1-23 1-30 1-17 1 18 1 29 1 27 1 17 1-16 1-8 1 4 1 12 1 19 1 3 1-10 1-8 1 7 1 25 1 27 1 16 1-1 1-8 1 0 1 17 1 26 1 14 1-11 1-32 1-36 1-18 1 5 1 16 1 4 1-19 1-35 1-32 1-9 1 16 1 26 1 18 1-1 1-12 1-7 1 22 1 35 1 33 1 20 1-17 1-17 1-1 1 19 1 37 1 25 1-4 1-29 1-41 1-32 1-16 1-2 1-1 1-8 1-18 1-19 1-11 1 2 1 14 1 19 1 20 1 17 1 14 1 10 1 5 1 3 1 1 1 1 1 2 1 4 1 3 1 2 1 3 1 3 1 6 1 6 1 2 1-2 1-7 1-7 1-4 1 0 1 4 1 5 1 5 1 6 1 8 1 10 1 11 1 9 1 6 1 4 1 4 1 6 1 3 1 0 1-5 1-5 1 3 1 11 1 17 1 10 1-5 1-23 1-33 1-30 1-18 1-6 1 0 1-3 1-11 1-15 1-16 1-14 1-14 1-19 1-24 1-26 1-16 1-1 1 15 1 25 1 26 1 22 1 19 1 19 1 21 1 20 1 17 1 13 1 10 1 10 1 12 1 10 1 3 1-6 1-15 1-16 1-10 1-1 1 7 1 8 1 4 1-3 1-9 1-13 1-15 1-15 1-13 1-7 1-1 1 6 1 9 1 6 1 1 1-2 1-4 1-4 1-8 1-15 1-22 1-24 1-17 1-2 1 13 1 21 1 18 1 4 1-8 1-17 1-18 1-14 1-8 1-1 1 8 1 17 1 24 1 22 1 11 1-8 1-21 1-22 1-11 1 6 1 14 1 6 1-13 1-28 1-28 1-11 1 13 1 29 1 43 1 25 1 4 1-7 1-36 1-22 1-7 1-2 1 12 1 6 1 2 1-17 1-11 1-7 1-4 1 37 1 33 1 26 1 18 1-9 1-9 1-2 1 13 1 26 1 30 1 18 1-1 1-21 1-28 1-20 1-2 1 12 1 17 1 11 1-1 1-9 1-12 1-13 1-14 1-18 1-17 1-12 1 1 1 12 1 15 1 10 1-2 1-10 1-12 1-7 1-2 1-1 1-5 1-6 1 2 1 14 1 26 1 26 1 14 1-3 1-12 1-11 1 2 1 14 1 15 1 6 1-5 1-10 1-2 1 9 1 17 1 12 1-1 1-11 1-14 1-6 1 2 1 2 1-8 1-21 1-28 1-20 1-5 1 6 1 8 1-1 1-13 1-17 1-7 1 7 1 15 1 13 1 1 1-11 1-16 1-7 1 5 1 13 1 11 1-1 1-11 1-13 1-4 1 9 1 20 1 21 1 10 1-6 1-19 1-22 1-14 1 2 1 15 1 20 1 15 1 3 1-6 1-8 1 0 1 13 1 20 1 17 1 4 1-12 1-21 1-17 1-5 1 9 1 14 1 10 1 1 1-7 1-5 1 0 1 4 1 2 1-6 1-13 1-15 1-7 1 5 1 15 1 17 1 12 1 4 1-1 1 0 1 6 1 12 1 16 1 15 1 12 1 9 1 7 1 6 1 4 1 5 1 4 1 3 1 0 1-6 1-14 1-17 1-14 1-5 1 8 1 17 1 15 1 4 1-12 1-23 1-36 1-24 1-8 1 7 1 38 1 31 1 18 1 4 1-18 1-17 1-13 1-9 1-8 1-11 1-14 1-16 1-13 1-5 1 0 1 3 1 1 1-4 1-5 1-2 1 4 1 9 1 9 1 3 1-6 1-12 1-8 1 1 1 14 1 22 1 19 1 9 1-8 1-22 1-30 1-27 1-16 1-1 1 10 1 13 1 7 1-4 1-12 1-10 1 5 1 25 1 40 1 39 1 24 1 3 1-9 1-5 1 11 1 23 1 20 1-3 1-33 1-51 1-31 1-4 1 26 1 40 1 5 1-17 1-35 1-35 1 0 1 26 1 41 1 37 1 16 1-9 1-26 1-29 1-24 1-16 1-9 1-3 1 2 1 6 1 4 1-4 1-16 1-23 1-22 1-12 1 1 1 7 1 4 1-2 1-3 1 4 1 20 1 32 1 32 1 19 1 1 1-11 1-12 1-1 1 12 1 21 1 22 1 19 1 14 1 8 1-1 1-15 1-28 1-35 1-31 1-17 1-3 1 3 1-4 1-16 1-26 1-21 1-8 1 9 1 16 1 11 1 0 1-10 1-11 1-3 1 7 1 15 1 18 1 18 1 19 1 20 1 16 1 8 1-4 1-11 1-10 1 2 1 12 1 16 1 6 1-33 1-46 1-46 1-29 1 33 1 48 1 46 1 28 1-14 1-25 1-21 1-4 1 15 1 25 1 40 1 26 1 15 1 10 1-21 1-12 1-4 1-7 1 1 1-12 1-20 1-16 1-5 1 6 1 6 1-3 1-22 1-35 1-36 1-23 1-2 1 15 1 23 1 18 1 11 1 7 1 10 1 16 1 19 1 16 1 8 1-1 1-5 1-3 1-2 1-2 1-8 1-25 1-26 1-19 1-10 1 22 1 24 1 20 1 14 1-2 1-5 1-4 1-4 1-1 1 7 1 18 1 29 1 32 1 22 1 3 1-17 1-27 1-22 1-11 1 0 1 2 1-6 1-14 1-16 1-11 1-2 1 1 1-2 1-7 1-6 1 4 1 18 1 25 1 16 1-3 1-25 1-32 1-22 1 0 1 19 1 21 1 7 1-16 1-30 1-28 1-11 1 9 1 24 1 25 1 17 1 3 1-7 1-11 1-9 1-5 1 1 1 6 1 8 1 5 1 1 1-2 1 0 1 9 1 21 1 31 1 33 1 26 1 15 1 5 1 3 1 6 1 12 1 13 1 7 1-4 1-17 1-29 1-38 1-43 1-42 1-34 1-22 1-8 1 2 1 5 1 2 1-1 1 1 1 9 1 21 1 25 1 23 1 12 1 2 1 1 1 8 1 17 1 18 1 6 1-12 1-29 1-31 1-19 1 2 1 17 1 16 1 2 1-17 1-29 1-26 1-12 1 2 1 11 1 9 1 3 1-2 1 4 1 16 1 29 1 30 1 20 1 1 1-18 1-28 1-25 1-14 1-4 1-2 1-10 1-20 1-27 1-23 1-9 1 6 1 16 1 17 1 12 1 9 1 7 1 11 1 11 1 7 1-2 1-12 1-14 1-6 1 4 1 12 1 12 1 3 1-2 1 0 1 12 1 29 1 37 1 32 1 16 1-3 1-14 1-12 1 1 1 15 1 25 1 26 1 19 1 10 1 0 1-10 1-19 1-25 1-26 1-20 1-9 1 1 1 5 1-2 1-14 1-25 1-28 1-19 1-3 1 15 1 26 1 24 1 13 1-4 1-18 1-26 1-23 1-15 1-5 1 0 1-3 1-15 1-27 1-36 1-38 1-34 1-24 1-14 1-5 1 4 1 11 1 18 1 22 1 23 1 20 1 16 1 15 1 18 1 22 1 24 1 22 1 18 1 15 1 16 1 20 1 21 1 16 1 1 1-16 1-29 1-33 1-26 1-16 1-12 1-15 1-23 1-30 1-29 1-17 1-2 1 13 1 22 1 24 1 22 1 21 1 21 1 23 1 24 1 21 1 16 1 7 1-1 1-8 1-7 1-4 1 3 1 6 1 5 1-4 1-14 1-22 1-25 1-22 1-13 1 9 1 18 1 24 1 28 1 4 1 2 1-3 1-7 1 5 1 11 1 22 1 30 1 28 1 15 1-4 1-19 1-22 1-13 1 1 1 9 1 6 1-4 1-14 1-17 1-11 1-4 1-1 1-5 1-8 1-8 1 0 1 11 1 15 1 10 1 1 1-5 1 0 1 11 1 21 1 17 1 2 1-19 1-32 1-31 1-17 1-4 1 4 1 0 1-5 1-7 1-1 1 6 1 9 1 6 1 0 1-1 1 5 1 14 1 18 1 14 1 5 1 0 1 3 1 12 1 19 1 15 1 2 1-11 1-15 1-10 1-3 1-5 1-17 1-31 1-32 1-15 1 13 1 32 1 26 1 0 1-28 1-36 1-14 1 21 1 44 1 38 1 4 1-30 1-42 1-23 1 12 1 33 1 23 1-13 1-50 1-62 1-43 1-11 1 14 1 17 1 3 1-9 1-6 1 11 1 26 1 28 1 15 1-23 1-26 1-16 1-1 1 47 1 34 1 9 1-5 1-21 1 0 1 23 1 26 1 9 1-17 1-33 1-29 1-12 1 2 1 1 1-9 1-16 1-7 1 19 1 44 1 50 1 33 1 3 1-20 1-22 1-8 1 7 1 6 1-12 1-33 1-41 1-26 1 0 1 17 1 14 1-9 1-29 1-32 1-9 1 26 1 49 1 49 1 30 1 9 1 3 1 17 1 36 1 44 1 30 1 0 1-29 1-39 1-29 1-9 1 3 1 0 1-18 1-34 1-37 1-24 1-1 1 14 1 17 1 8 1-5 1-10 1-5 1 7 1 18 1 21 1 16 1 6 1-4 1-9 1-13 1-12 1-8 1-1 1 9 1 19 1 25 1 24 1 14 1 0 1-13 1-19 1-19 1-12 1-3 1 2 1 4 1-1 1-8 1-17 1-23 1-27 1-26 1-22 1-14 1 16 1 22 1 23 1 21 1-26 1-30 1-31 1-23 1 11 1 26 1 39 1 41 1 33 1 17 1 0 1-9 1-6 1 6 1 22 1 27 1 18 1-4 1-26 1-39 1-35 1-19 1-1 1 11 1 12 1 7 1 2 1 4 1 10 1 16 1 17 1 16 1 17 1 22 1 29 1 32 1 19 1-5 1-35 1-55 1-54 1-36 1-11 1 6 1 7 1-5 1-15 1-14 1-2 1 18 1 31 1 35 1 29 1 21 1 16 1 14 1 10 1 1 1-9 1-16 1-13 1-2 1 13 1 21 1 18 1 7 1-5 1-12 1-11 1-7 1-6 1-7 1-7 1-2 1 8 1 19 1 22 1 15 1 3 1-9 1-10 1-4 1 6 1 10 1 4 1-7 1-19 1-24 1-20 1-16 1-13 1-17 1-22 1-24 1-18 1-4 1 8 1 12 1 8 1-5 1-13 1-16 1-10 1 0 1 6 1 3 1-8 1-22 1-30 1-30 1-22 1-12 1-4 1-1 1-2 1-1 1 4 1 14 1 24 1 30 1 30 1 25 1 23 1 24 1 55 1 62 1 61 1 50 1-12 1-29 1-37 1-36 1-10 1-9 1-11 1-15 1-13 1-3 1 8 1 13 1 7 1-10 1-26 1-29 1-12 1 14 1 36 1 42 1 25 1-1 1-22 1-27 1-20 1-8 1-4 1-11 1-20 1-27 1-23 1-14 1-9 1-13 1-25 1-34 1-30 1-10 1 19 1 44 1 55 1 47 1 31 1 17 1 10 1 12 1 14 1 13 1 3 1-11 1-21 1-26 1-25 1-23 1-22 1-25 1-31 1-34 1-33 1-26 1-13 1 3 1 20 1 34 1 42 1 43 1 40 1 33 1 28 1 25 1 23 1 20 1 14 1 6 1-5 1-13 1-18 1-21 1-19 1-19 1-18 1-15 1-11 1-5 1 1 1 19 1 19 1 18 1 18 1-8 1-3 1 3 1 4 1 14 1 5 1-4 1-12 1-18 1-23 1-31 1-40 1-49 1-52 1-44 1-41 1-23 1 15 1 26 1 59 1 71 1 42 1 55 1 47 1 36 1 33 1 9 1-6 1-2 1 16 1 34 1 34 1 15 1-17 1-47 1-59 1-49 1-27 1-10 1-7 1-17 1-31 1-34 1-21 1 3 1 26 1 41 1 42 1 34 1 25 1 17 1 14 1 12 1 13 1 11 1 10 1 6 1-1 1-12 1-23 1-28 1-26 1-16 1-7 1-2 1-6 1-13 1-18 1-12 1 1 1 14 1 20 1 16 1 7 1 0 1-2 1 2 1 0 1-11 1-27 1-41 1-42 1-28 1-7 1 11 1 16 1 7 1-3 1-6 1 2 1 17 1 28 1 31 1 23 1 13 1 5 1 4 1 8 1 11 1 11 1 8 1 2 1-6 1-12 1-17 1-19 1-15 1-9 1-1 1 2 1-2 1-10 1-12 1-7 1 9 1 24 1 28 1 19 1 0 1-17 1-18 1-8 1 5 1 9 1-2 1-18 1-26 1-19 1 2 1 19 1 19 1 1 1-22 1-32 1-17 1 13 1 43 1 54 1 44 1 26 1 14 1 17 1 25 1 26 1 7 1-25 1-51 1-55 1-35 1-5 1 16 1 13 1-8 1-30 1-37 1-22 1 1 1 18 1 19 1 8 1-5 1-6 1 1 1 11 1 15 1 10 1 2 1-5 1-8 1-10 1-18 1-32 1-43 1-43 1-27 1 0 1 24 1 32 1 27 1 12 1 2 1 0 1 6 1 11 1 11 1 9 1 9 1 17 1 27 1 31 1 22 1 1 1-20 1-32 1-29 1-14 1-1 1 2 1-1 1-8 1-8 1-2 1 7 1 10 1 4 1-2 1-2 1 6 1 21 1 29 1 26 1 13 1-3 1-9 1-9 1-4 1-5 1-16 1-31 1-56 1-49 1-29 1-8 1 38 1 35 1 22 1 12 1-4 1 6 1 20 1 29 1 29 1 22 1 16 1 12 1 12 1 8 1 1 1-6 1-11 1-10 1-7 1-5 1-11 1-22 1-34 1-37 1-30 1-15 1-2 1 6 1 2 1-8 1-19 1-25 1-23 1-14 1-1 1 12 1 23 1 30 1 27 1 19 1 5 1-7 1-12 1-10 1-2 1 6 1 13 1 14 1 13 1 9 1 7 1 3 1 3 1 5 1 11 1 21 1 28 1 28 1 14 1-9 1-30 1-41 1-30 1-5 1 24 1 41 1 39 1 21 1-3 1-15 1-15 1-2 1 13 1 18 1 13 1-2 1-18 1-26 1-29 1-25 1-21 1-18 1-16 1-16 1-16 1-15 1-15 1-12 1-8 1 0 1 9 1 18 1 25 1 28 1 29 1 27 1 25 1 23 1 19 1 11 1 3 1-4 1-8 1-9 1-10 1-11 1-16 1-22 1-26 1-28 1-23 1-15 1-5 1 3 1 6 1 5 1 2 1-4 1-8 1-10 1-5 1 4 1 14 1 21 1 22 1 16 1 6 1-2 1-3 1 0 1 24 1 26 1 24 1 19 1-21 1-19 1-13 1-8 1 10 1 5 1-1 1-5 1-1 1 4 1 7 1-1 1-16 1-31 1-34 1-22 1-3 1 14 1 17 1 6 1-10 1-17 1-8 1 14 1 34 1 39 1 27 1 4 1-13 1-16 1-5 1 12 1 21 1 17 1 7 1-3 1-3 1 6 1 14 1 15 1 5 1-9 1-21 1-23 1-16 1-6 1 2 1 4 1 3 1 3 1 1 1-1 1-8 1-18 1-27 1-32 1-28 1-19 1-8 1-1 1 4 1 6 1 9 1 14 1 15 1 14 1 6 1-1 1-4 1 0" fill="none" stroke="#e6550d" stroke-width="0.85" stroke-linejoin="round" vector-effect="non-scaling-stroke"/>
<path transform="translate(334.70 240.54) scale(0.11537 0.07312)" d="M0-121l1 14 1 6 1 3 1 5 1 12 1 19 1 24 1 25 1 22 1 20 1 17 1 11 1 3 1-8 1-18 1-20 1-13 1-2 1 8 1 11 1 7 1 1 1 0 1 4 1 12 1 17 1 15 1 7 1-5 1-13 1-16 1-15 1-15 1-15 1-16 1-16 1-11 1-6 1-2 1-3 1-6 1-9 1-7 1-1 1 7 1 12 1 14 1 14 1 17 1 21 1 27 1 28 1 23 1 12 1 0 1-8 1-10 1-11 1-9 1-11 1-12 1-12 1-11 1-10 1-10 1-13 1-13 1-7 1 4 1 18 1 25 1 21 1 10 1-6 1-15 1-16 1-8 1-2 1 1 1-3 1-11 1-15 1-17 1-18 1-17 1-15 1-10 1 2 1 17 1 28 1 30 1 22 1 11 1 5 1 12 1 25 1 38 1 37 1 24 1 2 1-14 1-20 1-15 1-9 1-11 1-22 1-35 1-42 1-36 1-25 1-13 1-10 1-13 1-17 1-14 1-2 1 14 1 28 1 31 1 29 1 24 1 22 1 25 1 26 1 22 1 12 1 1 1-7 1-4 1 2 1 9 1 10 1 1 1-10 1-20 1-22 1-18 1-9 1-2 1-1 1-2 1-7 1-10 1-9 1-8 1-2 1 2 1 6 1 7 1 5 1 1 1-4 1-8 1-9 1-5 1 2 1 9 1 16 1 17 1 14 1 5 1-6 1-14 1-18 1-17 1-11 1-4 1 0 1 3 1 4 1 6 1 9 1 10 1 8 1 4 1 0 1 1 1 8 1 18 1 27 1 29 1 24 1 16 1 11 1 9 1 7 1 1 1-12 1-31 1-43 1-45 1-35 1-19 1-9 1-9 1-17 1-23 1-22 1-11 1 3 1 9 1 7 1 0 1-1 1 8 1 24 1 35 1 36 1 22 1 6 1-3 1-1 1 10 1 17 1 13 1-3 1-18 1-26 1-19 1-4 1 7 1 9 1 2 1-9 1-13 1-7 1 3 1 8 1 8 1 3 1 0 1 2 1 7 1 10 1 5 1-9 1-21 1-28 1-21 1-6 1 10 1 19 1 16 1 5 1-4 1-9 1-5 1 6 1 15 1 20 1 18 1 11 1 4 1 0 1-1 1 4 1 9 1 11 1 5 1-4 1-14 1-19 1-16 1-10 1-3 1-1 1-4 1-9 1-12 1-8 1-1 1 5 1 6 1 2 1-3 1-6 1-5 1 0 1 5 1 5 1 2 1-2 1-5 1-4 1-4 1-5 1-6 1-6 1-6 1-2 1 3 1 7 1 12 1 15 1 19 1 21 1 16 1 8 1-5 1-13 1-12 1 0 1 14 1 25 1 21 1 7 1-13 1-26 1-28 1-21 1-14 1-15 1-23 1-31 1-32 1-20 1 0 1 19 1 28 1 25 1 15 1 7 1 6 1 13 1 21 1 28 1 27 1 24 1 16 1 9 1 4 1-2 1-5 1-7 1-9 1-10 1-13 1-19 1-23 1-23 1-17 1-5 1 7 1 15 1 17 1 14 1 10 1 11 1 13 1 16 1 15 1 11 1 6 1 1 1-4 1-6 1-14 1-22 1-32 1-37 1-34 1-26 1-14 1-4 1-1 1-2 1-2 1-4 1-2 1 0 1 4 1 9 1 17 1 25 1 32 1 30 1 20 1 5 1-10 1-16 1-15 1-9 1-7 1-12 1-23 1-31 1-28 1-13 1 8 1 23 1 26 1 17 1 5 1-2 1 3 1 18 1 32 1 34 1 26 1 9 1-6 1-12 1-10 1-6 1-2 1-5 1-8 1-10 1-8 1-3 1 3 1 5 1 5 1 4 1 5 1 8 1 9 1 5 1-2 1-10 1-13 1-11 1-8 1-7 1-10 1-15 1-19 1-15 1-5 1 6 1 11 1 8 1 3 1 1 1 8 1 23 1 35 1 38 1 27 1 10 1-4 1-9 1-4 1 2 1 3 1-6 1-19 1-27 1-27 1-22 1-16 1-17 1-21 1-24 1-18 1-3 1 16 1 29 1 35 1 32 1 27 1 27 1 28 1 25 1 14 1-2 1-15 1-20 1-14 1-3 1 0 1-9 1-27 1-42 1-46 1-34 1-12 1 7 1 16 1 14 1 8 1 4 1 4 1 5 1 6 1 3 1 1 1 3 1 8 1 11 1 7 1-7 1-22 1-32 1-29 1-19 1-7 1-5 1-10 1-17 1-15 1 0 1 20 1 35 1 37 1 24 1 10 1 2 1 6 1 16 1 22 1 16 1 3 1-8 1-9 1 2 1 15 1 20 1 10 1-9 1-25 1-26 1-13 1 10 1 30 1 35 1 26 1 9 1-7 1-15 1-14 1-6 1 2 1 9 1 7 1 1 1-11 1-21 1-25 1-21 1-11 1-1 1 0 1-4 1-11 1-14 1-5 1 10 1 26 1 33 1 30 1 19 1 10 1 9 1 13 1 15 1 12 1-1 1-12 1-18 1-14 1-6 1-3 1-7 1-18 1-28 1-28 1-20 1-10 1-6 1-10 1-18 1-19 1-12 1 2 1 13 1 12 1 2 1-10 1-14 1-10 1 2 1 9 1 8 1 4 1 4 1 11 1 25 1 35 1 32 1 16 1-4 1-14 1-8 1 6 1 21 1 23 1 13 1-2 1-13 1-17 1-14 1-13 1-15 1-17 1-13 1-4 1 7 1 13 1 9 1 0 1-5 1-2 1 8 1 16 1 13 1-1 1-16 1-20 1-7 1 13 1 26 1 20 1-1 1-23 1-32 1-22 1 0 1 18 1 23 1 13 1 2 1-3 1 1 1 8 1 10 1 4 1-6 1-11 1-7 1-2 1 2 1-3 1-11 1-15 1-9 1 3 1 13 1 13 1 7 1 0 1 3 1 15 1 28 1 31 1 21 1 5 1-8 1-5 1 7 1 18 1 17 1 3 1-17 1-31 1-36 1-35 1-36 1-42 1-48 1-42 1-23 1 3 1 21 1 19 1 1 1-15 1-16 1 5 1 38 1 57 1 53 1 27 1-6 1-25 1-23 1-10 1 3 1 5 1-3 1-9 1-7 1 1 1 6 1 0 1-12 1-25 1-25 1-12 1 5 1 17 1 17 1 10 1 6 1 10 1 20 1 26 1 20 1 5 1-9 1-14 1-4 1 11 1 20 1 17 1 4 1-7 1-8 1-1 1 10 1 16 1 12 1 6 1 0 1-1 1 3 1 3 1 2 1 0 1-1 1 4 1 8 1 5 1-2 1-15 1-22 1-19 1-11 1-2 1-1 1-7 1-16 1-18 1-11 1 0 1 8 1 9 1 3 1-1 1-3 1-1 1 2 1 1 1-2 1-4 1 0 1 8 1 14 1 9 1-3 1-17 1-23 1-18 1-3 1 9 1 10 1-1 1-15 1-25 1-22 1-13 1-2 1 3 1 4 1 5 1 9 1 15 1 18 1 14 1 7 1 2 1 5 1 16 1 28 1 33 1 28 1 12 1-1 1-11 1-12 1-10 1-7 1-7 1-6 1-4 1-3 1-3 1-7 1-13 1-19 1-16 1-10 1-3 1 1 1-3 1-11 1-14 1-11 1 0 1 9 1 15 1 12 1 9 1 8 1 15 1 24 1 29 1 26 1 13 1-1 1-10 1-13 1-9 1-3 1-1 1-2 1-7 1-11 1-15 1-14 1-13 1-9 1-5 1 1 1 3 1 5 1 5 1 4 1 6 1 10 1 14 1 18 1 19 1 19 1 17 1 14 1 7 1-5 1-18 1-29 1-33 1-27 1-18 1-10 1-11 1-16 1-24 1-26 1-20 1-12 1-4 1 0 1 2 1 9 1 22 1 36 1 46 1 45 1 32 1 18 1 8 1 8 1 13 1 15 1 8 1-8 1-24 1-32 1-31 1-22 1-15 1-10 1-11 1-11 1-10 1-6 1-3 1 0 1-1 1 1 1 4 1 10 1 13 1 13 1 7 1 3 1 2 1 5 1 9 1 9 1 2 1-9 1-20 1-22 1-18 1-7 1 3 1 8 1 7 1 0 1-7 1-11 1-7 1 4 1 21 1 35 1 39 1 30 1 11 1-7 1-17 1-13 1-1 1 8 1 7 1-6 1-17 1-21 1-13 1 1 1 11 1 11 1 4 1 1 1 7 1 21 1 30 1 27 1 8 1-16 1-29 1-25 1-8 1 5 1 6 1-8 1-23 1-29 1-20 1-3 1 8 1 5 1-8 1-22 1-28 1-21 1-8 1 3 1 10 1 12 1 17 1 21 1 23 1 16 1 5 1-6 1-7 1 1 1 14 1 18 1 10 1-6 1-17 1-16 1-1 1 18 1 26 1 22 1 10 1 1 1 0 1 4 1 7 1 0 1-9 1-14 1-10 1 2 1 9 1 4 1-13 1-30 1-34 1-25 1-7 1 2 1-3 1-17 1-28 1-23 1-3 1 15 1 21 1 13 1-1 1-3 1 10 1 30 1 43 1 36 1 13 1-9 1-14 1 0 1 20 1 28 1 12 1-17 1-42 1-47 1-30 1-4 1 11 1 9 1-7 1-21 1-24 1-10 1 9 1 25 1 28 1 25 1 18 1 13 1 12 1 13 1 13 1 12 1 11 1 8 1 4 1-1 1-6 1-6 1-1 1 4 1 6 1-1 1-16 1-29 1-37 1-33 1-23 1-12 1-7 1-6 1-6 1-4 1 1 1 6 1 7 1 7 1 8 1 11 1 18 1 21 1 16 1 5 1-6 1-10 1-3 1 8 1 16 1 14 1 2 1-9 1-15 1-12 1-4 1 2 1 2 1-3 1-4 1 0 1 5 1 9 1 6 1-1 1-8 1-9 1-5 1 1 1 2 1-1 1-5 1-6 1-2 1 3 1 7 1 4 1 0 1-4 1-3 1-2 1-5 1-10 1-16 1-14 1-5 1 6 1 11 1 5 1-6 1-12 1-3 1 18 1 38 1 43 1 24 1-6 1-33 1-38 1-24 1-2 1 11 1 9 1-3 1-11 1-8 1 4 1 14 1 10 1-5 1-17 1-18 1-4 1 18 1 33 1 30 1 15 1-2 1-10 1-7 1 2 1 8 1 6 1 0 1-3 1-3 1 1 1 2 1-1 1-7 1-9 1-5 1 2 1 7 1 7 1 2 1-2 1-2 1 1 1 2 1 1 1-3 1-4 1 2 1 11 1 19 1 16 1 4 1-10 1-20 1-17 1-9 1-3 1-5 1-15 1-23 1-20 1-8 1 6 1 11 1 5 1-7 1-14 1-9 1 8 1 23 1 27 1 19 1 2 1-10 1-13 1-7 1 1 1 5 1 5 1 3 1 4 1 4 1 2 1-4 1-15 1-20 1-17 1-5 1 7 1 11 1 5 1-7 1-16 1-12 1 2 1 18 1 27 1 25 1 17 1 7 1 5 1 7 1 11 1 10 1 4 1-4 1-9 1-9 1-6 1-2 1-2 1-8 1-15 1-22 1-25 1-22 1-16 1-7 1 4 1 11 1 12 1 8 1 0 1-5 1-6 1 0 1 10 1 17 1 20 1 18 1 11 1 4 1-1 1-4 1-2 1 0 1 4 1 5 1 3 1-2 1-8 1-14 1-15 1-11 1-3 1 4 1 9 1 8 1 4 1-1 1-5 1-5 1-2 1 5 1 13 1 23 1 26 1 23 1 11 1-4 1-18 1-21 1-16 1-6 1-1 1-2 1-8 1-13 1-9 1 2 1 13 1 15 1 7 1-9 1-20 1-24 1-18 1-6 1 1 1 4 1 5 1 8 1 12 1 13 1 8 1-2 1-12 1-11 1 3 1 20 1 30 1 25 1 6 1-14 1-21 1-13 1 6 1 19 1 14 1-6 1-28 1-38 1-32 1-13 1 5 1 13 1 12 1 7 1 3 1 4 1 1 1-4 1-13 1-20 1-18 1-10 1 1 1 5 1 0 1-8 1-11 1-2 1 12 1 21 1 20 1 9 1-4 1-7 1 5 1 21 1 32 1 29 1 14 1-5 1-15 1-11 1 2 1 14 1 18 1 11 1-1 1-13 1-20 1-23 1-21 1-16 1-10 1 1 1 9 1 16 1 15 1 12 1 7 1 7 1 9 1 12 1 11 1 7 1 3 1 3 1 5 1 7 1 2 1-10 1-25 1-36 1-35 1-24 1-11 1-4 1-4 1-7 1-4 1 10 1 28 1 40 1 35 1 14 1-10 1-26 1-24 1-6 1 13 1 27 1 25 1 16 1 6 1-1 1-6 1-12 1-21 1-25 1-21 1-3 1 17 1 28 1 20 1-4 1-27 1-34 1-19 1 12 1 38 1 44 1 25 1-6 1-30 1-36 1-27 1-13 1-9 1-17 1-29 1-35 1-31 1-20 1-10 1-8 1-8 1-6 1 4 1 16 1 26 1 25 1 16 1 10 1 14 1 32 1 51 1 58 1 46 1 20 1-7 1-21 1-19 1-11 1-7 1-12 1-22 1-27 1-19 1-4 1 9 1 11 1 2 1-7 1-7 1 2 1 14 1 18 1 10 1-3 1-10 1-4 1 12 1 24 1 22 1 8 1-10 1-14 1-2 1 17 1 30 1 23 1 2 1-23 1-37 1-33 1-18 1-5 1 0 1-2 1-4 1-3 1 3 1 5 1 1 1-9 1-14 1-11 1 1 1 13 1 15 1 6 1-6 1-12 1-9 1 0 1 6 1 1 1-12 1-21 1-19 1-6 1 10 1 18 1 12 1 1 1-8 1-4 1 9 1 24 1 29 1 19 1 5 1-8 1-11 1-4 1 5 1 11 1 13 1 10 1 7 1 3 1-7 1-20 1-32 1-37 1-30 1-12 1 11 1 26 1 31 1 22 1 11 1 3 1 1 1 4 1 9 1 8 1 3 1-4 1-12 1-16 1-18 1-18 1-19 1-22 1-26 1-29 1-28 1-19 1-6 1 9 1 20 1 22 1 16 1 10 1 9 1 16 1 27 1 34 1 31 1 20 1 8 1 3 1 1 1 2 1-5 1-19 1-31 1-34 1-24 1-6 1 8 1 8 1-3 1-16 1-16 1 0 1 24 1 40 1 39 1 24 1 5 1 0 1 6 1 21 1 27 1 20 1 0 1-22 1-35 1-41 1-40 1-39 1-36 1-32 1-24 1-13 1-6 1-4 1-3 1 5 1 24 1 47 1 66 1 64 1 47 1 23 1 11 1 18 1 36 1 46 1 36 1 5 1-30 1-48 1-40 1-16 1 4 1 5 1-16 1-43 1-57 1-52 1-35 1-17 1-8 1-10 1-11 1-8 1-2 1 4 1 2 1-4 1-5 1 0 1 11 1 20 1 18 1 8 1-2 1-1 1 10 1 27 1 32 1 19 1-5 1-27 1-33 1-22 1-3 1 9 1 7 1-5 1-16 1-17 1-9 1 0 1 3 1-4 1-14 1-21 1-14 1 3 1 23 1 40 1 46 1 42 1 31 1 19 1 12 1 14 1 23 1 31 1 32 1 19 1-5 1-28 1-39 1-30 1-10 1 7 1 10 1-4 1-24 1-34 1-26 1-9 1 3 1 2 1-13 1-25 1-22 1 1 1 28 1 41 1 32 1 7 1-16 1-20 1-5 1 16 1 25 1 15 1-8 1-27 1-29 1-17 1 0 1 10 1 9 1 4 1 1 1 1 1 3 1 2 1-1 1-3 1 0 1 7 1 10 1 2 1-15 1-31 1-32 1-19 1 2 1 12 1 4 1-18 1-38 1-41 1-25 1 0 1 15 1 18 1 10 1 8 1 16 1 32 1 39 1 34 1 17 1 3 1 4 1 19 1 31 1 28 1 4 1-24 1-39 1-32 1-7 1 15 1 17 1 0 1-19 1-23 1-9 1 12 1 20 1 8 1-16 1-33 1-25 1 4 1 36 1 52 1 41 1 13 1-10 1-18 1-9 1 3 1 5 1-6 1-22 1-33 1-32 1-24 1-15 1-11 1-11 1-15 1-19 1-19 1-19 1-14 1-3 1 16 1 36 1 46 1 41 1 21 1 3 1 0 1 16 1 44 1 65 1 61 1 32 1-7 1-35 1-42 1-31 1-16 1-11 1-15 1-24 1-26 1-16 1-4 1 2 1-1 1-7 1-9 1-1 1 14 1 23 1 22 1 11 1-1 1-5 1 2 1 13 1 16 1 7 1-10 1-26 1-30 1-23 1-11 1-4 1-6 1-16 1-24 1-27 1-18 1-2 1 16 1 31 1 37 1 34 1 25 1 11 1-1 1-8 1-9 1-6 1-3 1-3 1-3 1-5 1-3 1 0 1 5 1 10 1 15 1 21 1 26 1 26 1 21 1 8 1-5 1-10 1-2 1 17 1 30 1 29 1 6 1-26 1-52 1-56 1-42 1-22 1-11 1-19 1-35 1-44 1-33 1-8 1 18 1 28 1 20 1 5 1-1 1 9 1 28 1 38 1 27 1 3 1-19 1-21 1-2 1 25 1 37 1 21 1-14 1-48 1-60 1-46 1-13 1 14 1 25 1 22 1 15 1 16 1 26 1 38 1 38 1 24 1 3 1-15 1-18 1-9 1 7 1 15 1 14 1 3 1-12 1-22 1-27 1-30 1-32 1-34 1-35 1-31 1-21 1-7 1 10 1 23 1 26 1 23 1 14 1 9 1 11 1 20 1 32 1 39 1 33 1 19 1 6 1-1 1 1 1 7 1 11 1 5 1-5 1-11 1-4 1 9 1 21 1 20 1 3 1-20 1-36 1-36 1-23 1-9 1-6 1-16 1-30 1-34 1-22 1 1 1 18 1 20 1 6 1-13 1-22 1-14 1 6 1 23 1 32 1 29 1 20 1 12 1 9 1 9 1 6 1 3 1 0 1-2 1-2 1-5 1-11 1-21 1-24 1-20 1-7 1 1 1-3 1-20 1-41 1-52 1-42 1-16 1 14 1 30 1 27 1 14 1 4 1 5 1 15 1 25 1 22 1 10 1-3 1-6 1 4 1 16 1 19 1 8 1-7 1-19 1-12 1 6 1 25 1 32 1 21 1 4 1-8 1-5 1 7 1 18 1 15 1-1 1-21 1-32 1-29 1-16 1-6 1-2 1-5 1-8 1-2 1 8 1 19 1 21 1 13 1 3 1-2 1 7 1 22 1 31 1 29 1 16 1-1 1-11 1-8 1-1 1 3 1-6 1-23 1-40 1-46 1-40 1-27 1-16 1-13 1-16 1-14 1-4 1 13 1 29 1 33 1 25 1 8 1-4 1-4 1 9 1 25 1 34 1 31 1 17 1 6 1 2 1 9 1 20 1 25 1 22 1 10 1-5 1-15 1-21 1-25 1-28 1-30 1-31 1-28 1-24 1-21 1-21 1-25 1-29 1-30 1-24 1-15 1-2 1 8 1 19 1 26 1 31 1 31 1 23 1 12 1 3 1 1 1 11 1 24 1 31 1 24 1 4 1-21 1-35 1-34 1-22 1-8 1-1 1-2 1-4 1 0 1 10 1 22 1 26 1 19 1 10 1 8 1 20 1 39 1 49 1 41 1 15 1-15 1-34 1-31 1-16 1-1 1-1 1-15 1-33 1-43 1-40 1-28 1-18 1-12 1-7 1 2 1 19 1 36 1 44 1 38 1 22 1 11 1 11 1 21 1 28 1 24 1 6 1-15 1-26 1-22 1-12 1-9 1-23 1-49 1-65 1-60 1-31 1 5 1 27 1 26 1 11 1 0 1 4 1 24 1 40 1 42 1 28 1 11 1 7 1 17 1 32 1 31 1 9 1-26 1-52 1-53 1-30 1-4 1 5 1-11 1-34 1-44 1-30 1 3 1 28 1 31 1 8 1-21 1-33 1-15 1 17 1 43 1 44 1 23 1-3 1-13 1-3 1 19 1 32 1 25 1 1 1-26 1-37 1-30 1-15 1-1 1 3 1 0 1-3 1 0 1 6 1 12 1 12 1 9 1 3 1 1 1 2 1-1 1-4 1-9 1-11 1-7 1 2 1 9 1 8 1 3 1-3 1-3 1 4 1 14 1 20 1 15 1 6 1-2 1-2 1 6 1 17 1 20 1 17 1 9 1 3 1 4 1 7 1 5 1-5 1-22 1-34 1-35 1-19 1 6 1 27 1 32 1 24 1 8 1-4 1-5 1 3 1 13 1 16 1 9 1-5 1-15 1-18 1-14 1-7 1-8 1-16 1-32 1-45 1-50 1-42 1-30 1-18 1-14 1-17 1-21 1-18 1-7 1 10 1 22" fill="none" stroke="#31a354" stroke-width="0.85" stroke-linejoin="round" vector-effect="non-scaling-stroke"/>
<path transform="translate(334.70 333.61) scale(0.11537 0.07312)" d="M0-127l1 15 1 8 1 2 1-1 1 3 1 10 1 19 1 24 1 28 1 30 1 28 1 18 1 2 1-15 1-27 1-29 1-17 1 2 1 18 1 25 1 18 1 7 1-3 1-5 1 1 1 8 1 12 1 9 1 1 1-7 1-14 1-18 1-21 1-20 1-18 1-8 1 2 1 11 1 11 1 4 1-10 1-21 1-23 1-15 1-1 1 14 1 24 1 27 1 27 1 25 1 23 1 18 1 11 1 2 1-3 1-5 1-4 1-4 1-6 1-11 1-16 1-18 1-15 1-11 1-9 1-8 1-9 1-4 1 4 1 17 1 23 1 22 1 12 1-1 1-11 1-12 1-7 1-3 1-2 1-5 1-12 1-16 1-19 1-21 1-21 1-21 1-14 1 0 1 18 1 33 1 38 1 30 1 17 1 7 1 10 1 20 1 33 1 36 1 26 1 9 1-6 1-14 1-15 1-14 1-21 1-33 1-46 1-49 1-40 1-23 1-9 1-3 1-5 1-9 1-9 1 1 1 15 1 25 1 27 1 24 1 20 1 21 1 24 1 26 1 23 1 13 1 0 1-9 1-7 1 0 1 7 1 10 1 4 1-7 1-17 1-21 1-17 1-9 1-1 1 4 1 3 1 1 1-4 1-9 1-12 1-13 1-12 1-7 1-1 1 5 1 9 1 9 1 5 1 0 1-2 1-3 1 1 1 6 1 12 1 13 1 10 1 1 1-10 1-18 1-22 1-21 1-14 1-5 1 4 1 13 1 19 1 21 1 18 1 7 1-4 1-13 1-13 1-2 1 15 1 31 1 37 1 33 1 22 1 10 1 3 1-3 1-7 1-17 1-26 1-34 1-32 1-22 1-12 1-6 1-11 1-20 1-25 1-21 1-8 1 7 1 11 1 5 1-6 1-11 1-2 1 16 1 33 1 39 1 31 1 14 1 2 1-1 1 3 1 8 1 4 1-7 1-18 1-21 1-13 1 2 1 12 1 11 1 2 1-9 1-11 1-6 1 3 1 8 1 4 1-2 1-6 1-3 1 5 1 13 1 11 1 0 1-13 1-22 1-19 1-7 1 8 1 16 1 13 1 4 1-7 1-12 1-10 1-1 1 10 1 18 1 20 1 17 1 10 1 5 1 2 1 2 1 5 1 6 1 2 1-5 1-13 1-16 1-16 1-10 1-5 1-2 1-3 1-6 1-5 1-2 1 2 1 3 1-2 1-9 1-14 1-13 1-5 1 6 1 13 1 14 1 7 1-2 1-9 1-12 1-9 1-6 1-3 1-1 1 1 1 1 1 2 1 4 1 7 1 13 1 21 1 25 1 25 1 15 1 0 1-13 1-16 1-7 1 9 1 20 1 22 1 8 1-10 1-24 1-28 1-24 1-18 1-18 1-24 1-30 1-29 1-17 1 3 1 20 1 28 1 23 1 14 1 5 1 4 1 10 1 18 1 25 1 26 1 25 1 22 1 16 1 11 1 4 1-1 1-7 1-11 1-13 1-18 1-24 1-28 1-29 1-23 1-12 1 2 1 13 1 19 1 21 1 19 1 20 1 18 1 17 1 12 1 6 1 1 1 0 1 1 1 0 1-5 1-17 1-30 1-40 1-39 1-29 1-14 1-1 1 6 1 5 1 1 1-7 1-11 1-12 1-8 1 2 1 16 1 30 1 39 1 37 1 22 1 2 1-16 1-25 1-22 1-12 1-4 1-5 1-12 1-21 1-21 1-9 1 9 1 23 1 26 1 19 1 7 1 2 1 5 1 18 1 28 1 30 1 19 1 3 1-11 1-15 1-12 1-5 1-1 1-4 1-8 1-12 1-12 1-8 1-3 1 1 1 4 1 7 1 12 1 15 1 16 1 9 1-2 1-12 1-17 1-14 1-9 1-4 1-6 1-11 1-17 1-15 1-8 1 0 1 6 1 6 1 4 1 6 1 14 1 29 1 39 1 39 1 28 1 9 1-4 1-9 1-5 1 1 1-1 1-11 1-23 1-31 1-30 1-23 1-16 1-16 1-20 1-24 1-20 1-5 1 13 1 28 1 34 1 33 1 29 1 27 1 27 1 25 1 14 1 1 1-13 1-16 1-11 1-3 1-2 1-13 1-32 1-47 1-48 1-33 1-11 1 9 1 16 1 13 1 6 1 0 1 2 1 6 1 10 1 9 1 9 1 11 1 14 1 14 1 6 1-10 1-27 1-37 1-35 1-22 1-10 1-5 1-7 1-13 1-9 1 6 1 23 1 37 1 35 1 22 1 5 1-1 1 4 1 15 1 21 1 16 1 3 1-10 1-13 1-2 1 12 1 18 1 11 1-5 1-19 1-22 1-9 1 12 1 29 1 35 1 27 1 10 1-4 1-14 1-13 1-6 1 1 1 7 1 6 1 0 1-10 1-20 1-25 1-23 1-15 1-7 1-4 1-6 1-9 1-7 1 3 1 19 1 32 1 36 1 27 1 13 1 3 1 2 1 9 1 15 1 14 1 5 1-7 1-13 1-13 1-8 1-7 1-13 1-24 1-32 1-32 1-21 1-9 1-3 1-6 1-11 1-13 1-7 1 6 1 13 1 10 1-2 1-15 1-18 1-10 1 3 1 14 1 15 1 11 1 6 1 11 1 18 1 24 1 20 1 6 1-8 1-13 1-3 1 15 1 29 1 30 1 15 1-3 1-17 1-21 1-17 1-14 1-12 1-13 1-11 1-2 1 6 1 8 1 4 1-4 1-8 1-2 1 11 1 20 1 16 1 3 1-14 1-19 1-9 1 9 1 22 1 16 1-3 1-26 1-34 1-24 1-3 1 16 1 22 1 16 1 6 1 2 1 5 1 9 1 7 1-3 1-14 1-18 1-12 1 1 1 10 1 11 1 5 1 0 1-1 1 3 1 5 1 1 1-6 1-9 1-1 1 18 1 34 1 40 1 29 1 8 1-6 1-8 1 3 1 15 1 17 1 6 1-12 1-26 1-34 1-36 1-40 1-49 1-54 1-47 1-27 1 1 1 20 1 20 1 3 1-14 1-13 1 7 1 39 1 58 1 54 1 27 1-5 1-24 1-24 1-10 1 2 1 4 1-4 1-9 1-7 1 0 1 7 1 2 1-11 1-24 1-24 1-15 1 2 1 12 1 12 1 6 1 5 1 11 1 23 1 30 1 24 1 8 1-8 1-14 1-6 1 8 1 16 1 13 1 3 1-8 1-9 1 1 1 13 1 19 1 16 1 9 1 2 1 0 1 2 1 1 1 1 1-1 1 1 1 7 1 10 1 8 1-2 1-15 1-24 1-23 1-13 1-5 1-1 1-6 1-14 1-16 1-10 1 0 1 9 1 10 1 6 1 0 1-2 1-1 1-1 1-3 1-8 1-8 1-2 1 8 1 15 1 13 1-1 1-16 1-25 1-20 1-7 1 6 1 8 1 1 1-12 1-19 1-17 1-9 1-2 1 2 1 2 1 2 1 7 1 15 1 19 1 17 1 10 1 6 1 8 1 17 1 28 1 30 1 24 1 10 1-4 1-12 1-13 1-10 1-8 1-8 1-7 1-5 1-2 1 0 1-2 1-9 1-13 1-15 1-11 1-7 1-6 1-11 1-15 1-17 1-9 1 4 1 15 1 19 1 17 1 10 1 9 1 13 1 22 1 27 1 24 1 13 1-1 1-11 1-15 1-11 1-5 1-3 1-2 1-6 1-8 1-11 1-12 1-12 1-10 1-6 1-3 1-1 1 1 1 0 1 2 1 5 1 10 1 16 1 20 1 21 1 20 1 18 1 14 1 6 1-4 1-18 1-27 1-30 1-24 1-16 1-10 1-10 1-17 1-23 1-24 1-17 1-7 1-2 1 0 1-1 1 1 1 12 1 26 1 39 1 42 1 36 1 24 1 16 1 14 1 13 1 11 1 0 1-14 1-27 1-30 1-22 1-11 1-2 1-2 1-7 1-13 1-14 1-12 1-5 1 1 1 3 1 6 1 8 1 9 1 8 1 3 1-2 1-3 1 1 1 9 1 17 1 18 1 9 1-7 1-21 1-27 1-24 1-12 1 0 1 8 1 10 1 4 1-4 1-8 1-6 1 6 1 23 1 37 1 39 1 29 1 6 1-16 1-27 1-22 1-8 1 6 1 10 1 5 1-6 1-10 1-6 1 2 1 7 1 4 1-2 1-4 1 5 1 22 1 32 1 27 1 7 1-19 1-33 1-30 1-13 1 2 1 6 1-4 1-18 1-24 1-17 1-2 1 7 1 4 1-9 1-23 1-27 1-20 1-7 1 4 1 9 1 11 1 15 1 19 1 22 1 17 1 7 1-3 1-7 1 1 1 10 1 12 1 5 1-9 1-18 1-13 1 4 1 23 1 31 1 24 1 9 1-1 1-3 1 2 1 7 1 5 1-2 1-6 1-1 1 8 1 13 1 5 1-15 1-33 1-41 1-32 1-17 1-5 1-7 1-17 1-21 1-14 1 5 1 19 1 20 1 6 1-13 1-15 1 0 1 28 1 48 1 45 1 26 1 1 1-10 1-3 1 11 1 16 1 6 1-16 1-34 1-35 1-19 1 3 1 12 1 5 1-13 1-26 1-26 1-11 1 10 1 23 1 25 1 18 1 11 1 7 1 10 1 15 1 18 1 18 1 14 1 8 1-1 1-8 1-11 1-8 1 1 1 8 1 10 1 0 1-18 1-34 1-41 1-35 1-21 1-6 1 3 1 4 1 2 1 1 1 2 1 6 1 8 1 8 1 9 1 11 1 14 1 12 1 6 1-6 1-14 1-12 1 2 1 16 1 26 1 21 1 5 1-13 1-22 1-20 1-10 1-2 1 2 1-1 1-3 1 0 1 5 1 9 1 9 1 7 1 3 1 3 1 5 1 5 1 0 1-8 1-14 1-13 1-5 1 5 1 11 1 9 1 3 1-4 1-7 1-7 1-9 1-13 1-15 1-13 1-3 1 6 1 9 1 3 1-8 1-12 1-1 1 20 1 41 1 44 1 23 1-8 1-35 1-40 1-24 1 0 1 14 1 12 1-2 1-13 1-14 1-4 1 5 1 5 1-5 1-12 1-10 1 6 1 25 1 36 1 30 1 12 1-5 1-12 1-7 1 5 1 11 1 9 1 3 1-4 1-5 1-2 1 1 1 0 1-4 1-4 1-3 1 0 1-1 1-6 1-13 1-15 1-10 1 1 1 10 1 15 1 11 1 8 1 7 1 9 1 12 1 9 1-1 1-11 1-17 1-13 1-7 1-5 1-11 1-24 1-29 1-24 1-6 1 12 1 19 1 11 1-4 1-15 1-12 1 4 1 22 1 31 1 25 1 9 1-6 1-14 1-12 1-7 1-2 1 1 1 3 1 8 1 9 1 6 1-6 1-17 1-25 1-19 1-5 1 12 1 19 1 12 1-4 1-16 1-17 1-5 1 12 1 25 1 27 1 21 1 11 1 6 1 3 1 4 1 3 1-1 1-3 1-3 1 0 1 2 1 2 1-4 1-14 1-23 1-28 1-26 1-18 1-7 1 5 1 14 1 17 1 13 1 5 1-6 1-12 1-11 1-2 1 9 1 21 1 24 1 22 1 13 1 2 1-6 1-12 1-13 1-8 1-1 1 5 1 9 1 8 1 1 1-5 1-12 1-13 1-10 1-4 1 0 1 2 1 2 1 0 1 0 1 0 1 2 1 9 1 17 1 24 1 29 1 25 1 11 1-6 1-21 1-26 1-20 1-10 1-1 1 0 1-4 1-9 1-6 1 2 1 11 1 15 1 7 1-7 1-17 1-21 1-17 1-9 1-4 1-1 1 1 1 6 1 13 1 16 1 11 1 0 1-10 1-9 1 2 1 22 1 32 1 27 1 6 1-16 1-28 1-22 1-4 1 11 1 10 1-2 1-20 1-29 1-23 1-9 1 6 1 13 1 11 1 7 1 5 1 5 1 3 1-5 1-16 1-23 1-21 1-9 1 3 1 8 1 3 1-7 1-12 1-7 1 7 1 19 1 22 1 13 1 2 1-3 1 4 1 15 1 24 1 23 1 12 1-2 1-7 1-4 1 5 1 9 1 7 1-2 1-11 1-16 1-15 1-9 1-6 1-4 1-4 1-4 1 0 1 3 1 6 1 9 1 10 1 13 1 15 1 14 1 8 1 2 1-3 1 0 1 7 1 12 1 8 1-4 1-21 1-35 1-34 1-24 1-8 1 1 1 0 1-6 1-7 1 2 1 17 1 30 1 30 1 16 1-4 1-18 1-17 1-5 1 10 1 20 1 21 1 15 1 9 1 5 1-1 1-12 1-26 1-34 1-29 1-8 1 19 1 38 1 36 1 13 1-15 1-30 1-24 1 0 1 24 1 31 1 18 1-6 1-28 1-32 1-25 1-14 1-9 1-15 1-24 1-28 1-25 1-16 1-11 1-13 1-15 1-13 1 1 1 18 1 31 1 31 1 20 1 10 1 10 1 23 1 43 1 53 1 46 1 24 1-1 1-17 1-21 1-16 1-14 1-18 1-23 1-22 1-11 1 5 1 14 1 10 1-2 1-14 1-13 1 0 1 18 1 24 1 15 1-1 1-14 1-13 1 0 1 15 1 19 1 14 1 4 1 2 1 12 1 24 1 29 1 17 1-7 1-29 1-37 1-31 1-15 1-3 1-3 1-9 1-16 1-13 1-5 1 3 1 4 1 1 1-2 1 0 1 8 1 15 1 14 1 4 1-7 1-12 1-8 1 1 1 5 1 0 1-12 1-22 1-19 1-4 1 11 1 19 1 11 1-2 1-11 1-6 1 8 1 24 1 31 1 23 1 8 1-8 1-13 1-10 1-2 1 4 1 8 1 8 1 8 1 4 1-5 1-17 1-30 1-33 1-26 1-8 1 14 1 26 1 27 1 16 1 3 1-5 1-3 1 5 1 14 1 18 1 14 1 4 1-7 1-18 1-25 1-27 1-27 1-27 1-26 1-24 1-20 1-10 1 3 1 15 1 21 1 20 1 11 1 3 1 1 1 9 1 23 1 33 1 34 1 26 1 15 1 5 1 0 1-5 1-15 1-26 1-36 1-33 1-17 1 5 1 17 1 14 1-2 1-19 1-21 1-6 1 21 1 40 1 43 1 30 1 10 1 1 1 4 1 14 1 21 1 14 1-3 1-21 1-33 1-39 1-37 1-36 1-34 1-28 1-18 1-9 1-4 1-5 1-9 1-4 1 13 1 40 1 62 1 67 1 53 1 31 1 16 1 19 1 33 1 41 1 32 1 5 1-24 1-39 1-32 1-10 1 5 1 1 1-20 1-46 1-58 1-51 1-32 1-15 1-8 1-11 1-14 1-12 1-4 1 4 1 3 1-1 1-4 1 0 1 9 1 18 1 18 1 11 1 2 1 4 1 13 1 24 1 24 1 9 1-14 1-33 1-34 1-19 1 2 1 14 1 11 1-4 1-16 1-18 1-7 1 4 1 9 1 2 1-11 1-21 1-18 1-4 1 16 1 36 1 46 1 45 1 34 1 21 1 10 1 8 1 13 1 23 1 27 1 17 1-1 1-22 1-34 1-28 1-11 1 3 1 6 1-6 1-21 1-28 1-19 1-2 1 9 1 4 1-13 1-27 1-25 1-3 1 24 1 39 1 32 1 10 1-12 1-15 1-1 1 17 1 23 1 12 1-11 1-28 1-28 1-13 1 6 1 14 1 11 1 0 1-10 1-12 1-10 1-8 1-5 1 2 1 11 1 21 1 22 1 10 1-13 1-34 1-38 1-24 1-2 1 12 1 6 1-15 1-36 1-42 1-29 1-7 1 11 1 15 1 11 1 10 1 20 1 32 1 39 1 30 1 13 1 0 1 4 1 19 1 35 1 31 1 9 1-23 1-40 1-34 1-10 1 11 1 17 1 4 1-12 1-15 1-2 1 14 1 19 1 2 1-23 1-40 1-28 1 4 1 40 1 59 1 48 1 20 1-9 1-22 1-18 1-8 1-2 1-5 1-14 1-19 1-16 1-10 1-8 1-11 1-21 1-29 1-33 1-33 1-27 1-18 1-2 1 19 1 39 1 49 1 43 1 25 1 6 1 2 1 19 1 45 1 65 1 59 1 31 1-6 1-35 1-41 1-31 1-18 1-13 1-19 1-27 1-26 1-15 1 0 1 10 1 8 1 1 1-3 1 1 1 9 1 16 1 12 1 2 1-9 1-10 1 0 1 14 1 18 1 11 1-6 1-22 1-27 1-22 1-11 1-6 1-9 1-18 1-27 1-26 1-16 1 2 1 21 1 37 1 42 1 38 1 25 1 8 1-7 1-15 1-17 1-11 1-6 1-1 1 1 1-1 1-1 1-1 1 1 1 4 1 11 1 18 1 27 1 30 1 26 1 13 1-4 1-11 1-6 1 12 1 29 1 32 1 13 1-17 1-43 1-54 1-45 1-32 1-24 1-31 1-42 1-45 1-28 1 0 1 25 1 33 1 23 1 6 1-2 1 9 1 27 1 36 1 26 1 1 1-22 1-24 1-2 1 25 1 41 1 26 1-11 1-47 1-64 1-52 1-22 1 8 1 25 1 29 1 27 1 29 1 36 1 40 1 35 1 15 1-7 1-22 1-21 1-7 1 9 1 19 1 16 1 2 1-12 1-22 1-26 1-26 1-26 1-30 1-34 1-34 1-29 1-16 1 1 1 17 1 27 1 27 1 22 1 16 1 17 1 24 1 32 1 35 1 29 1 15 1 2 1-4 1-1 1 8 1 13 1 10 1 3 1-2 1 1 1 12 1 18 1 14 1-4 1-28 1-41 1-39 1-24 1-7 1-5 1-14 1-28 1-33 1-20 1 2 1 18 1 19 1 4 1-15 1-24 1-15 1 6 1 28 1 38 1 36 1 25 1 15 1 8 1 7 1 4 1 3 1 2 1 2 1 1 1-5 1-15 1-27 1-32 1-23 1-8 1 7 1 7 1-10 1-35 1-52 1-47 1-24 1 5 1 25 1 28 1 20 1 11 1 10 1 13 1 16 1 10 1-4 1-12 1-9 1 5 1 22 1 26 1 15 1-4 1-16 1-13 1 5 1 24 1 32 1 21 1 3 1-9 1-7 1 6 1 17 1 17 1 4 1-15 1-28 1-27 1-19 1-10 1-8 1-11 1-11 1-4 1 10 1 20 1 23 1 15 1 6 1 2 1 11 1 24 1 33 1 30 1 16 1-2 1-11 1-10 1-3 1-1 1-10 1-29 1-45 1-51 1-41 1-25 1-11 1-5 1-7 1-8 1-2 1 10 1 24 1 27 1 22 1 9 1-1 1 1 1 12 1 24 1 28 1 20 1 8 1 0 1 2 1 15 1 29 1 37 1 32 1 15 1-3 1-19 1-28 1-32 1-34 1-35 1-34 1-30 1-24 1-19 1-18 1-21 1-24 1-25 1-20 1-13 1-2 1 7 1 16 1 22 1 28 1 27 1 20 1 10 1 2 1 2 1 13 1 28 1 36 1 29 1 9 1-17 1-34 1-37 1-25 1-13 1-5 1-5 1-7 1-2 1 9 1 20 1 24 1 20 1 14 1 13 1 25 1 41 1 48 1 37 1 9 1-20 1-36 1-30 1-11 1 5 1 7 1-10 1-31 1-44 1-44 1-32 1-21 1-12 1-6 1 4 1 19 1 35 1 42 1 37 1 24 1 15 1 15 1 25 1 29 1 19 1-4 1-27 1-38 1-29 1-12 1-4 1-12 1-33 1-52 1-52 1-29 1-1 1 18 1 16 1 4 1-3 1 6 1 27 1 44 1 46 1 30 1 11 1 4 1 13 1 27 1 28 1 10 1-21 1-44 1-45 1-25 1-4 1 0 1-17 1-41 1-49 1-30 1 7 1 36 1 38 1 13 1-19 1-36 1-23 1 9 1 37 1 42 1 26 1 1 1-10 1-2 1 15 1 28 1 21 1 2 1-19 1-26 1-21 1-8 1 0 1-2 1-9 1-11 1-5 1 6 1 18 1 19 1 14 1 4 1-4 1-9 1-10 1-10 1-10 1-5 1 2 1 10 1 13 1 9 1-2 1-10 1-8 1 2 1 15 1 23 1 20 1 8 1-3 1-5 1 2 1 12 1 20 1 18 1 12 1 6 1 6 1 6 1 3 1-8 1-22 1-34 1-32 1-17 1 7 1 26 1 32 1 24 1 9 1 0 1-1 1 7 1 13 1 13 1 2 1-12 1-23 1-24 1-16 1-6 1-4 1-13 1-27 1-41 1-46 1-40 1-28 1-16 1-12 1-17 1-23 1-23 1-11 1 6 1 21" fill="none" stroke="#31a354" stroke-width="0.85" stroke-linejoin="round" vector-effect="non-scaling-stroke"/>
</g>
<rect x="42.30" y="10.50" width="265.70" height="366.90" fill="none" stroke="#000" stroke-width="1.2"/>
<text x="42.30" y="385.30" font-size="8.5" text-anchor="middle" fill="#000" stroke="#000" textLength="4.96" lengthAdjust="spacingAndGlyphs">0</text>
<line x1="71.82" y1="377.40" x2="71.82" y2="372.00" stroke="#000" stroke-width="1.0"/>
<text x="71.82" y="385.30" font-size="8.5" text-anchor="middle" fill="#000" stroke="#000" textLength="4.96" lengthAdjust="spacingAndGlyphs">1</text>
<line x1="101.34" y1="377.40" x2="101.34" y2="372.00" stroke="#000" stroke-width="1.0"/>
<text x="101.34" y="385.30" font-size="8.5" text-anchor="middle" fill="#000" stroke="#000" textLength="4.96" lengthAdjust="spacingAndGlyphs">2</text>
<line x1="130.87" y1="377.40" x2="130.87" y2="372.00" stroke="#000" stroke-width="1.0"/>
<text x="130.87" y="385.30" font-size="8.5" text-anchor="middle" fill="#000" stroke="#000" textLength="4.96" lengthAdjust="spacingAndGlyphs">3</text>
<line x1="160.39" y1="377.40" x2="160.39" y2="372.00" stroke="#000" stroke-width="1.0"/>
<text x="160.39" y="385.30" font-size="8.5" text-anchor="middle" fill="#000" stroke="#000" textLength="4.96" lengthAdjust="spacingAndGlyphs">4</text>
<line x1="189.91" y1="377.40" x2="189.91" y2="372.00" stroke="#000" stroke-width="1.0"/>
<text x="189.91" y="385.30" font-size="8.5" text-anchor="middle" fill="#000" stroke="#000" textLength="4.96" lengthAdjust="spacingAndGlyphs">5</text>
<line x1="219.43" y1="377.40" x2="219.43" y2="372.00" stroke="#000" stroke-width="1.0"/>
<text x="219.43" y="385.30" font-size="8.5" text-anchor="middle" fill="#000" stroke="#000" textLength="4.96" lengthAdjust="spacingAndGlyphs">6</text>
<line x1="248.96" y1="377.40" x2="248.96" y2="372.00" stroke="#000" stroke-width="1.0"/>
<text x="248.96" y="385.30" font-size="8.5" text-anchor="middle" fill="#000" stroke="#000" textLength="4.96" lengthAdjust="spacingAndGlyphs">7</text>
<line x1="278.48" y1="377.40" x2="278.48" y2="372.00" stroke="#000" stroke-width="1.0"/>
<text x="278.48" y="385.30" font-size="8.5" text-anchor="middle" fill="#000" stroke="#000" textLength="4.96" lengthAdjust="spacingAndGlyphs">8</text>
<line x1="42.30" y1="17.84" x2="47.70" y2="17.84" stroke="#000" stroke-width="1.0"/>
<text x="40.60" y="20.84" font-size="8.5" text-anchor="end" fill="#000" stroke="#000" textLength="9.93" lengthAdjust="spacingAndGlyphs">50</text>
<line x1="42.30" y1="36.12" x2="47.70" y2="36.12" stroke="#000" stroke-width="1.0"/>
<text x="40.60" y="39.12" font-size="8.5" text-anchor="end" fill="#000" stroke="#000" textLength="9.93" lengthAdjust="spacingAndGlyphs">25</text>
<line x1="42.30" y1="54.40" x2="47.70" y2="54.40" stroke="#000" stroke-width="1.0"/>
<text x="40.60" y="57.40" font-size="8.5" text-anchor="end" fill="#000" stroke="#000" textLength="4.96" lengthAdjust="spacingAndGlyphs">0</text>
<line x1="42.30" y1="72.68" x2="47.70" y2="72.68" stroke="#000" stroke-width="1.0"/>
<text x="40.60" y="75.68" font-size="8.5" text-anchor="end" fill="#000" stroke="#000" textLength="16.46" lengthAdjust="spacingAndGlyphs">−25</text>
<line x1="42.30" y1="90.96" x2="47.70" y2="90.96" stroke="#000" stroke-width="1.0"/>
<text x="40.60" y="93.96" font-size="8.5" text-anchor="end" fill="#000" stroke="#000" textLength="16.46" lengthAdjust="spacingAndGlyphs">−50</text>
<line x1="42.30" y1="110.91" x2="47.70" y2="110.91" stroke="#000" stroke-width="1.0"/>
<text x="40.60" y="113.91" font-size="8.5" text-anchor="end" fill="#000" stroke="#000" textLength="9.93" lengthAdjust="spacingAndGlyphs">50</text>
<line x1="42.30" y1="129.19" x2="47.70" y2="129.19" stroke="#000" stroke-width="1.0"/>
<text x="40.60" y="132.19" font-size="8.5" text-anchor="end" fill="#000" stroke="#000" textLength="9.93" lengthAdjust="spacingAndGlyphs">25</text>
<line x1="42.30" y1="147.47" x2="47.70" y2="147.47" stroke="#000" stroke-width="1.0"/>
<text x="40.60" y="150.47" font-size="8.5" text-anchor="end" fill="#000" stroke="#000" textLength="4.96" lengthAdjust="spacingAndGlyphs">0</text>
<line x1="42.30" y1="165.75" x2="47.70" y2="165.75" stroke="#000" stroke-width="1.0"/>
<text x="40.60" y="168.75" font-size="8.5" text-anchor="end" fill="#000" stroke="#000" textLength="16.46" lengthAdjust="spacingAndGlyphs">−25</text>
<line x1="42.30" y1="184.03" x2="47.70" y2="184.03" stroke="#000" stroke-width="1.0"/>
<text x="40.60" y="187.03" font-size="8.5" text-anchor="end" fill="#000" stroke="#000" textLength="16.46" lengthAdjust="spacingAndGlyphs">−50</text>
<line x1="42.30" y1="203.98" x2="47.70" y2="203.98" stroke="#000" stroke-width="1.0"/>
<text x="40.60" y="206.98" font-size="8.5" text-anchor="end" fill="#000" stroke="#000" textLength="9.93" lengthAdjust="spacingAndGlyphs">50</text>
<line x1="42.30" y1="222.26" x2="47.70" y2="222.26" stroke="#000" stroke-width="1.0"/>
<text x="40.60" y="225.26" font-size="8.5" text-anchor="end" fill="#000" stroke="#000" textLength="9.93" lengthAdjust="spacingAndGlyphs">25</text>
<line x1="42.30" y1="240.54" x2="47.70" y2="240.54" stroke="#000" stroke-width="1.0"/>
<text x="40.60" y="243.54" font-size="8.5" text-anchor="end" fill="#000" stroke="#000" textLength="4.96" lengthAdjust="spacingAndGlyphs">0</text>
<line x1="42.30" y1="258.82" x2="47.70" y2="258.82" stroke="#000" stroke-width="1.0"/>
<text x="40.60" y="261.82" font-size="8.5" text-anchor="end" fill="#000" stroke="#000" textLength="16.46" lengthAdjust="spacingAndGlyphs">−25</text>
<line x1="42.30" y1="277.10" x2="47.70" y2="277.10" stroke="#000" stroke-width="1.0"/>
<text x="40.60" y="280.10" font-size="8.5" text-anchor="end" fill="#000" stroke="#000" textLength="16.46" lengthAdjust="spacingAndGlyphs">−50</text>
<line x1="42.30" y1="297.05" x2="47.70" y2="297.05" stroke="#000" stroke-width="1.0"/>
<text x="40.60" y="300.05" font-size="8.5" text-anchor="end" fill="#000" stroke="#000" textLength="9.93" lengthAdjust="spacingAndGlyphs">50</text>
<line x1="42.30" y1="315.33" x2="47.70" y2="315.33" stroke="#000" stroke-width="1.0"/>
<text x="40.60" y="318.33" font-size="8.5" text-anchor="end" fill="#000" stroke="#000" textLength="9.93" lengthAdjust="spacingAndGlyphs">25</text>
<line x1="42.30" y1="333.61" x2="47.70" y2="333.61" stroke="#000" stroke-width="1.0"/>
<text x="40.60" y="336.61" font-size="8.5" text-anchor="end" fill="#000" stroke="#000" textLength="4.96" lengthAdjust="spacingAndGlyphs">0</text>
<line x1="42.30" y1="351.89" x2="47.70" y2="351.89" stroke="#000" stroke-width="1.0"/>
<text x="40.60" y="354.89" font-size="8.5" text-anchor="end" fill="#000" stroke="#000" textLength="16.46" lengthAdjust="spacingAndGlyphs">−25</text>
<line x1="42.30" y1="370.17" x2="47.70" y2="370.17" stroke="#000" stroke-width="1.0"/>
<text x="40.60" y="373.17" font-size="8.5" text-anchor="end" fill="#000" stroke="#000" textLength="16.46" lengthAdjust="spacingAndGlyphs">−50</text>
<rect x="334.70" y="10.50" width="265.70" height="366.90" fill="none" stroke="#000" stroke-width="1.2"/>
<text x="334.70" y="385.30" font-size="8.5" text-anchor="middle" fill="#000" stroke="#000" textLength="4.96" lengthAdjust="spacingAndGlyphs">0</text>
<line x1="364.22" y1="377.40" x2="364.22" y2="372.00" stroke="#000" stroke-width="1.0"/>
<text x="364.22" y="385.30" font-size="8.5" text-anchor="middle" fill="#000" stroke="#000" textLength="4.96" lengthAdjust="spacingAndGlyphs">1</text>
<line x1="393.74" y1="377.40" x2="393.74" y2="372.00" stroke="#000" stroke-width="1.0"/>
<text x="393.74" y="385.30" font-size="8.5" text-anchor="middle" fill="#000" stroke="#000" textLength="4.96" lengthAdjust="spacingAndGlyphs">2</text>
<line x1="423.27" y1="377.40" x2="423.27" y2="372.00" stroke="#000" stroke-width="1.0"/>
<text x="423.27" y="385.30" font-size="8.5" text-anchor="middle" fill="#000" stroke="#000" textLength="4.96" lengthAdjust="spacingAndGlyphs">3</text>
<line x1="452.79" y1="377.40" x2="452.79" y2="372.00" stroke="#000" stroke-width="1.0"/>
<text x="452.79" y="385.30" font-size="8.5" text-anchor="middle" fill="#000" stroke="#000" textLength="4.96" lengthAdjust="spacingAndGlyphs">4</text>
<line x1="482.31" y1="377.40" x2="482.31" y2="372.00" stroke="#000" stroke-width="1.0"/>
<text x="482.31" y="385.30" font-size="8.5" text-anchor="middle" fill="#000" stroke="#000" textLength="4.96" lengthAdjust="spacingAndGlyphs">5</text>
<line x1="511.83" y1="377.40" x2="511.83" y2="372.00" stroke="#000" stroke-width="1.0"/>
<text x="511.83" y="385.30" font-size="8.5" text-anchor="middle" fill="#000" stroke="#000" textLength="4.96" lengthAdjust="spacingAndGlyphs">6</text>
<line x1="541.36" y1="377.40" x2="541.36" y2="372.00" stroke="#000" stroke-width="1.0"/>
<text x="541.36" y="385.30" font-size="8.5" text-anchor="middle" fill="#000" stroke="#000" textLength="4.96" lengthAdjust="spacingAndGlyphs">7</text>
<line x1="570.88" y1="377.40" x2="570.88" y2="372.00" stroke="#000" stroke-width="1.0"/>
<text x="570.88" y="385.30" font-size="8.5" text-anchor="middle" fill="#000" stroke="#000" textLength="4.96" lengthAdjust="spacingAndGlyphs">8</text>
<text x="45.00" y="6.40" font-size="8.6" text-anchor="start" font-weight="bold" fill="#000" stroke="#000" textLength="11.76" lengthAdjust="spacingAndGlyphs">(a)</text>
<text x="337.10" y="6.40" font-size="8.6" text-anchor="start" font-weight="bold" fill="#000" stroke="#000" textLength="12.06" lengthAdjust="spacingAndGlyphs">(b)</text>
<text x="68.80" y="24.00" font-size="9.9" text-anchor="start" fill="#000" stroke="#000" textLength="26.15" lengthAdjust="spacingAndGlyphs">Wake</text>
<text x="361.30" y="23.80" font-size="9.9" text-anchor="start" fill="#000" stroke="#000" textLength="21.24" lengthAdjust="spacingAndGlyphs">REM</text>
<text x="291.00" y="24.00" font-size="9.9" text-anchor="end" fill="#000" stroke="#000" textLength="22.01" lengthAdjust="spacingAndGlyphs">EMG</text>
<text x="290.00" y="116.50" font-size="9.9" text-anchor="end" fill="#000" stroke="#000" textLength="21.28" lengthAdjust="spacingAndGlyphs">EOG</text>
<text x="288.80" y="209.60" font-size="9.9" text-anchor="end" fill="#000" stroke="#000" textLength="19.77" lengthAdjust="spacingAndGlyphs">EEG</text>
<text x="583.40" y="24.00" font-size="9.9" text-anchor="end" fill="#000" stroke="#000" textLength="22.01" lengthAdjust="spacingAndGlyphs">EMG</text>
<text x="582.40" y="116.50" font-size="9.9" text-anchor="end" fill="#000" stroke="#000" textLength="21.28" lengthAdjust="spacingAndGlyphs">EOG</text>
<text x="581.20" y="209.60" font-size="9.9" text-anchor="end" fill="#000" stroke="#000" textLength="19.77" lengthAdjust="spacingAndGlyphs">EEG</text>
<text x="294.60" y="403.10" font-size="9.9" text-anchor="start" fill="#000" stroke="#000" textLength="40.46" lengthAdjust="spacingAndGlyphs">Time [s]</text>
<text x="9.00" y="228.20" font-size="9.9" text-anchor="start" fill="#000" stroke="#000" textLength="61.39" lengthAdjust="spacingAndGlyphs" transform="rotate(-90 9.00 228.20)">Voltage [<tspan font-style="italic">μ</tspan>V]</text>
<rect x="92.30" y="607.70" width="10.18" height="15.40" fill="rgb(101,186,127)" stroke="#2b2b2b" stroke-width="0.6"/>
<rect x="102.48" y="607.70" width="10.18" height="15.40" fill="rgb(101,186,127)" stroke="#2b2b2b" stroke-width="0.6"/>
<rect x="102.48" y="603.85" width="10.18" height="3.85" fill="rgb(236,128,74)" stroke="#2b2b2b" stroke-width="0.6"/>
<rect x="112.66" y="615.40" width="10.18" height="7.70" fill="rgb(101,186,127)" stroke="#2b2b2b" stroke-width="0.6"/>
<rect x="112.66" y="611.55" width="10.18" height="3.85" fill="rgb(236,128,74)" stroke="#2b2b2b" stroke-width="0.6"/>
<rect x="122.84" y="611.55" width="10.18" height="11.55" fill="rgb(101,186,127)" stroke="#2b2b2b" stroke-width="0.6"/>
<rect x="122.84" y="607.70" width="10.18" height="3.85" fill="rgb(236,128,74)" stroke="#2b2b2b" stroke-width="0.6"/>
<rect x="133.02" y="619.25" width="10.18" height="3.85" fill="rgb(101,186,127)" stroke="#2b2b2b" stroke-width="0.6"/>
<rect x="133.02" y="611.55" width="10.18" height="7.70" fill="rgb(236,128,74)" stroke="#2b2b2b" stroke-width="0.6"/>
<rect x="133.02" y="596.15" width="10.18" height="15.40" fill="rgb(100,161,205)" stroke="#2b2b2b" stroke-width="0.6"/>
<rect x="143.20" y="619.25" width="10.18" height="3.85" fill="rgb(101,186,127)" stroke="#2b2b2b" stroke-width="0.6"/>
<rect x="143.20" y="603.85" width="10.18" height="15.40" fill="rgb(236,128,74)" stroke="#2b2b2b" stroke-width="0.6"/>
<rect x="143.20" y="600.00" width="10.18" height="3.85" fill="rgb(100,161,205)" stroke="#2b2b2b" stroke-width="0.6"/>
<rect x="153.38" y="576.90" width="10.18" height="46.20" fill="rgb(101,186,127)" stroke="#2b2b2b" stroke-width="0.6"/>
<rect x="153.38" y="546.10" width="10.18" height="30.80" fill="rgb(236,128,74)" stroke="#2b2b2b" stroke-width="0.6"/>
<rect x="153.38" y="507.60" width="10.18" height="38.50" fill="rgb(100,161,205)" stroke="#2b2b2b" stroke-width="0.6"/>
<rect x="163.56" y="611.55" width="10.18" height="11.55" fill="rgb(101,186,127)" stroke="#2b2b2b" stroke-width="0.6"/>
<rect x="163.56" y="553.80" width="10.18" height="57.75" fill="rgb(236,128,74)" stroke="#2b2b2b" stroke-width="0.6"/>
<rect x="163.56" y="511.45" width="10.18" height="42.35" fill="rgb(100,161,205)" stroke="#2b2b2b" stroke-width="0.6"/>
<rect x="173.74" y="580.75" width="10.18" height="42.35" fill="rgb(101,186,127)" stroke="#2b2b2b" stroke-width="0.6"/>
<rect x="173.74" y="519.15" width="10.18" height="61.60" fill="rgb(236,128,74)" stroke="#2b2b2b" stroke-width="0.6"/>
<rect x="173.74" y="438.30" width="10.18" height="80.85" fill="rgb(100,161,205)" stroke="#2b2b2b" stroke-width="0.6"/>
<rect x="183.92" y="511.45" width="10.18" height="111.65" fill="rgb(101,186,127)" stroke="#2b2b2b" stroke-width="0.6"/>
<rect x="183.92" y="469.10" width="10.18" height="42.35" fill="rgb(236,128,74)" stroke="#2b2b2b" stroke-width="0.6"/>
<rect x="183.92" y="442.15" width="10.18" height="26.95" fill="rgb(100,161,205)" stroke="#2b2b2b" stroke-width="0.6"/>
<rect x="194.10" y="515.30" width="10.18" height="107.80" fill="rgb(101,186,127)" stroke="#2b2b2b" stroke-width="0.6"/>
<rect x="194.10" y="469.10" width="10.18" height="46.20" fill="rgb(236,128,74)" stroke="#2b2b2b" stroke-width="0.6"/>
<rect x="194.10" y="446.00" width="10.18" height="23.10" fill="rgb(100,161,205)" stroke="#2b2b2b" stroke-width="0.6"/>
<rect x="204.28" y="523.00" width="10.18" height="100.10" fill="rgb(101,186,127)" stroke="#2b2b2b" stroke-width="0.6"/>
<rect x="204.28" y="480.65" width="10.18" height="42.35" fill="rgb(236,128,74)" stroke="#2b2b2b" stroke-width="0.6"/>
<rect x="204.28" y="446.00" width="10.18" height="34.65" fill="rgb(100,161,205)" stroke="#2b2b2b" stroke-width="0.6"/>
<rect x="214.46" y="546.10" width="10.18" height="77.00" fill="rgb(101,186,127)" stroke="#2b2b2b" stroke-width="0.6"/>
<rect x="214.46" y="526.85" width="10.18" height="19.25" fill="rgb(236,128,74)" stroke="#2b2b2b" stroke-width="0.6"/>
<rect x="214.46" y="496.05" width="10.18" height="30.80" fill="rgb(100,161,205)" stroke="#2b2b2b" stroke-width="0.6"/>
<rect x="224.64" y="584.60" width="10.18" height="38.50" fill="rgb(101,186,127)" stroke="#2b2b2b" stroke-width="0.6"/>
<rect x="224.64" y="569.20" width="10.18" height="15.40" fill="rgb(100,161,205)" stroke="#2b2b2b" stroke-width="0.6"/>
<rect x="234.82" y="611.55" width="10.18" height="11.55" fill="rgb(101,186,127)" stroke="#2b2b2b" stroke-width="0.6"/>
<rect x="234.82" y="607.70" width="10.18" height="3.85" fill="rgb(236,128,74)" stroke="#2b2b2b" stroke-width="0.6"/>
<rect x="234.82" y="596.15" width="10.18" height="11.55" fill="rgb(100,161,205)" stroke="#2b2b2b" stroke-width="0.6"/>
<rect x="245.00" y="611.55" width="10.18" height="11.55" fill="rgb(101,186,127)" stroke="#2b2b2b" stroke-width="0.6"/>
<rect x="245.00" y="596.15" width="10.18" height="15.40" fill="rgb(100,161,205)" stroke="#2b2b2b" stroke-width="0.6"/>
<rect x="255.18" y="615.40" width="10.18" height="7.70" fill="rgb(236,128,74)" stroke="#2b2b2b" stroke-width="0.6"/>
<rect x="255.18" y="611.55" width="10.18" height="3.85" fill="rgb(100,161,205)" stroke="#2b2b2b" stroke-width="0.6"/>
<rect x="265.36" y="619.25" width="10.18" height="3.85" fill="rgb(101,186,127)" stroke="#2b2b2b" stroke-width="0.6"/>
<rect x="275.54" y="619.25" width="10.18" height="3.85" fill="rgb(100,161,205)" stroke="#2b2b2b" stroke-width="0.6"/>
<rect x="384.30" y="590.10" width="9.72" height="33.00" fill="rgb(100,161,205)" stroke="#2b2b2b" stroke-width="0.6"/>
<rect x="394.02" y="606.60" width="9.72" height="16.50" fill="rgb(101,186,127)" stroke="#2b2b2b" stroke-width="0.6"/>
<rect x="394.02" y="581.85" width="9.72" height="24.75" fill="rgb(100,161,205)" stroke="#2b2b2b" stroke-width="0.6"/>
<rect x="403.74" y="601.10" width="9.72" height="22.00" fill="rgb(100,161,205)" stroke="#2b2b2b" stroke-width="0.6"/>
<rect x="413.46" y="620.35" width="9.72" height="2.75" fill="rgb(101,186,127)" stroke="#2b2b2b" stroke-width="0.6"/>
<rect x="413.46" y="609.35" width="9.72" height="11.00" fill="rgb(100,161,205)" stroke="#2b2b2b" stroke-width="0.6"/>
<rect x="423.18" y="617.60" width="9.72" height="5.50" fill="rgb(101,186,127)" stroke="#2b2b2b" stroke-width="0.6"/>
<rect x="423.18" y="614.85" width="9.72" height="2.75" fill="rgb(236,128,74)" stroke="#2b2b2b" stroke-width="0.6"/>
<rect x="423.18" y="584.60" width="9.72" height="30.25" fill="rgb(100,161,205)" stroke="#2b2b2b" stroke-width="0.6"/>
<rect x="432.90" y="592.85" width="9.72" height="30.25" fill="rgb(236,128,74)" stroke="#2b2b2b" stroke-width="0.6"/>
<rect x="432.90" y="548.85" width="9.72" height="44.00" fill="rgb(100,161,205)" stroke="#2b2b2b" stroke-width="0.6"/>
<rect x="442.62" y="587.35" width="9.72" height="35.75" fill="rgb(101,186,127)" stroke="#2b2b2b" stroke-width="0.6"/>
<rect x="442.62" y="535.10" width="9.72" height="52.25" fill="rgb(236,128,74)" stroke="#2b2b2b" stroke-width="0.6"/>
<rect x="442.62" y="510.35" width="9.72" height="24.75" fill="rgb(100,161,205)" stroke="#2b2b2b" stroke-width="0.6"/>
<rect x="452.34" y="584.60" width="9.72" height="38.50" fill="rgb(101,186,127)" stroke="#2b2b2b" stroke-width="0.6"/>
<rect x="452.34" y="543.35" width="9.72" height="41.25" fill="rgb(236,128,74)" stroke="#2b2b2b" stroke-width="0.6"/>
<rect x="452.34" y="532.35" width="9.72" height="11.00" fill="rgb(100,161,205)" stroke="#2b2b2b" stroke-width="0.6"/>
<rect x="462.06" y="504.85" width="9.72" height="118.25" fill="rgb(101,186,127)" stroke="#2b2b2b" stroke-width="0.6"/>
<rect x="462.06" y="466.35" width="9.72" height="38.50" fill="rgb(236,128,74)" stroke="#2b2b2b" stroke-width="0.6"/>
<rect x="462.06" y="438.85" width="9.72" height="27.50" fill="rgb(100,161,205)" stroke="#2b2b2b" stroke-width="0.6"/>
<rect x="471.78" y="546.10" width="9.72" height="77.00" fill="rgb(101,186,127)" stroke="#2b2b2b" stroke-width="0.6"/>
<rect x="471.78" y="518.60" width="9.72" height="27.50" fill="rgb(236,128,74)" stroke="#2b2b2b" stroke-width="0.6"/>
<rect x="471.78" y="515.85" width="9.72" height="2.75" fill="rgb(100,161,205)" stroke="#2b2b2b" stroke-width="0.6"/>
<rect x="481.50" y="529.60" width="9.72" height="93.50" fill="rgb(101,186,127)" stroke="#2b2b2b" stroke-width="0.6"/>
<rect x="481.50" y="499.35" width="9.72" height="30.25" fill="rgb(236,128,74)" stroke="#2b2b2b" stroke-width="0.6"/>
<rect x="481.50" y="493.85" width="9.72" height="5.50" fill="rgb(100,161,205)" stroke="#2b2b2b" stroke-width="0.6"/>
<rect x="491.22" y="576.35" width="9.72" height="46.75" fill="rgb(101,186,127)" stroke="#2b2b2b" stroke-width="0.6"/>
<rect x="491.22" y="568.10" width="9.72" height="8.25" fill="rgb(236,128,74)" stroke="#2b2b2b" stroke-width="0.6"/>
<rect x="500.94" y="620.35" width="9.72" height="2.75" fill="rgb(101,186,127)" stroke="#2b2b2b" stroke-width="0.6"/>
<rect x="500.94" y="614.85" width="9.72" height="5.50" fill="rgb(236,128,74)" stroke="#2b2b2b" stroke-width="0.6"/>
<rect x="500.94" y="612.10" width="9.72" height="2.75" fill="rgb(100,161,205)" stroke="#2b2b2b" stroke-width="0.6"/>
<rect x="510.66" y="620.35" width="9.72" height="2.75" fill="rgb(101,186,127)" stroke="#2b2b2b" stroke-width="0.6"/>
<rect x="510.66" y="614.85" width="9.72" height="5.50" fill="rgb(236,128,74)" stroke="#2b2b2b" stroke-width="0.6"/>
<rect x="520.38" y="620.35" width="9.72" height="2.75" fill="rgb(236,128,74)" stroke="#2b2b2b" stroke-width="0.6"/>
<rect x="520.38" y="612.10" width="9.72" height="8.25" fill="rgb(100,161,205)" stroke="#2b2b2b" stroke-width="0.6"/>
<rect x="568.98" y="620.35" width="9.72" height="2.75" fill="rgb(101,186,127)" stroke="#2b2b2b" stroke-width="0.6"/>
<rect x="568.98" y="617.60" width="9.72" height="2.75" fill="rgb(236,128,74)" stroke="#2b2b2b" stroke-width="0.6"/>
<line x1="198.50" y1="623.10" x2="198.50" y2="430.60" stroke="#3182bd" stroke-width="0.9" stroke-dasharray="2.7,1.7"/>
<line x1="440.70" y1="623.10" x2="440.70" y2="430.60" stroke="#3182bd" stroke-width="0.9" stroke-dasharray="2.7,1.7"/>
<text x="201.60" y="440.20" font-size="8.4" text-anchor="start" font-weight="bold" fill="#3182bd" stroke="#3182bd" textLength="35.48" lengthAdjust="spacingAndGlyphs">8.8<tspan font-weight="normal">±</tspan>4.4</text>
<text x="401.30" y="440.20" font-size="8.4" text-anchor="start" font-weight="bold" fill="#3182bd" stroke="#3182bd" textLength="35.48" lengthAdjust="spacingAndGlyphs">4.4<tspan font-weight="normal">±</tspan>2.4</text>
<rect x="42.10" y="430.60" width="265.90" height="192.50" fill="none" stroke="#000" stroke-width="1.2"/>
<line x1="42.10" y1="584.60" x2="47.50" y2="584.60" stroke="#000" stroke-width="1.0"/>
<text x="40.40" y="587.60" font-size="8.5" text-anchor="end" fill="#000" stroke="#000" textLength="9.93" lengthAdjust="spacingAndGlyphs">10</text>
<line x1="42.10" y1="546.10" x2="47.50" y2="546.10" stroke="#000" stroke-width="1.0"/>
<text x="40.40" y="549.10" font-size="8.5" text-anchor="end" fill="#000" stroke="#000" textLength="9.93" lengthAdjust="spacingAndGlyphs">20</text>
<line x1="42.10" y1="507.60" x2="47.50" y2="507.60" stroke="#000" stroke-width="1.0"/>
<text x="40.40" y="510.60" font-size="8.5" text-anchor="end" fill="#000" stroke="#000" textLength="9.93" lengthAdjust="spacingAndGlyphs">30</text>
<line x1="42.10" y1="469.10" x2="47.50" y2="469.10" stroke="#000" stroke-width="1.0"/>
<text x="40.40" y="472.10" font-size="8.5" text-anchor="end" fill="#000" stroke="#000" textLength="9.93" lengthAdjust="spacingAndGlyphs">40</text>
<line x1="42.10" y1="430.60" x2="47.50" y2="430.60" stroke="#000" stroke-width="1.0"/>
<text x="40.40" y="433.60" font-size="8.5" text-anchor="end" fill="#000" stroke="#000" textLength="9.93" lengthAdjust="spacingAndGlyphs">50</text>
<line x1="208.10" y1="623.10" x2="208.10" y2="617.70" stroke="#000" stroke-width="1.0"/>
<line x1="92.07" y1="623.10" x2="92.07" y2="620.60" stroke="#000" stroke-width="0.8"/>
<line x1="121.30" y1="623.10" x2="121.30" y2="620.60" stroke="#000" stroke-width="0.8"/>
<line x1="142.04" y1="623.10" x2="142.04" y2="620.60" stroke="#000" stroke-width="0.8"/>
<line x1="158.13" y1="623.10" x2="158.13" y2="620.60" stroke="#000" stroke-width="0.8"/>
<line x1="171.27" y1="623.10" x2="171.27" y2="620.60" stroke="#000" stroke-width="0.8"/>
<line x1="182.39" y1="623.10" x2="182.39" y2="620.60" stroke="#000" stroke-width="0.8"/>
<line x1="192.01" y1="623.10" x2="192.01" y2="620.60" stroke="#000" stroke-width="0.8"/>
<line x1="200.50" y1="623.10" x2="200.50" y2="620.60" stroke="#000" stroke-width="0.8"/>
<line x1="258.07" y1="623.10" x2="258.07" y2="620.60" stroke="#000" stroke-width="0.8"/>
<line x1="287.30" y1="623.10" x2="287.30" y2="620.60" stroke="#000" stroke-width="0.8"/>
<text x="34.90" y="634.00" font-size="8.5" text-anchor="start" fill="#000" stroke="#000" textLength="9.93" lengthAdjust="spacingAndGlyphs">10</text>
<text x="45.00" y="630.60" font-size="5.949999999999999" text-anchor="start" fill="#000" stroke="#000" textLength="3.47" lengthAdjust="spacingAndGlyphs">0</text>
<text x="200.90" y="634.00" font-size="8.5" text-anchor="start" fill="#000" stroke="#000" textLength="9.93" lengthAdjust="spacingAndGlyphs">10</text>
<text x="211.00" y="630.60" font-size="5.949999999999999" text-anchor="start" fill="#000" stroke="#000" textLength="3.47" lengthAdjust="spacingAndGlyphs">1</text>
<rect x="334.80" y="430.60" width="265.60" height="192.50" fill="none" stroke="#000" stroke-width="1.2"/>
<line x1="334.80" y1="595.60" x2="340.20" y2="595.60" stroke="#000" stroke-width="1.0"/>
<text x="333.10" y="598.60" font-size="8.5" text-anchor="end" fill="#000" stroke="#000" textLength="9.93" lengthAdjust="spacingAndGlyphs">10</text>
<line x1="334.80" y1="568.10" x2="340.20" y2="568.10" stroke="#000" stroke-width="1.0"/>
<text x="333.10" y="571.10" font-size="8.5" text-anchor="end" fill="#000" stroke="#000" textLength="9.93" lengthAdjust="spacingAndGlyphs">20</text>
<line x1="334.80" y1="540.60" x2="340.20" y2="540.60" stroke="#000" stroke-width="1.0"/>
<text x="333.10" y="543.60" font-size="8.5" text-anchor="end" fill="#000" stroke="#000" textLength="9.93" lengthAdjust="spacingAndGlyphs">30</text>
<line x1="334.80" y1="513.10" x2="340.20" y2="513.10" stroke="#000" stroke-width="1.0"/>
<text x="333.10" y="516.10" font-size="8.5" text-anchor="end" fill="#000" stroke="#000" textLength="9.93" lengthAdjust="spacingAndGlyphs">40</text>
<line x1="334.80" y1="485.60" x2="340.20" y2="485.60" stroke="#000" stroke-width="1.0"/>
<text x="333.10" y="488.60" font-size="8.5" text-anchor="end" fill="#000" stroke="#000" textLength="9.93" lengthAdjust="spacingAndGlyphs">50</text>
<line x1="334.80" y1="458.10" x2="340.20" y2="458.10" stroke="#000" stroke-width="1.0"/>
<text x="333.10" y="461.10" font-size="8.5" text-anchor="end" fill="#000" stroke="#000" textLength="9.93" lengthAdjust="spacingAndGlyphs">60</text>
<line x1="334.80" y1="430.60" x2="340.20" y2="430.60" stroke="#000" stroke-width="1.0"/>
<text x="333.10" y="433.60" font-size="8.5" text-anchor="end" fill="#000" stroke="#000" textLength="9.93" lengthAdjust="spacingAndGlyphs">70</text>
<line x1="500.80" y1="623.10" x2="500.80" y2="617.70" stroke="#000" stroke-width="1.0"/>
<line x1="384.77" y1="623.10" x2="384.77" y2="620.60" stroke="#000" stroke-width="0.8"/>
<line x1="414.00" y1="623.10" x2="414.00" y2="620.60" stroke="#000" stroke-width="0.8"/>
<line x1="434.74" y1="623.10" x2="434.74" y2="620.60" stroke="#000" stroke-width="0.8"/>
<line x1="450.83" y1="623.10" x2="450.83" y2="620.60" stroke="#000" stroke-width="0.8"/>
<line x1="463.97" y1="623.10" x2="463.97" y2="620.60" stroke="#000" stroke-width="0.8"/>
<line x1="475.09" y1="623.10" x2="475.09" y2="620.60" stroke="#000" stroke-width="0.8"/>
<line x1="484.71" y1="623.10" x2="484.71" y2="620.60" stroke="#000" stroke-width="0.8"/>
<line x1="493.20" y1="623.10" x2="493.20" y2="620.60" stroke="#000" stroke-width="0.8"/>
<line x1="550.77" y1="623.10" x2="550.77" y2="620.60" stroke="#000" stroke-width="0.8"/>
<line x1="580.00" y1="623.10" x2="580.00" y2="620.60" stroke="#000" stroke-width="0.8"/>
<text x="327.60" y="634.00" font-size="8.5" text-anchor="start" fill="#000" stroke="#000" textLength="9.93" lengthAdjust="spacingAndGlyphs">10</text>
<text x="337.70" y="630.60" font-size="5.949999999999999" text-anchor="start" fill="#000" stroke="#000" textLength="3.47" lengthAdjust="spacingAndGlyphs">0</text>
<text x="493.60" y="634.00" font-size="8.5" text-anchor="start" fill="#000" stroke="#000" textLength="9.93" lengthAdjust="spacingAndGlyphs">10</text>
<text x="503.70" y="630.60" font-size="5.949999999999999" text-anchor="start" fill="#000" stroke="#000" textLength="3.47" lengthAdjust="spacingAndGlyphs">1</text>
<text x="44.70" y="427.00" font-size="8.6" text-anchor="start" font-weight="bold" fill="#000" stroke="#000" textLength="11.15" lengthAdjust="spacingAndGlyphs">(c)</text>
<text x="68.80" y="459.40" font-size="9.9" text-anchor="start" fill="#000" stroke="#000" textLength="26.15" lengthAdjust="spacingAndGlyphs">Wake</text>
<text x="361.60" y="459.40" font-size="9.9" text-anchor="start" fill="#000" stroke="#000" textLength="21.24" lengthAdjust="spacingAndGlyphs">REM</text>
<text x="295.00" y="647.20" font-size="9.9" text-anchor="start" fill="#000" stroke="#000" textLength="51.66" lengthAdjust="spacingAndGlyphs">Noise [<tspan font-style="italic">μ</tspan>V]</text>
<text x="9.40" y="537.80" font-size="9.9" text-anchor="start" fill="#000" stroke="#000" textLength="29.55" lengthAdjust="spacingAndGlyphs" transform="rotate(-90 9.40 537.80)">Count</text>
<line x1="256.60" y1="441.50" x2="276.60" y2="441.50" stroke="#3182bd" stroke-width="3.0"/>
<text x="281.70" y="444.50" font-size="8.1" text-anchor="start" fill="#000" stroke="#000" textLength="17.93" lengthAdjust="spacingAndGlyphs">EMG</text>
<line x1="256.60" y1="453.70" x2="276.60" y2="453.70" stroke="#e6550d" stroke-width="3.0"/>
<text x="281.70" y="456.70" font-size="8.1" text-anchor="start" fill="#000" stroke="#000" textLength="17.33" lengthAdjust="spacingAndGlyphs">EOG</text>
<line x1="256.60" y1="465.90" x2="276.60" y2="465.90" stroke="#31a354" stroke-width="3.0"/>
<text x="281.70" y="468.90" font-size="8.1" text-anchor="start" fill="#000" stroke="#000" textLength="16.10" lengthAdjust="spacingAndGlyphs">EEG</text>
</svg></div>
</body></html>
